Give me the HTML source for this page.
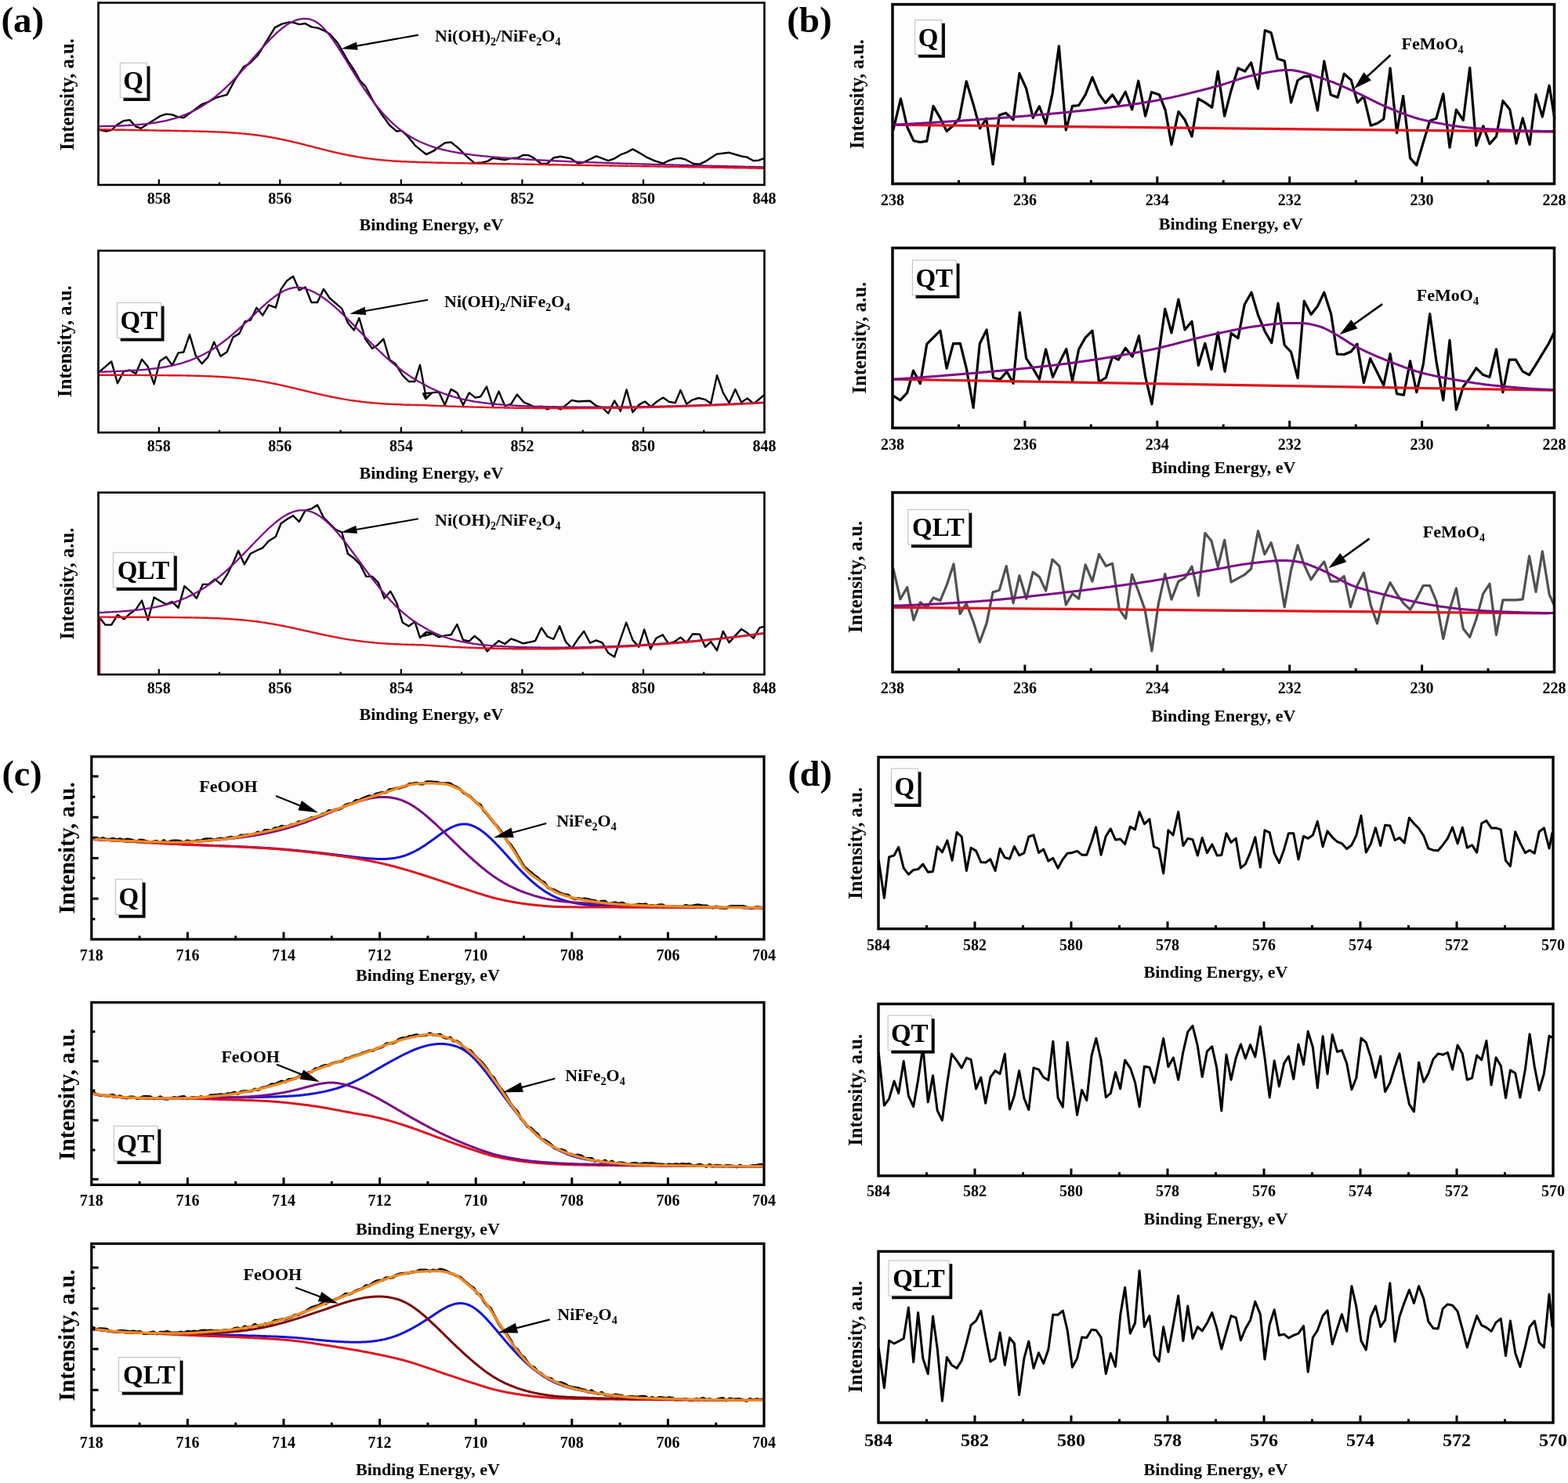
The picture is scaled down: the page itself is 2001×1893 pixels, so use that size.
<!DOCTYPE html>
<html><head><meta charset="utf-8"><title>XPS spectra</title>
<style>
html,body{margin:0;padding:0;background:#fff;}
body{width:2001px;height:1893px;overflow:hidden;}
svg{display:block;}
text{font-family:'Liberation Serif','Times New Roman',serif;font-weight:bold;fill:#000;}
</style></head><body>
<svg width="2001" height="1893" viewBox="0 0 2001 1893">
<rect width="2001" height="1893" fill="#fff"/>
<rect x="125.5" y="3.5" width="850" height="232.5" fill="#fdfdfd"/>
<rect x="125.5" y="320" width="850" height="232.1" fill="#fdfdfd"/>
<rect x="125.5" y="628.7" width="850" height="232.3" fill="#fdfdfd"/>
<polyline points="125.5,165.3 135.5,167.5 142.2,166 148.8,159.8 157.7,154.2 165.5,153.1 173.3,161.5 179.9,163.8 193.2,155.3 204.3,148.2 212.1,145.6 219.8,146.4 226.5,149.1 234.3,150.4 244.3,143.1 257.6,133.1 266.4,129.8 275.3,124.9 289.7,120.9 299.7,102.1 310.8,85.4 318.6,81 328.6,71 339.7,53.3 350.8,35.1 359.6,30.6 368.5,28.4 375.2,28.8 381.8,31.1 389.6,30 397.4,34.4 406.2,35.9 412.9,38.8 420.7,43.3 430.6,54.4 444,77.7 452.8,91 459.5,103.2 466.1,109.8 477.2,130.9 488.3,147.6 497.2,159.8 506.1,167.5 512.7,166.9 519.4,173.1 530.5,186.4 543.8,197 554.9,191.9 544.4,197 552.2,193 567.7,182.4 575.5,181.5 584.4,188.6 595.5,199.7 605.5,208.1 615.4,207.5 622.1,205.9 628.8,201.9 637.6,203 644.3,204.1 653.2,201.9 660.9,201.5 667.6,197.9 674.2,198.1 679.8,200.8 690.9,209 698.6,208.6 706.4,201.5 715.3,199.7 728.6,202.4 737.5,208.6 744.1,207.5 760.8,199.3 776.3,205.2 784.1,202.4 791.8,197.5 799.6,194.6 807.4,190.4 815.1,194.6 824,200.1 835.1,205.2 846.2,208.6 852.9,205.2 861.7,202.4 868.4,201.9 875,203.7 885,209 892.8,209.7 899.5,206.4 915,196.6 930.5,194.8 939.4,197.5 947.2,199.7 952.7,200.4 961.6,205.2 968.2,204.6 974.5,202.4" fill="none" stroke="#000" stroke-width="2.4" stroke-linejoin="round" stroke-linecap="round"/>
<polyline points="125.5,161.3 127,161.3 128.5,161.3 130,161.2 131.5,161.2 133,161.2 134.5,161.1 136,161.1 137.5,161.1 139,161 140.5,161 142,160.9 143.5,160.9 145,160.9 146.5,160.8 148,160.8 149.5,160.7 151,160.6 152.5,160.6 154,160.5 155.5,160.5 157,160.4 158.5,160.3 160,160.2 161.5,160.2 163,160.1 164.5,160 166,159.9 167.5,159.8 169,159.7 170.5,159.6 172,159.5 173.5,159.4 175,159.3 176.5,159.2 178,159 179.5,158.9 181,158.7 182.5,158.6 184,158.4 185.5,158.3 187,158.1 188.5,157.9 190,157.8 191.5,157.6 193,157.4 194.5,157.2 196,156.9 197.5,156.7 199,156.5 200.5,156.2 202,156 203.5,155.7 205,155.4 206.5,155.1 208,154.8 209.5,154.5 211,154.2 212.5,153.8 214,153.5 215.5,153.1 217,152.7 218.5,152.3 220,151.9 221.5,151.5 223,151.1 224.5,150.6 226,150.1 227.5,149.6 229,149.1 230.5,148.6 232,148.1 233.5,147.5 235,146.9 236.5,146.3 238,145.7 239.5,145.1 241,144.4 242.5,143.7 244,143 245.5,142.3 247,141.5 248.5,140.8 250,140 251.5,139.2 253,138.3 254.5,137.5 256,136.6 257.5,135.7 259,134.7 260.5,133.8 262,132.8 263.5,131.8 265,130.8 266.5,129.7 268,128.6 269.5,127.5 271,126.4 272.5,125.3 274,124.1 275.5,122.9 277,121.6 278.5,120.4 280,119.1 281.5,117.8 283,116.5 284.5,115.1 286,113.8 287.5,112.4 289,111 290.5,109.5 292,108.1 293.5,106.6 295,105.1 296.5,103.6 298,102 299.5,100.5 301,98.9 302.5,97.3 304,95.7 305.5,94.1 307,92.4 308.5,90.8 310,89.1 311.5,87.4 313,85.8 314.5,84.1 316,82.4 317.5,80.7 319,78.9 320.5,77.2 322,75.5 323.5,73.8 325,72.1 326.5,70.4 328,68.6 329.5,66.9 331,65.2 332.5,63.5 334,61.9 335.5,60.2 337,58.5 338.5,56.9 340,55.3 341.5,53.6 343,52.1 344.5,50.5 346,49 347.5,47.4 349,46 350.5,44.5 352,43.1 353.5,41.7 355,40.3 356.5,39 358,37.8 359.5,36.5 361,35.3 362.5,34.2 364,33.1 365.5,32.1 367,31.1 368.5,30.2 370,29.3 371.5,28.5 373,27.7 374.5,27 376,26.4 377.5,25.9 379,25.4 380.5,24.9 382,24.6 383.5,24.3 385,24.1 386.5,23.9 388,23.9 389.5,23.9 391,24 392.5,24.1 394,24.4 395.5,24.7 397,25 398.5,25.5 400,26.2 401.5,26.9 403,27.7 404.5,28.7 406,29.7 407.5,30.9 409,32.2 410.5,33.5 412,35 413.5,36.5 415,38.2 416.5,39.9 418,41.7 419.5,43.6 421,45.5 422.5,47.5 424,49.6 425.5,51.7 427,53.9 428.5,56.1 430,58.4 431.5,60.7 433,63 434.5,65.4 436,67.8 437.5,70.2 439,72.6 440.5,75 442,77.4 443.5,79.9 445,82.3 446.5,84.8 448,87.2 449.5,89.6 451,92.1 452.5,94.5 454,96.9 455.5,99.2 457,101.6 458.5,103.9 460,106.3 461.5,108.5 463,110.8 464.5,113.1 466,115.3 467.5,117.4 469,119.6 470.5,121.7 472,123.8 473.5,125.9 475,127.9 476.5,129.9 478,131.8 479.5,133.7 481,135.6 482.5,137.5 484,139.3 485.5,141.1 487,142.8 488.5,144.5 490,146.2 491.5,147.8 493,149.4 494.5,150.9 496,152.5 497.5,153.9 499,155.4 500.5,156.8 502,158.2 503.5,159.5 505,160.8 506.5,162.1 508,163.3 509.5,164.5 511,165.7 512.5,166.8 514,167.9 515.5,169 517,170.1 518.5,171.1 520,172.1 521.5,173 523,174 524.5,174.9 526,175.7 527.5,176.6 529,177.4 530.5,178.2 532,179 533.5,179.7 535,180.5 536.5,181.2 538,181.8 539.5,182.5 541,183.1 542.5,183.7 544,184.3 545.5,184.9 547,185.5 548.5,186 550,186.6 551.5,187.1 553,187.6 554.5,188 556,188.5 557.5,188.9 559,189.4 560.5,189.8 562,190.2 563.5,190.6 565,191 566.5,191.3 568,191.7 569.5,192.1 571,192.4 572.5,192.7 574,193 575.5,193.3 577,193.6 578.5,193.9 580,194.2 581.5,194.5 583,194.7 584.5,195 586,195.3 587.5,195.5 589,195.7 590.5,196 592,196.2 593.5,196.4 595,196.6 596.5,196.8 598,197 599.5,197.2 601,197.4 602.5,197.6 604,197.8 605.5,198 607,198.2 608.5,198.3 610,198.5 611.5,198.7 613,198.8 614.5,199 616,199.1 617.5,199.3 619,199.4 620.5,199.6 622,199.7 623.5,199.9 625,200 626.5,200.2 628,200.3 629.5,200.4 631,200.6 632.5,200.7 634,200.8 635.5,200.9 637,201 638.5,201.2 640,201.3 641.5,201.4 643,201.5 644.5,201.6 646,201.7 647.5,201.8 649,202 650.5,202.1 652,202.2 653.5,202.3 655,202.4 656.5,202.5 658,202.6 659.5,202.7 661,202.8 662.5,202.9 664,203 665.5,203.1 667,203.2 668.5,203.2 670,203.3 671.5,203.4 673,203.5 674.5,203.6 676,203.7 677.5,203.8 679,203.9 680.5,203.9 682,204 683.5,204.1 685,204.2 686.5,204.3 688,204.3 689.5,204.4 691,204.5 692.5,204.6 694,204.7 695.5,204.7 697,204.8 698.5,204.9 700,205 701.5,205 703,205.1 704.5,205.2 706,205.2 707.5,205.3 709,205.4 710.5,205.5 712,205.5 713.5,205.6 715,205.7 716.5,205.7 718,205.8 719.5,205.9 721,205.9 722.5,206 724,206.1 725.5,206.1 727,206.2 728.5,206.3 730,206.3 731.5,206.4 733,206.4 734.5,206.5 736,206.6 737.5,206.6 739,206.7 740.5,206.7 742,206.8 743.5,206.9 745,206.9 746.5,207 748,207 749.5,207.1 751,207.1 752.5,207.2 754,207.3 755.5,207.3 757,207.4 758.5,207.4 760,207.5 761.5,207.5 763,207.6 764.5,207.6 766,207.7 767.5,207.7 769,207.8 770.5,207.9 772,207.9 773.5,208 775,208 776.5,208.1 778,208.1 779.5,208.2 781,208.2 782.5,208.3 784,208.3 785.5,208.4 787,208.4 788.5,208.5 790,208.5 791.5,208.6 793,208.6 794.5,208.7 796,208.7 797.5,208.7 799,208.8 800.5,208.8 802,208.9 803.5,208.9 805,209 806.5,209 808,209.1 809.5,209.1 811,209.2 812.5,209.2 814,209.3 815.5,209.3 817,209.3 818.5,209.4 820,209.4 821.5,209.5 823,209.5 824.5,209.6 826,209.6 827.5,209.7 829,209.7 830.5,209.7 832,209.8 833.5,209.8 835,209.9 836.5,209.9 838,209.9 839.5,210 841,210 842.5,210.1 844,210.1 845.5,210.2 847,210.2 848.5,210.2 850,210.3 851.5,210.3 853,210.4 854.5,210.4 856,210.4 857.5,210.5 859,210.5 860.5,210.6 862,210.6 863.5,210.6 865,210.7 866.5,210.7 868,210.8 869.5,210.8 871,210.8 872.5,210.9 874,210.9 875.5,211 877,211 878.5,211 880,211.1 881.5,211.1 883,211.1 884.5,211.2 886,211.2 887.5,211.3 889,211.3 890.5,211.3 892,211.4 893.5,211.4 895,211.4 896.5,211.5 898,211.5 899.5,211.6 901,211.6 902.5,211.6 904,211.7 905.5,211.7 907,211.7 908.5,211.8 910,211.8 911.5,211.9 913,211.9 914.5,211.9 916,212 917.5,212 919,212 920.5,212.1 922,212.1 923.5,212.1 925,212.2 926.5,212.2 928,212.2 929.5,212.3 931,212.3 932.5,212.4 934,212.4 935.5,212.4 937,212.5 938.5,212.5 940,212.5 941.5,212.6 943,212.6 944.5,212.6 946,212.7 947.5,212.7 949,212.7 950.5,212.8 952,212.8 953.5,212.8 955,212.9 956.5,212.9 958,212.9 959.5,213 961,213 962.5,213 964,213.1 965.5,213.1 967,213.1 968.5,213.2 970,213.2 971.5,213.2 973,213.3 974.5,213.3" fill="none" stroke="#7b0d86" stroke-width="2.3" stroke-linejoin="round" stroke-linecap="round"/>
<polyline points="125.5,165.3 127,165.3 128.5,165.3 130,165.4 131.5,165.4 133,165.4 134.5,165.4 136,165.5 137.5,165.5 139,165.5 140.5,165.5 142,165.6 143.5,165.6 145,165.6 146.5,165.6 148,165.7 149.5,165.7 151,165.7 152.5,165.7 154,165.8 155.5,165.8 157,165.8 158.5,165.8 160,165.9 161.5,165.9 163,165.9 164.5,165.9 166,166 167.5,166 169,166 170.5,166 172,166.1 173.5,166.1 175,166.1 176.5,166.1 178,166.2 179.5,166.2 181,166.2 182.5,166.2 184,166.3 185.5,166.3 187,166.3 188.5,166.3 190,166.4 191.5,166.4 193,166.4 194.5,166.4 196,166.5 197.5,166.5 199,166.5 200.5,166.6 202,166.6 203.5,166.6 205,166.6 206.5,166.7 208,166.7 209.5,166.7 211,166.7 212.5,166.8 214,166.8 215.5,166.8 217,166.8 218.5,166.9 220,166.9 221.5,166.9 223,167 224.5,167 226,167 227.5,167 229,167.1 230.5,167.1 232,167.1 233.5,167.2 235,167.2 236.5,167.2 238,167.3 239.5,167.3 241,167.3 242.5,167.4 244,167.4 245.5,167.4 247,167.5 248.5,167.5 250,167.5 251.5,167.6 253,167.6 254.5,167.7 256,167.7 257.5,167.7 259,167.8 260.5,167.8 262,167.9 263.5,167.9 265,168 266.5,168 268,168.1 269.5,168.1 271,168.2 272.5,168.3 274,168.3 275.5,168.4 277,168.4 278.5,168.5 280,168.6 281.5,168.6 283,168.7 284.5,168.8 286,168.9 287.5,169 289,169 290.5,169.1 292,169.2 293.5,169.3 295,169.4 296.5,169.5 298,169.6 299.5,169.7 301,169.8 302.5,169.9 304,170.1 305.5,170.2 307,170.3 308.5,170.4 310,170.6 311.5,170.7 313,170.8 314.5,171 316,171.1 317.5,171.3 319,171.5 320.5,171.6 322,171.8 323.5,172 325,172.2 326.5,172.3 328,172.5 329.5,172.7 331,172.9 332.5,173.2 334,173.4 335.5,173.6 337,173.8 338.5,174 340,174.3 341.5,174.5 343,174.8 344.5,175 346,175.3 347.5,175.6 349,175.8 350.5,176.1 352,176.4 353.5,176.7 355,177 356.5,177.3 358,177.6 359.5,177.9 361,178.2 362.5,178.5 364,178.8 365.5,179.1 367,179.5 368.5,179.8 370,180.2 371.5,180.5 373,180.9 374.5,181.2 376,181.6 377.5,181.9 379,182.3 380.5,182.6 382,183 383.5,183.4 385,183.8 386.5,184.1 388,184.5 389.5,184.9 391,185.3 392.5,185.7 394,186 395.5,186.4 397,186.8 398.5,187.2 400,187.6 401.5,188 403,188.4 404.5,188.8 406,189.1 407.5,189.5 409,189.9 410.5,190.3 412,190.7 413.5,191 415,191.4 416.5,191.8 418,192.2 419.5,192.5 421,192.9 422.5,193.3 424,193.6 425.5,194 427,194.3 428.5,194.7 430,195 431.5,195.3 433,195.7 434.5,196 436,196.3 437.5,196.7 439,197 440.5,197.3 442,197.6 443.5,197.9 445,198.2 446.5,198.5 448,198.8 449.5,199 451,199.3 452.5,199.6 454,199.8 455.5,200.1 457,200.4 458.5,200.6 460,200.8 461.5,201.1 463,201.3 464.5,201.5 466,201.7 467.5,202 469,202.2 470.5,202.4 472,202.6 473.5,202.7 475,202.9 476.5,203.1 478,203.3 479.5,203.5 481,203.6 482.5,203.8 484,203.9 485.5,204.1 487,204.2 488.5,204.4 490,204.5 491.5,204.6 493,204.8 494.5,204.9 496,205 497.5,205.1 499,205.2 500.5,205.4 502,205.5 503.5,205.6 505,205.7 506.5,205.7 508,205.8 509.5,205.9 511,206 512.5,206.1 514,206.2 515.5,206.3 517,206.3 518.5,206.4 520,206.5 521.5,206.5 523,206.6 524.5,206.7 526,206.7 527.5,206.8 529,206.8 530.5,206.9 532,207 533.5,207 535,207.1 536.5,207.1 538,207.1 539.5,207.2 541,207.2 542.5,207.3 544,207.3 545.5,207.4 547,207.4 548.5,207.4 550,207.5 551.5,207.5 553,207.6 554.5,207.6 556,207.6 557.5,207.7 559,207.7 560.5,207.7 562,207.8 563.5,207.8 565,207.8 566.5,207.9 568,207.9 569.5,207.9 571,208 572.5,208 574,208 575.5,208 577,208.1 578.5,208.1 580,208.1 581.5,208.2 583,208.2 584.5,208.2 586,208.2 587.5,208.3 589,208.3 590.5,208.3 592,208.3 593.5,208.4 595,208.4 596.5,208.4 598,208.4 599.5,208.5 601,208.5 602.5,208.5 604,208.6 605.5,208.6 607,208.6 608.5,208.6 610,208.7 611.5,208.7 613,208.7 614.5,208.7 616,208.8 617.5,208.8 619,208.8 620.5,208.8 622,208.9 623.5,208.9 625,208.9 626.5,208.9 628,209 629.5,209 631,209 632.5,209 634,209.1 635.5,209.1 637,209.1 638.5,209.1 640,209.2 641.5,209.2 643,209.2 644.5,209.2 646,209.3 647.5,209.3 649,209.3 650.5,209.3 652,209.4 653.5,209.4 655,209.4 656.5,209.4 658,209.5 659.5,209.5 661,209.5 662.5,209.5 664,209.6 665.5,209.6 667,209.6 668.5,209.6 670,209.7 671.5,209.7 673,209.7 674.5,209.7 676,209.8 677.5,209.8 679,209.8 680.5,209.8 682,209.9 683.5,209.9 685,209.9 686.5,209.9 688,210 689.5,210 691,210 692.5,210 694,210.1 695.5,210.1 697,210.1 698.5,210.1 700,210.2 701.5,210.2 703,210.2 704.5,210.2 706,210.3 707.5,210.3 709,210.3 710.5,210.3 712,210.4 713.5,210.4 715,210.4 716.5,210.4 718,210.5 719.5,210.5 721,210.5 722.5,210.5 724,210.6 725.5,210.6 727,210.6 728.5,210.6 730,210.7 731.5,210.7 733,210.7 734.5,210.7 736,210.8 737.5,210.8 739,210.8 740.5,210.8 742,210.9 743.5,210.9 745,210.9 746.5,210.9 748,211 749.5,211 751,211 752.5,211 754,211.1 755.5,211.1 757,211.1 758.5,211.1 760,211.2 761.5,211.2 763,211.2 764.5,211.2 766,211.3 767.5,211.3 769,211.3 770.5,211.3 772,211.4 773.5,211.4 775,211.4 776.5,211.4 778,211.5 779.5,211.5 781,211.5 782.5,211.5 784,211.6 785.5,211.6 787,211.6 788.5,211.6 790,211.7 791.5,211.7 793,211.7 794.5,211.7 796,211.8 797.5,211.8 799,211.8 800.5,211.8 802,211.9 803.5,211.9 805,211.9 806.5,212 808,212 809.5,212 811,212 812.5,212.1 814,212.1 815.5,212.1 817,212.1 818.5,212.2 820,212.2 821.5,212.2 823,212.2 824.5,212.3 826,212.3 827.5,212.3 829,212.3 830.5,212.4 832,212.4 833.5,212.4 835,212.4 836.5,212.5 838,212.5 839.5,212.5 841,212.5 842.5,212.6 844,212.6 845.5,212.6 847,212.6 848.5,212.7 850,212.7 851.5,212.7 853,212.7 854.5,212.8 856,212.8 857.5,212.8 859,212.8 860.5,212.9 862,212.9 863.5,212.9 865,212.9 866.5,213 868,213 869.5,213 871,213 872.5,213.1 874,213.1 875.5,213.1 877,213.1 878.5,213.2 880,213.2 881.5,213.2 883,213.2 884.5,213.3 886,213.3 887.5,213.3 889,213.3 890.5,213.4 892,213.4 893.5,213.4 895,213.4 896.5,213.5 898,213.5 899.5,213.5 901,213.6 902.5,213.6 904,213.6 905.5,213.6 907,213.7 908.5,213.7 910,213.7 911.5,213.7 913,213.8 914.5,213.8 916,213.8 917.5,213.8 919,213.9 920.5,213.9 922,213.9 923.5,213.9 925,214 926.5,214 928,214 929.5,214 931,214.1 932.5,214.1 934,214.1 935.5,214.1 937,214.2 938.5,214.2 940,214.2 941.5,214.2 943,214.3 944.5,214.3 946,214.3 947.5,214.3 949,214.4 950.5,214.4 952,214.4 953.5,214.4 955,214.5 956.5,214.5 958,214.5 959.5,214.5 961,214.6 962.5,214.6 964,214.6 965.5,214.6 967,214.7 968.5,214.7 970,214.7 971.5,214.8 973,214.8 974.5,214.8" fill="none" stroke="#e0141e" stroke-width="2.4" stroke-linejoin="round" stroke-linecap="round"/>
<polyline points="126.2,475.2 134.4,468.1 142.2,461.4 150,489.2 157.7,474.3 165.5,472.5 173.3,477 181,458.8 188.8,468.1 196.6,490.3 203.9,461 212.1,455.5 219.8,466.3 227.6,450.4 234.3,449.5 242,427.1 249.8,454.1 257.6,464.3 265.3,455.9 273.1,436.6 281.5,454.8 289.7,449.2 297.5,430.4 305.3,425.9 312.6,410.4 319.7,408.6 327.5,392.7 335.2,402.6 343,389.3 351.9,392.7 358.5,369.4 366.3,358.3 374.1,352.7 381.8,370.5 389.6,366.5 397.4,386 405.1,386 412.9,368.9 420.7,380.5 428.4,387.1 436.2,393.8 444,412.2 451.7,421.5 458.4,406 466.1,432.6 475,444.8 481.7,440.4 489.4,432.6 497.2,459.2 505,464.8 513.8,479.2 521.6,487 529.4,487 536,465.9 543.8,508 551.6,501.4 540,502.5 543.3,509.2 551.1,501.4 560,500.3 567.7,516.9 575.5,496.9 583.3,501.4 591,516.9 598.8,501.4 606.6,507.6 613.2,506.3 621,493.6 628.8,518 636.5,499.6 644.3,518 652.1,515.8 659.8,503.6 668.7,513.6 676.5,516.9 683.1,520.2 690.9,518.7 698.6,522.5 706.4,519.1 715.3,522.5 721.9,517.4 729.7,510.9 737.5,512.5 745.2,512 753,511.8 760.8,518 768.5,520.2 776.3,527.6 784.1,511.4 791.8,524.7 799.6,497.4 807.4,526.2 815.1,516.9 822.9,512.5 830.7,519.1 838.4,512.5 846.2,507.6 854,512.9 861.7,514.3 868.4,498.1 876.2,515.8 883.9,510.3 891.7,508 899.5,509.8 907.2,515.1 915,479.2 922.8,501.4 930.5,514.3 938.3,496.9 946.1,513.6 953.8,508.5 961.6,515.1 969.3,509.2 974.5,504.7" fill="none" stroke="#000" stroke-width="2.4" stroke-linejoin="round" stroke-linecap="round"/>
<polyline points="126,474.7 127.5,474.7 129,474.6 130.5,474.6 132,474.6 133.5,474.5 135,474.5 136.5,474.4 138,474.4 139.5,474.3 141,474.3 142.5,474.2 144,474.2 145.5,474.1 147,474.1 148.5,474 150,473.9 151.5,473.9 153,473.8 154.5,473.7 156,473.7 157.5,473.6 159,473.5 160.5,473.5 162,473.4 163.5,473.3 165,473.2 166.5,473.1 168,473 169.5,472.9 171,472.8 172.5,472.7 174,472.6 175.5,472.5 177,472.4 178.5,472.3 180,472.2 181.5,472.1 183,471.9 184.5,471.8 186,471.7 187.5,471.5 189,471.4 190.5,471.2 192,471 193.5,470.9 195,470.7 196.5,470.5 198,470.3 199.5,470.1 201,469.9 202.5,469.7 204,469.5 205.5,469.3 207,469 208.5,468.8 210,468.5 211.5,468.3 213,468 214.5,467.7 216,467.4 217.5,467.1 219,466.8 220.5,466.4 222,466.1 223.5,465.7 225,465.4 226.5,465 228,464.6 229.5,464.2 231,463.8 232.5,463.3 234,462.9 235.5,462.4 237,461.9 238.5,461.4 240,460.9 241.5,460.3 243,459.8 244.5,459.2 246,458.6 247.5,458 249,457.4 250.5,456.8 252,456.1 253.5,455.4 255,454.7 256.5,454 258,453.3 259.5,452.5 261,451.7 262.5,450.9 264,450.1 265.5,449.2 267,448.4 268.5,447.5 270,446.6 271.5,445.6 273,444.7 274.5,443.7 276,442.7 277.5,441.7 279,440.7 280.5,439.6 282,438.5 283.5,437.4 285,436.3 286.5,435.2 288,434 289.5,432.8 291,431.6 292.5,430.4 294,429.2 295.5,427.9 297,426.7 298.5,425.4 300,424.1 301.5,422.8 303,421.4 304.5,420.1 306,418.7 307.5,417.4 309,416 310.5,414.6 312,413.2 313.5,411.8 315,410.4 316.5,409 318,407.6 319.5,406.1 321,404.7 322.5,403.3 324,401.9 325.5,400.4 327,399 328.5,397.6 330,396.2 331.5,394.8 333,393.4 334.5,392.1 336,390.7 337.5,389.4 339,388 340.5,386.7 342,385.4 343.5,384.2 345,383 346.5,381.7 348,380.6 349.5,379.4 351,378.3 352.5,377.3 354,376.2 355.5,375.2 357,374.3 358.5,373.4 360,372.6 361.5,371.8 363,371 364.5,370.3 366,369.7 367.5,369.1 369,368.6 370.5,368.2 372,367.8 373.5,367.5 375,367.2 376.5,367 378,366.9 379.5,366.9 381,366.9 382.5,367 384,367.2 385.5,367.5 387,367.8 388.5,368.2 390,368.6 391.5,369.1 393,369.6 394.5,370.2 396,370.8 397.5,371.4 399,372.1 400.5,372.8 402,373.6 403.5,374.4 405,375.2 406.5,376.1 408,377 409.5,378 411,379 412.5,380 414,381.1 415.5,382.2 417,383.3 418.5,384.4 420,385.6 421.5,386.8 423,388.1 424.5,389.3 426,390.6 427.5,391.9 429,393.3 430.5,394.6 432,396 433.5,397.4 435,398.8 436.5,400.2 438,401.7 439.5,403.1 441,404.6 442.5,406.1 444,407.6 445.5,409.1 447,410.6 448.5,412.1 450,413.6 451.5,415.2 453,416.7 454.5,418.2 456,419.8 457.5,421.3 459,422.9 460.5,424.4 462,426 463.5,427.5 465,429 466.5,430.6 468,432.1 469.5,433.6 471,435.2 472.5,436.7 474,438.2 475.5,439.7 477,441.2 478.5,442.7 480,444.1 481.5,445.6 483,447 484.5,448.5 486,449.9 487.5,451.3 489,452.7 490.5,454.1 492,455.5 493.5,456.8 495,458.2 496.5,459.5 498,460.8 499.5,462.1 501,463.4 502.5,464.6 504,465.9 505.5,467.1 507,468.3 508.5,469.5 510,470.7 511.5,471.8 513,473 514.5,474.1 516,475.2 517.5,476.3 519,477.3 520.5,478.4 522,479.4 523.5,480.4 525,481.4 526.5,482.3 528,483.3 529.5,484.2 531,485.1 532.5,486 534,486.9 535.5,487.7 537,488.6 538.5,489.4 540,490.2 541.5,491 543,491.8 544.5,492.6 546,493.4 547.5,494.2 549,494.9 550.5,495.7 552,496.4 553.5,497.1 555,497.8 556.5,498.4 558,499.1 559.5,499.7 561,500.3 562.5,500.9 564,501.5 565.5,502 567,502.6 568.5,503.1 570,503.7 571.5,504.2 573,504.7 574.5,505.1 576,505.6 577.5,506.1 579,506.5 580.5,506.9 582,507.3 583.5,507.8 585,508.1 586.5,508.5 588,508.9 589.5,509.3 591,509.6 592.5,509.9 594,510.3 595.5,510.6 597,510.9 598.5,511.2 600,511.5 601.5,511.8 603,512 604.5,512.3 606,512.6 607.5,512.8 609,513 610.5,513.3 612,513.5 613.5,513.7 615,513.9 616.5,514.1 618,514.3 619.5,514.5 621,514.7 622.5,514.9 624,515.1 625.5,515.2 627,515.4 628.5,515.5 630,515.7 631.5,515.8 633,516 634.5,516.1 636,516.2 637.5,516.4 639,516.5 640.5,516.6 642,516.7 643.5,516.8 645,517 646.5,517.1 648,517.2 649.5,517.3 651,517.4 652.5,517.4 654,517.5 655.5,517.6 657,517.7 658.5,517.8 660,517.9 661.5,517.9 663,518 664.5,518.1 666,518.2 667.5,518.2 669,518.3 670.5,518.3 672,518.4 673.5,518.5 675,518.5 676.5,518.6 678,518.6 679.5,518.7 681,518.7 682.5,518.8 684,518.8 685.5,518.9 687,518.9 688.5,518.9 690,519 691.5,519 693,519.1 694.5,519.1 696,519.1 697.5,519.2 699,519.2 700.5,519.2 702,519.3 703.5,519.3 705,519.3 706.5,519.3 708,519.4 709.5,519.4 711,519.4 712.5,519.4 714,519.5 715.5,519.5 717,519.5 718.5,519.5 720,519.5 721.5,519.5 723,519.6 724.5,519.6 726,519.6 727.5,519.6 729,519.6 730.5,519.6 732,519.6 733.5,519.7 735,519.7 736.5,519.7 738,519.7 739.5,519.7 741,519.7 742.5,519.7 744,519.7 745.5,519.7 747,519.7 748.5,519.7 750,519.7 751.5,519.7 753,519.7 754.5,519.7 756,519.7 757.5,519.7 759,519.7 760.5,519.7 762,519.7 763.5,519.7 765,519.7 766.5,519.7 768,519.7 769.5,519.7 771,519.7 772.5,519.7 774,519.7 775.5,519.7 777,519.7 778.5,519.7 780,519.6 781.5,519.6 783,519.6 784.5,519.6 786,519.6 787.5,519.6 789,519.6 790.5,519.6 792,519.5 793.5,519.5 795,519.5 796.5,519.5 798,519.5 799.5,519.5 801,519.4 802.5,519.4 804,519.4 805.5,519.4 807,519.4 808.5,519.4 810,519.3 811.5,519.3 813,519.3 814.5,519.3 816,519.2 817.5,519.2 819,519.2 820.5,519.2 822,519.1 823.5,519.1 825,519.1 826.5,519.1 828,519 829.5,519 831,519 832.5,518.9 834,518.9 835.5,518.9 837,518.8 838.5,518.8 840,518.8 841.5,518.7 843,518.7 844.5,518.7 846,518.6 847.5,518.6 849,518.6 850.5,518.5 852,518.5 853.5,518.5 855,518.4 856.5,518.4 858,518.3 859.5,518.3 861,518.3 862.5,518.2 864,518.2 865.5,518.1 867,518.1 868.5,518.1 870,518 871.5,518 873,517.9 874.5,517.9 876,517.8 877.5,517.8 879,517.7 880.5,517.7 882,517.6 883.5,517.6 885,517.5 886.5,517.5 888,517.4 889.5,517.4 891,517.3 892.5,517.3 894,517.2 895.5,517.2 897,517.1 898.5,517.1 900,517 901.5,517 903,516.9 904.5,516.9 906,516.8 907.5,516.7 909,516.7 910.5,516.6 912,516.6 913.5,516.5 915,516.4 916.5,516.4 918,516.3 919.5,516.3 921,516.2 922.5,516.1 924,516.1 925.5,516 927,516 928.5,515.9 930,515.8 931.5,515.8 933,515.7 934.5,515.6 936,515.6 937.5,515.5 939,515.4 940.5,515.4 942,515.3 943.5,515.2 945,515.1 946.5,515.1 948,515 949.5,514.9 951,514.9 952.5,514.8 954,514.7 955.5,514.6 957,514.6 958.5,514.5 960,514.4 961.5,514.3 963,514.3 964.5,514.2 966,514.1 967.5,514 969,513.9 970.5,513.9 972,513.8 973.5,513.7" fill="none" stroke="#7b0d86" stroke-width="2.3" stroke-linejoin="round" stroke-linecap="round"/>
<polyline points="126,478.7 127.5,478.7 129,478.7 130.5,478.7 132,478.7 133.5,478.7 135,478.7 136.5,478.7 138,478.7 139.5,478.8 141,478.8 142.5,478.8 144,478.8 145.5,478.8 147,478.8 148.5,478.8 150,478.8 151.5,478.8 153,478.8 154.5,478.8 156,478.8 157.5,478.8 159,478.8 160.5,478.8 162,478.8 163.5,478.9 165,478.9 166.5,478.9 168,478.9 169.5,478.9 171,478.9 172.5,478.9 174,478.9 175.5,478.9 177,478.9 178.5,478.9 180,478.9 181.5,478.9 183,478.9 184.5,479 186,479 187.5,479 189,479 190.5,479 192,479 193.5,479 195,479 196.5,479 198,479 199.5,479 201,479 202.5,479.1 204,479.1 205.5,479.1 207,479.1 208.5,479.1 210,479.1 211.5,479.1 213,479.1 214.5,479.2 216,479.2 217.5,479.2 219,479.2 220.5,479.2 222,479.2 223.5,479.2 225,479.3 226.5,479.3 228,479.3 229.5,479.3 231,479.3 232.5,479.4 234,479.4 235.5,479.4 237,479.4 238.5,479.5 240,479.5 241.5,479.5 243,479.5 244.5,479.6 246,479.6 247.5,479.6 249,479.7 250.5,479.7 252,479.7 253.5,479.8 255,479.8 256.5,479.9 258,479.9 259.5,480 261,480 262.5,480.1 264,480.1 265.5,480.2 267,480.2 268.5,480.3 270,480.4 271.5,480.4 273,480.5 274.5,480.6 276,480.7 277.5,480.7 279,480.8 280.5,480.9 282,481 283.5,481.1 285,481.2 286.5,481.3 288,481.4 289.5,481.5 291,481.6 292.5,481.7 294,481.8 295.5,482 297,482.1 298.5,482.2 300,482.4 301.5,482.5 303,482.7 304.5,482.8 306,483 307.5,483.1 309,483.3 310.5,483.5 312,483.6 313.5,483.8 315,484 316.5,484.2 318,484.4 319.5,484.6 321,484.8 322.5,485 324,485.2 325.5,485.4 327,485.7 328.5,485.9 330,486.1 331.5,486.4 333,486.6 334.5,486.9 336,487.1 337.5,487.4 339,487.7 340.5,488 342,488.2 343.5,488.5 345,488.8 346.5,489.1 348,489.4 349.5,489.7 351,490 352.5,490.3 354,490.6 355.5,490.9 357,491.3 358.5,491.6 360,491.9 361.5,492.3 363,492.6 364.5,492.9 366,493.3 367.5,493.6 369,494 370.5,494.3 372,494.7 373.5,495 375,495.4 376.5,495.7 378,496.1 379.5,496.5 381,496.8 382.5,497.2 384,497.5 385.5,497.9 387,498.3 388.5,498.6 390,499 391.5,499.4 393,499.7 394.5,500.1 396,500.4 397.5,500.8 399,501.2 400.5,501.5 402,501.9 403.5,502.2 405,502.6 406.5,502.9 408,503.3 409.5,503.6 411,503.9 412.5,504.3 414,504.6 415.5,504.9 417,505.3 418.5,505.6 420,505.9 421.5,506.2 423,506.5 424.5,506.8 426,507.1 427.5,507.4 429,507.7 430.5,508 432,508.3 433.5,508.6 435,508.9 436.5,509.1 438,509.4 439.5,509.6 441,509.9 442.5,510.1 444,510.4 445.5,510.6 447,510.9 448.5,511.1 450,511.3 451.5,511.5 453,511.7 454.5,511.9 456,512.1 457.5,512.3 459,512.5 460.5,512.7 462,512.9 463.5,513.1 465,513.2 466.5,513.4 468,513.6 469.5,513.7 471,513.9 472.5,514 474,514.2 475.5,514.3 477,514.4 478.5,514.6 480,514.7 481.5,514.8 483,514.9 484.5,515 486,515.1 487.5,515.2 489,515.3 490.5,515.4 492,515.5 493.5,515.6 495,515.7 496.5,515.8 498,515.9 499.5,515.9 501,516 502.5,516.1 504,516.2 505.5,516.2 507,516.3 508.5,516.3 510,516.4 511.5,516.5 513,516.5 514.5,516.6 516,516.6 517.5,516.7 519,516.7 520.5,516.7 522,516.8 523.5,516.8 525,516.9 526.5,516.9 528,516.9 529.5,517 531,517 532.5,517 534,517 535.5,517.1 537,517.1 538.5,517.1 540,517.1 541.5,517.2 543,517.3 544.5,517.4 546,517.5 547.5,517.5 549,517.6 550.5,517.7 552,517.7 553.5,517.8 555,517.9 556.5,517.9 558,518 559.5,518.1 561,518.1 562.5,518.2 564,518.2 565.5,518.3 567,518.4 568.5,518.4 570,518.5 571.5,518.5 573,518.6 574.5,518.6 576,518.7 577.5,518.7 579,518.8 580.5,518.8 582,518.9 583.5,518.9 585,519 586.5,519 588,519.1 589.5,519.1 591,519.2 592.5,519.2 594,519.3 595.5,519.3 597,519.4 598.5,519.4 600,519.4 601.5,519.5 603,519.5 604.5,519.6 606,519.6 607.5,519.6 609,519.7 610.5,519.7 612,519.8 613.5,519.8 615,519.8 616.5,519.9 618,519.9 619.5,519.9 621,520 622.5,520 624,520.1 625.5,520.1 627,520.1 628.5,520.1 630,520.2 631.5,520.2 633,520.2 634.5,520.3 636,520.3 637.5,520.3 639,520.4 640.5,520.4 642,520.4 643.5,520.4 645,520.5 646.5,520.5 648,520.5 649.5,520.5 651,520.6 652.5,520.6 654,520.6 655.5,520.6 657,520.7 658.5,520.7 660,520.7 661.5,520.7 663,520.8 664.5,520.8 666,520.8 667.5,520.8 669,520.8 670.5,520.8 672,520.9 673.5,520.9 675,520.9 676.5,520.9 678,520.9 679.5,520.9 681,521 682.5,521 684,521 685.5,521 687,521 688.5,521 690,521 691.5,521 693,521.1 694.5,521.1 696,521.1 697.5,521.1 699,521.1 700.5,521.1 702,521.1 703.5,521.1 705,521.1 706.5,521.1 708,521.1 709.5,521.1 711,521.1 712.5,521.2 714,521.2 715.5,521.2 717,521.2 718.5,521.2 720,521.2 721.5,521.2 723,521.2 724.5,521.2 726,521.2 727.5,521.2 729,521.2 730.5,521.2 732,521.2 733.5,521.2 735,521.2 736.5,521.1 738,521.1 739.5,521.1 741,521.1 742.5,521.1 744,521.1 745.5,521.1 747,521.1 748.5,521.1 750,521.1 751.5,521.1 753,521.1 754.5,521.1 756,521.1 757.5,521 759,521 760.5,521 762,521 763.5,521 765,521 766.5,521 768,521 769.5,520.9 771,520.9 772.5,520.9 774,520.9 775.5,520.9 777,520.9 778.5,520.8 780,520.8 781.5,520.8 783,520.8 784.5,520.8 786,520.7 787.5,520.7 789,520.7 790.5,520.7 792,520.7 793.5,520.6 795,520.6 796.5,520.6 798,520.6 799.5,520.5 801,520.5 802.5,520.5 804,520.5 805.5,520.4 807,520.4 808.5,520.4 810,520.3 811.5,520.3 813,520.3 814.5,520.3 816,520.2 817.5,520.2 819,520.2 820.5,520.1 822,520.1 823.5,520.1 825,520 826.5,520 828,520 829.5,519.9 831,519.9 832.5,519.9 834,519.8 835.5,519.8 837,519.7 838.5,519.7 840,519.7 841.5,519.6 843,519.6 844.5,519.6 846,519.5 847.5,519.5 849,519.4 850.5,519.4 852,519.3 853.5,519.3 855,519.3 856.5,519.2 858,519.2 859.5,519.1 861,519.1 862.5,519 864,519 865.5,518.9 867,518.9 868.5,518.8 870,518.8 871.5,518.7 873,518.7 874.5,518.7 876,518.6 877.5,518.5 879,518.5 880.5,518.4 882,518.4 883.5,518.3 885,518.3 886.5,518.2 888,518.2 889.5,518.1 891,518.1 892.5,518 894,518 895.5,517.9 897,517.8 898.5,517.8 900,517.7 901.5,517.7 903,517.6 904.5,517.5 906,517.5 907.5,517.4 909,517.4 910.5,517.3 912,517.2 913.5,517.2 915,517.1 916.5,517 918,517 919.5,516.9 921,516.9 922.5,516.8 924,516.7 925.5,516.7 927,516.6 928.5,516.5 930,516.5 931.5,516.4 933,516.3 934.5,516.2 936,516.2 937.5,516.1 939,516 940.5,516 942,515.9 943.5,515.8 945,515.7 946.5,515.7 948,515.6 949.5,515.5 951,515.4 952.5,515.4 954,515.3 955.5,515.2 957,515.1 958.5,515.1 960,515 961.5,514.9 963,514.8 964.5,514.7 966,514.7 967.5,514.6 969,514.5 970.5,514.4 972,514.3 973.5,514.2" fill="none" stroke="#e0141e" stroke-width="2.4" stroke-linejoin="round" stroke-linecap="round"/>
<polyline points="126.7,788.1 134.4,797.6 142.2,797.6 150,784.8 158.2,790.3 165.5,783.6 173.3,778.1 181,766.6 188.8,791.4 196.6,762.6 204.3,767 212.1,771.4 219.8,768.1 227.6,775.9 235.4,748.1 243.1,754.8 250.9,763.7 258.7,745.9 266.4,745.9 274.2,739.3 282,745.9 289.7,733.7 297.5,718.2 304.2,703.1 311.9,720.4 319.7,706.7 327.5,702.7 335.2,699.3 343,690.5 351.9,684.9 358.5,668.3 366.3,662.7 374.1,658.3 381.8,666 389.6,651.6 397.4,649.4 405.1,644.5 412.9,660.5 420.7,668.3 428.4,676 436.2,679.4 444,707.1 451.7,712.6 459.5,720.4 467.3,735.9 475,735.9 482.8,743.7 490.5,763.7 498.3,754.8 506.1,769.2 513.8,794.7 521.6,799.2 529.4,793.6 536,814 543.8,806.9 551.6,809.2 540,811.8 544.4,806.9 551.1,808.1 560,813.2 567.7,811.4 575.5,810.3 583.3,797 591,816.9 598.8,818.5 605.5,811.8 613.2,818 621.7,831.4 628.8,824.7 636.5,818 644.3,822 652.1,815.4 659.8,818 667.6,821.4 675.4,819.8 683.1,818 690.9,801.4 698.6,812.5 706.4,815.8 714.2,799.2 721.9,819.2 729.7,827.4 737.5,815.8 745.2,805.8 753,820.7 760.8,817.4 768.5,820.3 776.3,833.6 784.1,838.5 791.8,815.8 799.2,794.7 807.4,816.9 815.1,825.8 822.2,803.6 830.2,828.7 837.3,814.7 845.8,810.3 852.9,821.4 860.6,819.2 868.4,813.6 876.2,820.3 883.9,809.2 892.8,809.6 899.9,825.8 907.2,819.2 915,830.2 922.8,805.8 930.5,820.3 938.3,811.4 946.1,803 953.8,808.1 961.6,814.7 969.3,801.4 974.5,799.8" fill="none" stroke="#000" stroke-width="2.4" stroke-linejoin="round" stroke-linecap="round"/>
<polyline points="126,782 127.5,782 129,781.9 130.5,781.8 132,781.8 133.5,781.7 135,781.6 136.5,781.5 138,781.5 139.5,781.4 141,781.3 142.5,781.2 144,781.1 145.5,781 147,781 148.5,780.9 150,780.8 151.5,780.7 153,780.6 154.5,780.5 156,780.3 157.5,780.2 159,780.1 160.5,780 162,779.9 163.5,779.7 165,779.6 166.5,779.4 168,779.3 169.5,779.2 171,779 172.5,778.8 174,778.7 175.5,778.5 177,778.3 178.5,778.1 180,777.9 181.5,777.7 183,777.5 184.5,777.3 186,777.1 187.5,776.9 189,776.6 190.5,776.4 192,776.2 193.5,775.9 195,775.6 196.5,775.3 198,775.1 199.5,774.8 201,774.4 202.5,774.1 204,773.8 205.5,773.5 207,773.1 208.5,772.7 210,772.4 211.5,772 213,771.6 214.5,771.2 216,770.7 217.5,770.3 219,769.8 220.5,769.4 222,768.9 223.5,768.4 225,767.9 226.5,767.3 228,766.8 229.5,766.2 231,765.6 232.5,765 234,764.4 235.5,763.8 237,763.2 238.5,762.5 240,761.8 241.5,761.1 243,760.4 244.5,759.6 246,758.9 247.5,758.1 249,757.3 250.5,756.5 252,755.6 253.5,754.8 255,753.9 256.5,753 258,752.1 259.5,751.1 261,750.1 262.5,749.2 264,748.1 265.5,747.1 267,746.1 268.5,745 270,743.9 271.5,742.8 273,741.7 274.5,740.5 276,739.3 277.5,738.1 279,736.9 280.5,735.7 282,734.4 283.5,733.2 285,731.9 286.5,730.6 288,729.2 289.5,727.9 291,726.5 292.5,725.1 294,723.7 295.5,722.3 297,720.9 298.5,719.4 300,718 301.5,716.5 303,715 304.5,713.5 306,712 307.5,710.5 309,709 310.5,707.5 312,705.9 313.5,704.4 315,702.8 316.5,701.3 318,699.7 319.5,698.1 321,696.6 322.5,695 324,693.5 325.5,691.9 327,690.4 328.5,688.8 330,687.3 331.5,685.7 333,684.2 334.5,682.7 336,681.2 337.5,679.7 339,678.3 340.5,676.8 342,675.4 343.5,674 345,672.6 346.5,671.3 348,670 349.5,668.7 351,667.4 352.5,666.2 354,665 355.5,663.8 357,662.7 358.5,661.6 360,660.6 361.5,659.6 363,658.7 364.5,657.8 366,656.9 367.5,656.1 369,655.4 370.5,654.7 372,654.1 373.5,653.5 375,653 376.5,652.6 378,652.2 379.5,651.9 381,651.6 382.5,651.4 384,651.3 385.5,651.3 387,651.3 388.5,651.4 390,651.6 391.5,651.8 393,652.1 394.5,652.5 396,652.9 397.5,653.4 399,654 400.5,654.6 402,655.4 403.5,656.1 405,657 406.5,657.9 408,658.9 409.5,659.9 411,661 412.5,662.1 414,663.3 415.5,664.6 417,665.9 418.5,667.3 420,668.7 421.5,670.2 423,671.7 424.5,673.2 426,674.8 427.5,676.5 429,678.2 430.5,679.9 432,681.6 433.5,683.4 435,685.2 436.5,687.1 438,689 439.5,690.9 441,692.8 442.5,694.7 444,696.7 445.5,698.7 447,700.7 448.5,702.7 450,704.7 451.5,706.7 453,708.8 454.5,710.8 456,712.9 457.5,714.9 459,717 460.5,719 462,721.1 463.5,723.1 465,725.1 466.5,727.2 468,729.2 469.5,731.2 471,733.2 472.5,735.2 474,737.2 475.5,739.1 477,741.1 478.5,743 480,744.9 481.5,746.8 483,748.7 484.5,750.5 486,752.4 487.5,754.2 489,755.9 490.5,757.7 492,759.4 493.5,761.2 495,762.8 496.5,764.5 498,766.1 499.5,767.7 501,769.3 502.5,770.8 504,772.4 505.5,773.9 507,775.3 508.5,776.7 510,778.1 511.5,779.5 513,780.9 514.5,782.2 516,783.5 517.5,784.7 519,785.9 520.5,787.1 522,788.3 523.5,789.5 525,790.6 526.5,791.7 528,792.7 529.5,793.7 531,794.7 532.5,795.7 534,796.7 535.5,797.6 537,798.5 538.5,799.3 540,800.2 541.5,801.1 543,802 544.5,802.8 546,803.7 547.5,804.5 549,805.2 550.5,806 552,806.7 553.5,807.5 555,808.2 556.5,808.8 558,809.5 559.5,810.1 561,810.7 562.5,811.3 564,811.9 565.5,812.4 567,813 568.5,813.5 570,814 571.5,814.5 573,814.9 574.5,815.4 576,815.8 577.5,816.2 579,816.6 580.5,817 582,817.4 583.5,817.8 585,818.1 586.5,818.4 588,818.8 589.5,819.1 591,819.4 592.5,819.7 594,820 595.5,820.2 597,820.5 598.5,820.7 600,821 601.5,821.2 603,821.5 604.5,821.7 606,821.9 607.5,822.1 609,822.3 610.5,822.5 612,822.6 613.5,822.8 615,823 616.5,823.1 618,823.3 619.5,823.4 621,823.6 622.5,823.7 624,823.9 625.5,824 627,824.1 628.5,824.2 630,824.3 631.5,824.5 633,824.6 634.5,824.7 636,824.8 637.5,824.9 639,824.9 640.5,825 642,825.1 643.5,825.2 645,825.3 646.5,825.4 648,825.4 649.5,825.5 651,825.6 652.5,825.6 654,825.7 655.5,825.7 657,825.8 658.5,825.9 660,825.9 661.5,826 663,826 664.5,826.1 666,826.1 667.5,826.1 669,826.2 670.5,826.2 672,826.2 673.5,826.3 675,826.3 676.5,826.3 678,826.4 679.5,826.4 681,826.4 682.5,826.4 684,826.5 685.5,826.5 687,826.5 688.5,826.5 690,826.5 691.5,826.6 693,826.6 694.5,826.6 696,826.6 697.5,826.6 699,826.6 700.5,826.6 702,826.6 703.5,826.6 705,826.6 706.5,826.6 708,826.6 709.5,826.6 711,826.6 712.5,826.6 714,826.6 715.5,826.6 717,826.6 718.5,826.6 720,826.6 721.5,826.5 723,826.5 724.5,826.5 726,826.5 727.5,826.5 729,826.5 730.5,826.4 732,826.4 733.5,826.4 735,826.4 736.5,826.3 738,826.3 739.5,826.3 741,826.3 742.5,826.2 744,826.2 745.5,826.2 747,826.1 748.5,826.1 750,826.1 751.5,826 753,826 754.5,826 756,825.9 757.5,825.9 759,825.8 760.5,825.8 762,825.7 763.5,825.7 765,825.6 766.5,825.6 768,825.5 769.5,825.5 771,825.4 772.5,825.4 774,825.3 775.5,825.3 777,825.2 778.5,825.2 780,825.1 781.5,825.1 783,825 784.5,824.9 786,824.9 787.5,824.8 789,824.7 790.5,824.7 792,824.6 793.5,824.5 795,824.5 796.5,824.4 798,824.3 799.5,824.2 801,824.2 802.5,824.1 804,824 805.5,823.9 807,823.9 808.5,823.8 810,823.7 811.5,823.6 813,823.5 814.5,823.5 816,823.4 817.5,823.3 819,823.2 820.5,823.1 822,823 823.5,822.9 825,822.8 826.5,822.7 828,822.6 829.5,822.5 831,822.4 832.5,822.4 834,822.3 835.5,822.2 837,822.1 838.5,821.9 840,821.8 841.5,821.7 843,821.6 844.5,821.5 846,821.4 847.5,821.3 849,821.2 850.5,821.1 852,821 853.5,820.9 855,820.8 856.5,820.6 858,820.5 859.5,820.4 861,820.3 862.5,820.2 864,820 865.5,819.9 867,819.8 868.5,819.7 870,819.6 871.5,819.4 873,819.3 874.5,819.2 876,819 877.5,818.9 879,818.8 880.5,818.6 882,818.5 883.5,818.4 885,818.2 886.5,818.1 888,818 889.5,817.8 891,817.7 892.5,817.5 894,817.4 895.5,817.3 897,817.1 898.5,817 900,816.8 901.5,816.7 903,816.5 904.5,816.4 906,816.2 907.5,816.1 909,815.9 910.5,815.8 912,815.6 913.5,815.5 915,815.3 916.5,815.1 918,815 919.5,814.8 921,814.7 922.5,814.5 924,814.3 925.5,814.2 927,814 928.5,813.8 930,813.7 931.5,813.5 933,813.3 934.5,813.2 936,813 937.5,812.8 939,812.6 940.5,812.5 942,812.3 943.5,812.1 945,811.9 946.5,811.7 948,811.6 949.5,811.4 951,811.2 952.5,811 954,810.8 955.5,810.6 957,810.5 958.5,810.3 960,810.1 961.5,809.9 963,809.7 964.5,809.5 966,809.3 967.5,809.1 969,808.9 970.5,808.7 972,808.5 973.5,808.3" fill="none" stroke="#7b0d86" stroke-width="2.3" stroke-linejoin="round" stroke-linecap="round"/>
<polyline points="126,787.6 127.5,787.6 129,787.6 130.5,787.6 132,787.6 133.5,787.6 135,787.6 136.5,787.6 138,787.6 139.5,787.7 141,787.7 142.5,787.7 144,787.7 145.5,787.7 147,787.7 148.5,787.7 150,787.7 151.5,787.7 153,787.7 154.5,787.7 156,787.7 157.5,787.7 159,787.7 160.5,787.7 162,787.7 163.5,787.8 165,787.8 166.5,787.8 168,787.8 169.5,787.8 171,787.8 172.5,787.8 174,787.8 175.5,787.8 177,787.8 178.5,787.8 180,787.8 181.5,787.8 183,787.8 184.5,787.8 186,787.9 187.5,787.9 189,787.9 190.5,787.9 192,787.9 193.5,787.9 195,787.9 196.5,787.9 198,787.9 199.5,787.9 201,787.9 202.5,787.9 204,788 205.5,788 207,788 208.5,788 210,788 211.5,788 213,788 214.5,788 216,788 217.5,788 219,788.1 220.5,788.1 222,788.1 223.5,788.1 225,788.1 226.5,788.1 228,788.1 229.5,788.2 231,788.2 232.5,788.2 234,788.2 235.5,788.2 237,788.2 238.5,788.3 240,788.3 241.5,788.3 243,788.3 244.5,788.4 246,788.4 247.5,788.4 249,788.4 250.5,788.5 252,788.5 253.5,788.5 255,788.6 256.5,788.6 258,788.6 259.5,788.7 261,788.7 262.5,788.8 264,788.8 265.5,788.8 267,788.9 268.5,788.9 270,789 271.5,789 273,789.1 274.5,789.2 276,789.2 277.5,789.3 279,789.3 280.5,789.4 282,789.5 283.5,789.6 285,789.6 286.5,789.7 288,789.8 289.5,789.9 291,790 292.5,790.1 294,790.2 295.5,790.3 297,790.4 298.5,790.5 300,790.6 301.5,790.7 303,790.8 304.5,790.9 306,791.1 307.5,791.2 309,791.3 310.5,791.5 312,791.6 313.5,791.8 315,791.9 316.5,792.1 318,792.3 319.5,792.4 321,792.6 322.5,792.8 324,793 325.5,793.1 327,793.3 328.5,793.5 330,793.7 331.5,793.9 333,794.1 334.5,794.4 336,794.6 337.5,794.8 339,795 340.5,795.3 342,795.5 343.5,795.8 345,796 346.5,796.3 348,796.5 349.5,796.8 351,797.1 352.5,797.3 354,797.6 355.5,797.9 357,798.2 358.5,798.5 360,798.7 361.5,799 363,799.3 364.5,799.6 366,799.9 367.5,800.3 369,800.6 370.5,800.9 372,801.2 373.5,801.5 375,801.8 376.5,802.2 378,802.5 379.5,802.8 381,803.2 382.5,803.5 384,803.8 385.5,804.2 387,804.5 388.5,804.8 390,805.2 391.5,805.5 393,805.8 394.5,806.2 396,806.5 397.5,806.9 399,807.2 400.5,807.5 402,807.9 403.5,808.2 405,808.5 406.5,808.9 408,809.2 409.5,809.5 411,809.8 412.5,810.2 414,810.5 415.5,810.8 417,811.1 418.5,811.4 420,811.7 421.5,812 423,812.3 424.5,812.6 426,812.9 427.5,813.2 429,813.5 430.5,813.8 432,814.1 433.5,814.4 435,814.6 436.5,814.9 438,815.2 439.5,815.4 441,815.7 442.5,815.9 444,816.2 445.5,816.4 447,816.6 448.5,816.9 450,817.1 451.5,817.3 453,817.5 454.5,817.7 456,817.9 457.5,818.1 459,818.3 460.5,818.5 462,818.7 463.5,818.9 465,819.1 466.5,819.3 468,819.4 469.5,819.6 471,819.7 472.5,819.9 474,820 475.5,820.2 477,820.3 478.5,820.5 480,820.6 481.5,820.7 483,820.9 484.5,821 486,821.1 487.5,821.2 489,821.3 490.5,821.4 492,821.5 493.5,821.6 495,821.7 496.5,821.8 498,821.9 499.5,822 501,822 502.5,822.1 504,822.2 505.5,822.3 507,822.3 508.5,822.4 510,822.5 511.5,822.5 513,822.6 514.5,822.6 516,822.7 517.5,822.7 519,822.8 520.5,822.8 522,822.9 523.5,822.9 525,823 526.5,823 528,823 529.5,823.1 531,823.1 532.5,823.2 534,823.2 535.5,823.2 537,823.2 538.5,823.3 540,823.3 541.5,823.4 543,823.5 544.5,823.6 546,823.8 547.5,823.9 549,824 550.5,824.1 552,824.2 553.5,824.3 555,824.4 556.5,824.5 558,824.6 559.5,824.7 561,824.8 562.5,824.9 564,825 565.5,825.1 567,825.1 568.5,825.2 570,825.3 571.5,825.4 573,825.5 574.5,825.6 576,825.6 577.5,825.7 579,825.8 580.5,825.9 582,825.9 583.5,826 585,826.1 586.5,826.2 588,826.2 589.5,826.3 591,826.4 592.5,826.4 594,826.5 595.5,826.6 597,826.6 598.5,826.7 600,826.7 601.5,826.8 603,826.9 604.5,826.9 606,827 607.5,827 609,827.1 610.5,827.1 612,827.2 613.5,827.2 615,827.3 616.5,827.3 618,827.4 619.5,827.4 621,827.5 622.5,827.5 624,827.5 625.5,827.6 627,827.6 628.5,827.7 630,827.7 631.5,827.7 633,827.8 634.5,827.8 636,827.8 637.5,827.9 639,827.9 640.5,827.9 642,828 643.5,828 645,828 646.5,828.1 648,828.1 649.5,828.1 651,828.1 652.5,828.1 654,828.2 655.5,828.2 657,828.2 658.5,828.2 660,828.2 661.5,828.3 663,828.3 664.5,828.3 666,828.3 667.5,828.3 669,828.3 670.5,828.3 672,828.3 673.5,828.3 675,828.4 676.5,828.4 678,828.4 679.5,828.4 681,828.4 682.5,828.4 684,828.4 685.5,828.4 687,828.4 688.5,828.4 690,828.4 691.5,828.4 693,828.3 694.5,828.3 696,828.3 697.5,828.3 699,828.3 700.5,828.3 702,828.3 703.5,828.3 705,828.3 706.5,828.2 708,828.2 709.5,828.2 711,828.2 712.5,828.2 714,828.1 715.5,828.1 717,828.1 718.5,828.1 720,828.1 721.5,828 723,828 724.5,828 726,827.9 727.5,827.9 729,827.9 730.5,827.9 732,827.8 733.5,827.8 735,827.7 736.5,827.7 738,827.7 739.5,827.6 741,827.6 742.5,827.6 744,827.5 745.5,827.5 747,827.4 748.5,827.4 750,827.3 751.5,827.3 753,827.2 754.5,827.2 756,827.1 757.5,827.1 759,827 760.5,827 762,826.9 763.5,826.9 765,826.8 766.5,826.8 768,826.7 769.5,826.6 771,826.6 772.5,826.5 774,826.5 775.5,826.4 777,826.3 778.5,826.3 780,826.2 781.5,826.1 783,826.1 784.5,826 786,825.9 787.5,825.8 789,825.8 790.5,825.7 792,825.6 793.5,825.5 795,825.5 796.5,825.4 798,825.3 799.5,825.2 801,825.2 802.5,825.1 804,825 805.5,824.9 807,824.8 808.5,824.7 810,824.6 811.5,824.6 813,824.5 814.5,824.4 816,824.3 817.5,824.2 819,824.1 820.5,824 822,823.9 823.5,823.8 825,823.7 826.5,823.6 828,823.5 829.5,823.4 831,823.3 832.5,823.2 834,823.1 835.5,823 837,822.9 838.5,822.8 840,822.7 841.5,822.6 843,822.4 844.5,822.3 846,822.2 847.5,822.1 849,822 850.5,821.9 852,821.8 853.5,821.6 855,821.5 856.5,821.4 858,821.3 859.5,821.2 861,821 862.5,820.9 864,820.8 865.5,820.7 867,820.5 868.5,820.4 870,820.3 871.5,820.1 873,820 874.5,819.9 876,819.7 877.5,819.6 879,819.5 880.5,819.3 882,819.2 883.5,819.1 885,818.9 886.5,818.8 888,818.6 889.5,818.5 891,818.4 892.5,818.2 894,818.1 895.5,817.9 897,817.8 898.5,817.6 900,817.5 901.5,817.3 903,817.2 904.5,817 906,816.9 907.5,816.7 909,816.5 910.5,816.4 912,816.2 913.5,816.1 915,815.9 916.5,815.7 918,815.6 919.5,815.4 921,815.3 922.5,815.1 924,814.9 925.5,814.8 927,814.6 928.5,814.4 930,814.2 931.5,814.1 933,813.9 934.5,813.7 936,813.5 937.5,813.4 939,813.2 940.5,813 942,812.8 943.5,812.7 945,812.5 946.5,812.3 948,812.1 949.5,811.9 951,811.7 952.5,811.5 954,811.4 955.5,811.2 957,811 958.5,810.8 960,810.6 961.5,810.4 963,810.2 964.5,810 966,809.8 967.5,809.6 969,809.4 970.5,809.2 972,809 973.5,808.8" fill="none" stroke="#e0141e" stroke-width="2.4" stroke-linejoin="round" stroke-linecap="round"/>
<line x1="127.2" y1="787.6" x2="127.2" y2="861" stroke="#e0141e" stroke-width="2.2" stroke-linecap="butt"/>
<text x="93.5" y="120.5" font-size="24.76" text-anchor="middle" transform="rotate(-90 93.5 120.5)">Intensity, a.u.</text>
<text x="90.8" y="435.6" font-size="24.7" text-anchor="middle" transform="rotate(-90 90.8 435.6)">Intensity, a.u.</text>
<text x="93.5" y="745" font-size="24.76" text-anchor="middle" transform="rotate(-90 93.5 745)">Intensity, a.u.</text>
<rect x="125.5" y="3.5" width="850" height="232.5" fill="none" stroke="#000" stroke-width="2.6"/>
<line x1="202.8" y1="236" x2="202.8" y2="229" stroke="#000" stroke-width="2.2" stroke-linecap="butt"/>
<text x="202.8" y="260" font-size="20" text-anchor="middle">858</text>
<line x1="280" y1="236" x2="280" y2="232.7" stroke="#000" stroke-width="2.2" stroke-linecap="butt"/>
<line x1="357.3" y1="236" x2="357.3" y2="229" stroke="#000" stroke-width="2.2" stroke-linecap="butt"/>
<text x="357.3" y="260" font-size="20" text-anchor="middle">856</text>
<line x1="434.6" y1="236" x2="434.6" y2="232.7" stroke="#000" stroke-width="2.2" stroke-linecap="butt"/>
<line x1="511.9" y1="236" x2="511.9" y2="229" stroke="#000" stroke-width="2.2" stroke-linecap="butt"/>
<text x="511.9" y="260" font-size="20" text-anchor="middle">854</text>
<line x1="589.1" y1="236" x2="589.1" y2="232.7" stroke="#000" stroke-width="2.2" stroke-linecap="butt"/>
<line x1="666.4" y1="236" x2="666.4" y2="229" stroke="#000" stroke-width="2.2" stroke-linecap="butt"/>
<text x="666.4" y="260" font-size="20" text-anchor="middle">852</text>
<line x1="743.7" y1="236" x2="743.7" y2="232.7" stroke="#000" stroke-width="2.2" stroke-linecap="butt"/>
<line x1="821" y1="236" x2="821" y2="229" stroke="#000" stroke-width="2.2" stroke-linecap="butt"/>
<text x="821" y="260" font-size="20" text-anchor="middle">850</text>
<line x1="898.2" y1="236" x2="898.2" y2="232.7" stroke="#000" stroke-width="2.2" stroke-linecap="butt"/>
<text x="975.5" y="260" font-size="20" text-anchor="middle">848</text>
<text x="550.5" y="294.4" font-size="22" text-anchor="middle">Binding Energy, eV</text>
<rect x="125.5" y="320" width="850" height="232.1" fill="none" stroke="#000" stroke-width="2.6"/>
<line x1="202.8" y1="552.1" x2="202.8" y2="545.1" stroke="#000" stroke-width="2.2" stroke-linecap="butt"/>
<text x="202.8" y="576.1" font-size="20" text-anchor="middle">858</text>
<line x1="280" y1="552.1" x2="280" y2="548.8" stroke="#000" stroke-width="2.2" stroke-linecap="butt"/>
<line x1="357.3" y1="552.1" x2="357.3" y2="545.1" stroke="#000" stroke-width="2.2" stroke-linecap="butt"/>
<text x="357.3" y="576.1" font-size="20" text-anchor="middle">856</text>
<line x1="434.6" y1="552.1" x2="434.6" y2="548.8" stroke="#000" stroke-width="2.2" stroke-linecap="butt"/>
<line x1="511.9" y1="552.1" x2="511.9" y2="545.1" stroke="#000" stroke-width="2.2" stroke-linecap="butt"/>
<text x="511.9" y="576.1" font-size="20" text-anchor="middle">854</text>
<line x1="589.1" y1="552.1" x2="589.1" y2="548.8" stroke="#000" stroke-width="2.2" stroke-linecap="butt"/>
<line x1="666.4" y1="552.1" x2="666.4" y2="545.1" stroke="#000" stroke-width="2.2" stroke-linecap="butt"/>
<text x="666.4" y="576.1" font-size="20" text-anchor="middle">852</text>
<line x1="743.7" y1="552.1" x2="743.7" y2="548.8" stroke="#000" stroke-width="2.2" stroke-linecap="butt"/>
<line x1="821" y1="552.1" x2="821" y2="545.1" stroke="#000" stroke-width="2.2" stroke-linecap="butt"/>
<text x="821" y="576.1" font-size="20" text-anchor="middle">850</text>
<line x1="898.2" y1="552.1" x2="898.2" y2="548.8" stroke="#000" stroke-width="2.2" stroke-linecap="butt"/>
<text x="975.5" y="576.1" font-size="20" text-anchor="middle">848</text>
<text x="550.5" y="610.5" font-size="22" text-anchor="middle">Binding Energy, eV</text>
<rect x="125.5" y="628.7" width="850" height="232.3" fill="none" stroke="#000" stroke-width="2.6"/>
<line x1="202.8" y1="861" x2="202.8" y2="854" stroke="#000" stroke-width="2.2" stroke-linecap="butt"/>
<text x="202.8" y="885" font-size="20" text-anchor="middle">858</text>
<line x1="280" y1="861" x2="280" y2="857.7" stroke="#000" stroke-width="2.2" stroke-linecap="butt"/>
<line x1="357.3" y1="861" x2="357.3" y2="854" stroke="#000" stroke-width="2.2" stroke-linecap="butt"/>
<text x="357.3" y="885" font-size="20" text-anchor="middle">856</text>
<line x1="434.6" y1="861" x2="434.6" y2="857.7" stroke="#000" stroke-width="2.2" stroke-linecap="butt"/>
<line x1="511.9" y1="861" x2="511.9" y2="854" stroke="#000" stroke-width="2.2" stroke-linecap="butt"/>
<text x="511.9" y="885" font-size="20" text-anchor="middle">854</text>
<line x1="589.1" y1="861" x2="589.1" y2="857.7" stroke="#000" stroke-width="2.2" stroke-linecap="butt"/>
<line x1="666.4" y1="861" x2="666.4" y2="854" stroke="#000" stroke-width="2.2" stroke-linecap="butt"/>
<text x="666.4" y="885" font-size="20" text-anchor="middle">852</text>
<line x1="743.7" y1="861" x2="743.7" y2="857.7" stroke="#000" stroke-width="2.2" stroke-linecap="butt"/>
<line x1="821" y1="861" x2="821" y2="854" stroke="#000" stroke-width="2.2" stroke-linecap="butt"/>
<text x="821" y="885" font-size="20" text-anchor="middle">850</text>
<line x1="898.2" y1="861" x2="898.2" y2="857.7" stroke="#000" stroke-width="2.2" stroke-linecap="butt"/>
<text x="975.5" y="885" font-size="20" text-anchor="middle">848</text>
<text x="550.5" y="919.4" font-size="22" text-anchor="middle">Binding Energy, eV</text>
<rect x="157.5" y="84.5" width="33.9" height="44.4" fill="#000"/>
<rect x="153.3" y="80.3" width="33.9" height="44.4" fill="#fff" stroke="#bdbdbd" stroke-width="1"/>
<text x="170.2" y="114" font-size="33" text-anchor="middle">Q</text>
<rect x="153.7" y="390.7" width="55.8" height="44.8" fill="#000"/>
<rect x="149.5" y="386.5" width="55.8" height="44.8" fill="#fff" stroke="#bdbdbd" stroke-width="1"/>
<text x="177.4" y="420.4" font-size="33" text-anchor="middle">QT</text>
<rect x="148.6" y="709.5" width="77.2" height="44.4" fill="#000"/>
<rect x="144.4" y="705.3" width="77.2" height="44.4" fill="#fff" stroke="#bdbdbd" stroke-width="1"/>
<text x="183" y="739" font-size="33" text-anchor="middle">QLT</text>
<text x="555.1" y="53.3" font-size="22"><tspan font-size="22">Ni(OH)</tspan><tspan font-size="14" dy="5">2</tspan><tspan font-size="22" dy="-5">/NiFe</tspan><tspan font-size="14" dy="5">2</tspan><tspan font-size="22" dy="-5">O</tspan><tspan font-size="14" dy="5">4</tspan></text>
<line x1="533.8" y1="44.6" x2="453.8" y2="58.9" stroke="#000" stroke-width="2.1" stroke-linecap="butt"/>
<polygon points="435.6,62.2 454.9,53.4 456.7,63.8" fill="#000"/>
<text x="567.1" y="391.5" font-size="22"><tspan font-size="22">Ni(OH)</tspan><tspan font-size="14" dy="5">2</tspan><tspan font-size="22" dy="-5">/NiFe</tspan><tspan font-size="14" dy="5">2</tspan><tspan font-size="22" dy="-5">O</tspan><tspan font-size="14" dy="5">4</tspan></text>
<line x1="546" y1="382.7" x2="464.4" y2="397.2" stroke="#000" stroke-width="2.1" stroke-linecap="butt"/>
<polygon points="446.2,400.4 465.5,391.7 467.3,402" fill="#000"/>
<text x="555.1" y="670.5" font-size="22"><tspan font-size="22">Ni(OH)</tspan><tspan font-size="14" dy="5">2</tspan><tspan font-size="22" dy="-5">/NiFe</tspan><tspan font-size="14" dy="5">2</tspan><tspan font-size="22" dy="-5">O</tspan><tspan font-size="14" dy="5">4</tspan></text>
<line x1="533.8" y1="662.3" x2="453.2" y2="676.2" stroke="#000" stroke-width="2.1" stroke-linecap="butt"/>
<polygon points="435,679.4 454.3,670.7 456.1,681.1" fill="#000"/>
<text x="1.4" y="41" font-size="47" text-anchor="start">(a)</text>
<rect x="1139" y="5.6" width="844.5" height="229" fill="#fdfdfd"/>
<rect x="1139" y="316.5" width="844.5" height="229.8" fill="#fdfdfd"/>
<rect x="1139" y="628.7" width="844.5" height="229.1" fill="#fdfdfd"/>
<polyline points="1140,165.3 1149.5,126 1157.7,162 1165.9,179.7 1174.4,181.5 1182.8,180.2 1191,135.4 1199.9,150.9 1208.1,167.5 1216.5,160.2 1224.3,150.9 1233.2,103.8 1242.1,133.1 1250.5,163.8 1258.7,151.3 1267.1,209.7 1275.3,146.9 1283.5,144.2 1293.1,152.7 1300.9,93.6 1309.7,113.2 1318.2,150.4 1326.4,135.8 1334.6,158 1343,119.8 1351.4,58.8 1360.3,166 1368.5,135.4 1376.7,134.5 1385.2,120.9 1394,98.7 1402.5,119.8 1410.7,131.4 1419.6,120.9 1427.3,133.1 1436.2,117.2 1444.6,139.8 1452.8,103.2 1461.7,148.2 1469.5,117.6 1479.5,120.9 1487.2,140.9 1495,184.6 1503.9,142.5 1512.1,153.1 1521,174.2 1529,126 1537.8,130.9 1546.7,137.1 1554.2,91 1562.7,148.2 1571.1,115.4 1580,87 1588.8,91 1596.6,79.9 1605.5,113.2 1614.3,38.8 1622.1,41.7 1630.3,75 1639.2,77.7 1647.6,130.9 1656.1,102.5 1664.3,97.6 1672,97.6 1681.4,140.9 1689.8,78.1 1698.2,120.9 1707.1,124.3 1715.3,94.3 1724.2,102.1 1732.4,130.9 1740.4,123.1 1749.3,160.2 1757.5,157.5 1765.7,152 1774.1,87 1782.5,169.7 1790.7,122.5 1799.6,201.9 1807.8,210.8 1816.3,181.9 1824.7,154.2 1832.9,151.3 1841.8,119.8 1850,188.2 1858.4,140.2 1867.3,153.5 1875.7,86.5 1883.9,185.9 1892.8,160.9 1901,183.7 1909.5,174.2 1917.9,128.7 1926.8,139.8 1935,183.1 1943.2,150.9 1952.1,184.6 1960,120.9 1968.3,149.1 1977.1,109.2 1983.8,150.9" fill="none" stroke="#000" stroke-width="3.2" stroke-linejoin="round" stroke-linecap="round"/>
<polyline points="1140,159.3 1982.7,168.2" fill="none" stroke="#e0141e" stroke-width="3.2" stroke-linejoin="round" stroke-linecap="round"/>
<polyline points="1140,159.3 1141.5,159.2 1143,159.1 1144.5,159.1 1146,159 1147.5,158.9 1149,158.8 1150.5,158.7 1152,158.7 1153.5,158.6 1155,158.5 1156.5,158.4 1158,158.3 1159.5,158.2 1161,158.2 1162.5,158.1 1164,158 1165.5,157.9 1167,157.8 1168.5,157.7 1170,157.6 1171.5,157.6 1173,157.5 1174.5,157.4 1176,157.3 1177.5,157.2 1179,157.1 1180.5,157 1182,156.9 1183.5,156.8 1185,156.7 1186.5,156.7 1188,156.6 1189.5,156.5 1191,156.4 1192.5,156.3 1194,156.2 1195.5,156.1 1197,156 1198.5,155.9 1200,155.8 1201.5,155.7 1203,155.6 1204.5,155.5 1206,155.4 1207.5,155.3 1209,155.2 1210.5,155.1 1212,155 1213.5,154.9 1215,154.8 1216.5,154.8 1218,154.7 1219.5,154.6 1221,154.5 1222.5,154.4 1224,154.3 1225.5,154.2 1227,154.1 1228.5,154 1230,153.8 1231.5,153.7 1233,153.6 1234.5,153.5 1236,153.4 1237.5,153.3 1239,153.2 1240.5,153.1 1242,153 1243.5,152.9 1245,152.8 1246.5,152.7 1248,152.6 1249.5,152.5 1251,152.4 1252.5,152.3 1254,152.2 1255.5,152.1 1257,152 1258.5,151.9 1260,151.8 1261.5,151.6 1263,151.5 1264.5,151.4 1266,151.3 1267.5,151.2 1269,151.1 1270.5,151 1272,150.9 1273.5,150.8 1275,150.7 1276.5,150.6 1278,150.4 1279.5,150.3 1281,150.2 1282.5,150.1 1284,150 1285.5,149.9 1287,149.8 1288.5,149.6 1290,149.5 1291.5,149.4 1293,149.3 1294.5,149.2 1296,149.1 1297.5,148.9 1299,148.8 1300.5,148.7 1302,148.6 1303.5,148.5 1305,148.4 1306.5,148.2 1308,148.1 1309.5,148 1311,147.9 1312.5,147.7 1314,147.6 1315.5,147.5 1317,147.4 1318.5,147.2 1320,147.1 1321.5,147 1323,146.8 1324.5,146.7 1326,146.6 1327.5,146.5 1329,146.3 1330.5,146.2 1332,146.1 1333.5,145.9 1335,145.8 1336.5,145.6 1338,145.5 1339.5,145.4 1341,145.2 1342.5,145.1 1344,145 1345.5,144.8 1347,144.7 1348.5,144.5 1350,144.4 1351.5,144.2 1353,144.1 1354.5,143.9 1356,143.8 1357.5,143.7 1359,143.5 1360.5,143.4 1362,143.2 1363.5,143.1 1365,142.9 1366.5,142.7 1368,142.6 1369.5,142.4 1371,142.3 1372.5,142.1 1374,142 1375.5,141.8 1377,141.7 1378.5,141.5 1380,141.3 1381.5,141.2 1383,141 1384.5,140.9 1386,140.7 1387.5,140.5 1389,140.4 1390.5,140.2 1392,140 1393.5,139.9 1395,139.7 1396.5,139.5 1398,139.3 1399.5,139.2 1401,139 1402.5,138.8 1404,138.6 1405.5,138.5 1407,138.3 1408.5,138.1 1410,137.9 1411.5,137.7 1413,137.5 1414.5,137.4 1416,137.2 1417.5,137 1419,136.8 1420.5,136.6 1422,136.4 1423.5,136.2 1425,136 1426.5,135.8 1428,135.6 1429.5,135.4 1431,135.2 1432.5,135 1434,134.8 1435.5,134.6 1437,134.4 1438.5,134.2 1440,134 1441.5,133.7 1443,133.5 1444.5,133.3 1446,133.1 1447.5,132.9 1449,132.6 1450.5,132.4 1452,132.2 1453.5,132 1455,131.7 1456.5,131.5 1458,131.3 1459.5,131 1461,130.8 1462.5,130.5 1464,130.3 1465.5,130.1 1467,129.8 1468.5,129.5 1470,129.3 1471.5,129 1473,128.7 1474.5,128.5 1476,128.2 1477.5,127.9 1479,127.6 1480.5,127.3 1482,127 1483.5,126.7 1485,126.4 1486.5,126.1 1488,125.8 1489.5,125.5 1491,125.2 1492.5,124.9 1494,124.6 1495.5,124.2 1497,123.9 1498.5,123.6 1500,123.2 1501.5,122.9 1503,122.6 1504.5,122.2 1506,121.9 1507.5,121.5 1509,121.2 1510.5,120.8 1512,120.5 1513.5,120.1 1515,119.7 1516.5,119.4 1518,119 1519.5,118.6 1521,118.3 1522.5,117.9 1524,117.5 1525.5,117.2 1527,116.8 1528.5,116.4 1530,116 1531.5,115.7 1533,115.3 1534.5,114.9 1536,114.5 1537.5,114.1 1539,113.7 1540.5,113.4 1542,113 1543.5,112.6 1545,112.2 1546.5,111.8 1548,111.4 1549.5,111 1551,110.6 1552.5,110.2 1554,109.8 1555.5,109.4 1557,108.9 1558.5,108.5 1560,108 1561.5,107.5 1563,107.1 1564.5,106.6 1566,106.1 1567.5,105.6 1569,105.1 1570.5,104.6 1572,104.1 1573.5,103.6 1575,103.1 1576.5,102.6 1578,102.1 1579.5,101.6 1581,101.1 1582.5,100.6 1584,100.2 1585.5,99.7 1587,99.3 1588.5,98.8 1590,98.4 1591.5,98 1593,97.6 1594.5,97.2 1596,96.9 1597.5,96.5 1599,96.2 1600.5,95.9 1602,95.6 1603.5,95.3 1605,95 1606.5,94.7 1608,94.3 1609.5,94 1611,93.7 1612.5,93.4 1614,93.1 1615.5,92.8 1617,92.5 1618.5,92.2 1620,91.9 1621.5,91.6 1623,91.4 1624.5,91.1 1626,90.9 1627.5,90.7 1629,90.4 1630.5,90.2 1632,90.1 1633.5,89.9 1635,89.8 1636.5,89.7 1638,89.6 1639.5,89.5 1641,89.4 1642.5,89.4 1644,89.4 1645.5,89.4 1647,89.5 1648.5,89.6 1650,89.8 1651.5,90 1653,90.2 1654.5,90.5 1656,90.7 1657.5,91 1659,91.4 1660.5,91.7 1662,92.1 1663.5,92.5 1665,92.9 1666.5,93.3 1668,93.8 1669.5,94.2 1671,94.7 1672.5,95.2 1674,95.7 1675.5,96.2 1677,96.7 1678.5,97.2 1680,97.7 1681.5,98.2 1683,98.7 1684.5,99.2 1686,99.7 1687.5,100.2 1689,100.7 1690.5,101.2 1692,101.6 1693.5,102.1 1695,102.7 1696.5,103.2 1698,103.8 1699.5,104.3 1701,104.9 1702.5,105.5 1704,106.1 1705.5,106.8 1707,107.4 1708.5,108 1710,108.7 1711.5,109.3 1713,110 1714.5,110.7 1716,111.3 1717.5,112 1719,112.7 1720.5,113.4 1722,114 1723.5,114.7 1725,115.4 1726.5,116.1 1728,116.7 1729.5,117.4 1731,118.1 1732.5,118.8 1734,119.5 1735.5,120.2 1737,120.9 1738.5,121.7 1740,122.4 1741.5,123.2 1743,123.9 1744.5,124.7 1746,125.4 1747.5,126.2 1749,126.9 1750.5,127.7 1752,128.4 1753.5,129.2 1755,129.9 1756.5,130.6 1758,131.4 1759.5,132.1 1761,132.8 1762.5,133.5 1764,134.2 1765.5,134.9 1767,135.5 1768.5,136.2 1770,136.8 1771.5,137.4 1773,138 1774.5,138.6 1776,139.3 1777.5,139.9 1779,140.5 1780.5,141.1 1782,141.7 1783.5,142.3 1785,142.9 1786.5,143.4 1788,144 1789.5,144.6 1791,145.2 1792.5,145.7 1794,146.3 1795.5,146.8 1797,147.4 1798.5,147.9 1800,148.4 1801.5,148.9 1803,149.4 1804.5,149.9 1806,150.4 1807.5,150.8 1809,151.2 1810.5,151.7 1812,152.1 1813.5,152.4 1815,152.8 1816.5,153.1 1818,153.5 1819.5,153.8 1821,154.1 1822.5,154.5 1824,154.8 1825.5,155.1 1827,155.4 1828.5,155.7 1830,156.1 1831.5,156.4 1833,156.7 1834.5,157 1836,157.3 1837.5,157.6 1839,157.8 1840.5,158.1 1842,158.4 1843.5,158.7 1845,158.9 1846.5,159.2 1848,159.5 1849.5,159.7 1851,160 1852.5,160.2 1854,160.5 1855.5,160.7 1857,160.9 1858.5,161.1 1860,161.3 1861.5,161.5 1863,161.7 1864.5,161.9 1866,162.1 1867.5,162.3 1869,162.5 1870.5,162.6 1872,162.8 1873.5,162.9 1875,163.1 1876.5,163.2 1878,163.3 1879.5,163.5 1881,163.6 1882.5,163.7 1884,163.8 1885.5,163.9 1887,164 1888.5,164.1 1890,164.2 1891.5,164.2 1893,164.3 1894.5,164.4 1896,164.5 1897.5,164.6 1899,164.7 1900.5,164.8 1902,164.9 1903.5,165 1905,165 1906.5,165.1 1908,165.2 1909.5,165.3 1911,165.4 1912.5,165.4 1914,165.5 1915.5,165.6 1917,165.7 1918.5,165.8 1920,165.8 1921.5,165.9 1923,166 1924.5,166 1926,166.1 1927.5,166.2 1929,166.2 1930.5,166.3 1932,166.4 1933.5,166.4 1935,166.5 1936.5,166.5 1938,166.6 1939.5,166.7 1941,166.7 1942.5,166.8 1944,166.8 1945.5,166.9 1947,166.9 1948.5,167 1950,167 1951.5,167 1953,167.1 1954.5,167.1 1956,167.2 1957.5,167.2 1959,167.2 1960.5,167.3 1962,167.3 1963.5,167.3 1965,167.3 1966.5,167.4 1968,167.4 1969.5,167.4 1971,167.4 1972.5,167.4 1974,167.5 1975.5,167.5 1977,167.5 1978.5,167.5 1980,167.5 1981.5,167.5 1982.7,167.5" fill="none" stroke="#7b0d86" stroke-width="3.0" stroke-linejoin="round" stroke-linecap="round"/>
<polyline points="1140,505.3 1148.9,510.8 1157.7,501.3 1165.5,473.1 1174.4,489.7 1182.8,439.1 1191,430.9 1199.9,422.1 1208.1,470.2 1216.5,438.7 1225.4,438.3 1233.2,469.8 1242.1,520.3 1250.3,438.7 1259.1,420.9 1267.6,482 1276.4,484.2 1284.9,474.2 1293.1,489.3 1301.3,398.8 1309.7,457.6 1318.2,470.2 1326.4,484.2 1334.6,445.8 1343.5,481.3 1351.9,463.1 1360.8,445.4 1368.5,486.4 1376.7,445.8 1385.2,430.9 1394,422.1 1402.5,487.5 1411.4,482 1419.6,455.3 1427.3,459.1 1436.2,444.2 1445.1,455.3 1453.5,428.7 1461.7,480.9 1469.9,515.9 1478.4,454.2 1486.8,394.3 1495,424.9 1503.9,382.1 1512.1,420.9 1521,410.3 1529.4,466.4 1537.8,438.3 1546,471.5 1554.2,424.3 1563.1,474.2 1571.1,425.4 1580,431.6 1588.2,388.8 1597,373.2 1605.5,402.1 1614.3,423.2 1622.8,437.6 1631,387.2 1639.2,440.5 1647.6,449.3 1656.1,482.6 1664.3,384.3 1673.1,401.4 1681.4,391 1689.8,373.2 1698.7,401 1706.4,452 1715.3,452.5 1724.2,448.7 1731.9,439.1 1740.4,488.6 1748.6,457.6 1757.5,475.3 1765.7,491.9 1774.1,451.6 1782.5,502.6 1791.4,504.2 1799.6,460.9 1807.8,500.8 1816.3,464.9 1824.7,400.5 1832.9,460.9 1841.8,510.8 1850,434.3 1858.4,523 1867.3,493.7 1875.7,482.6 1883.9,469.8 1892.8,478.6 1901,481.3 1909.5,445.8 1917.9,500.8 1926.1,459.1 1934.3,459.1 1943.2,474.2 1951.6,478.6 1960,465.3 1968.3,451.6 1976.5,438.3 1983.8,423.2" fill="none" stroke="#000" stroke-width="3.2" stroke-linejoin="round" stroke-linecap="round"/>
<polyline points="1140,484.2 1982.7,498.2" fill="none" stroke="#e0141e" stroke-width="3.2" stroke-linejoin="round" stroke-linecap="round"/>
<polyline points="1140,484.2 1141.5,484.1 1143,484 1144.5,483.9 1146,483.8 1147.5,483.7 1149,483.6 1150.5,483.5 1152,483.4 1153.5,483.3 1155,483.2 1156.5,483.1 1158,483 1159.5,482.9 1161,482.8 1162.5,482.6 1164,482.5 1165.5,482.4 1167,482.3 1168.5,482.2 1170,482.1 1171.5,482 1173,481.9 1174.5,481.8 1176,481.7 1177.5,481.5 1179,481.4 1180.5,481.3 1182,481.2 1183.5,481.1 1185,481 1186.5,480.9 1188,480.7 1189.5,480.6 1191,480.5 1192.5,480.4 1194,480.3 1195.5,480.2 1197,480 1198.5,479.9 1200,479.8 1201.5,479.7 1203,479.6 1204.5,479.4 1206,479.3 1207.5,479.2 1209,479.1 1210.5,479 1212,478.8 1213.5,478.7 1215,478.6 1216.5,478.5 1218,478.3 1219.5,478.2 1221,478.1 1222.5,478 1224,477.8 1225.5,477.7 1227,477.6 1228.5,477.5 1230,477.3 1231.5,477.2 1233,477.1 1234.5,477 1236,476.8 1237.5,476.7 1239,476.6 1240.5,476.4 1242,476.3 1243.5,476.2 1245,476 1246.5,475.9 1248,475.8 1249.5,475.6 1251,475.5 1252.5,475.4 1254,475.3 1255.5,475.1 1257,475 1258.5,474.9 1260,474.7 1261.5,474.6 1263,474.5 1264.5,474.3 1266,474.2 1267.5,474.1 1269,473.9 1270.5,473.8 1272,473.6 1273.5,473.5 1275,473.4 1276.5,473.2 1278,473.1 1279.5,473 1281,472.8 1282.5,472.7 1284,472.5 1285.5,472.4 1287,472.3 1288.5,472.1 1290,472 1291.5,471.8 1293,471.7 1294.5,471.5 1296,471.4 1297.5,471.2 1299,471.1 1300.5,470.9 1302,470.8 1303.5,470.6 1305,470.5 1306.5,470.3 1308,470.2 1309.5,470 1311,469.9 1312.5,469.7 1314,469.6 1315.5,469.4 1317,469.3 1318.5,469.1 1320,468.9 1321.5,468.8 1323,468.6 1324.5,468.5 1326,468.3 1327.5,468.1 1329,468 1330.5,467.8 1332,467.6 1333.5,467.5 1335,467.3 1336.5,467.1 1338,467 1339.5,466.8 1341,466.6 1342.5,466.4 1344,466.3 1345.5,466.1 1347,465.9 1348.5,465.7 1350,465.5 1351.5,465.3 1353,465.2 1354.5,465 1356,464.8 1357.5,464.6 1359,464.4 1360.5,464.2 1362,464 1363.5,463.8 1365,463.6 1366.5,463.4 1368,463.2 1369.5,463 1371,462.8 1372.5,462.6 1374,462.4 1375.5,462.2 1377,462 1378.5,461.8 1380,461.6 1381.5,461.4 1383,461.1 1384.5,460.9 1386,460.7 1387.5,460.5 1389,460.3 1390.5,460 1392,459.8 1393.5,459.6 1395,459.4 1396.5,459.1 1398,458.9 1399.5,458.7 1401,458.4 1402.5,458.2 1404,458 1405.5,457.7 1407,457.5 1408.5,457.2 1410,457 1411.5,456.8 1413,456.5 1414.5,456.3 1416,456 1417.5,455.8 1419,455.5 1420.5,455.3 1422,455 1423.5,454.8 1425,454.5 1426.5,454.3 1428,454 1429.5,453.7 1431,453.5 1432.5,453.2 1434,452.9 1435.5,452.7 1437,452.4 1438.5,452.1 1440,451.9 1441.5,451.6 1443,451.3 1444.5,451.1 1446,450.8 1447.5,450.5 1449,450.2 1450.5,449.9 1452,449.7 1453.5,449.4 1455,449.1 1456.5,448.8 1458,448.5 1459.5,448.2 1461,447.9 1462.5,447.7 1464,447.4 1465.5,447.1 1467,446.8 1468.5,446.4 1470,446.1 1471.5,445.8 1473,445.5 1474.5,445.1 1476,444.8 1477.5,444.5 1479,444.1 1480.5,443.8 1482,443.4 1483.5,443 1485,442.7 1486.5,442.3 1488,441.9 1489.5,441.6 1491,441.2 1492.5,440.8 1494,440.4 1495.5,440.1 1497,439.7 1498.5,439.3 1500,438.9 1501.5,438.5 1503,438.1 1504.5,437.7 1506,437.3 1507.5,436.9 1509,436.5 1510.5,436.1 1512,435.7 1513.5,435.4 1515,435 1516.5,434.6 1518,434.2 1519.5,433.8 1521,433.4 1522.5,433 1524,432.6 1525.5,432.3 1527,431.9 1528.5,431.5 1530,431.1 1531.5,430.7 1533,430.4 1534.5,430 1536,429.7 1537.5,429.3 1539,428.9 1540.5,428.6 1542,428.3 1543.5,427.9 1545,427.6 1546.5,427.2 1548,426.9 1549.5,426.6 1551,426.3 1552.5,426 1554,425.7 1555.5,425.3 1557,425 1558.5,424.7 1560,424.4 1561.5,424.1 1563,423.7 1564.5,423.4 1566,423.1 1567.5,422.8 1569,422.5 1570.5,422.2 1572,421.8 1573.5,421.5 1575,421.2 1576.5,420.9 1578,420.6 1579.5,420.3 1581,420 1582.5,419.8 1584,419.5 1585.5,419.2 1587,418.9 1588.5,418.7 1590,418.4 1591.5,418.1 1593,417.9 1594.5,417.6 1596,417.4 1597.5,417.2 1599,417 1600.5,416.7 1602,416.5 1603.5,416.3 1605,416.2 1606.5,416 1608,415.8 1609.5,415.6 1611,415.4 1612.5,415.2 1614,415.1 1615.5,414.9 1617,414.7 1618.5,414.5 1620,414.3 1621.5,414.1 1623,414 1624.5,413.8 1626,413.6 1627.5,413.5 1629,413.4 1630.5,413.2 1632,413.1 1633.5,413 1635,412.9 1636.5,412.8 1638,412.7 1639.5,412.6 1641,412.6 1642.5,412.5 1644,412.5 1645.5,412.5 1647,412.5 1648.5,412.5 1650,412.5 1651.5,412.5 1653,412.5 1654.5,412.5 1656,412.5 1657.5,412.5 1659,412.5 1660.5,412.5 1662,412.5 1663.5,412.6 1665,412.7 1666.5,412.9 1668,413.1 1669.5,413.3 1671,413.6 1672.5,413.9 1674,414.2 1675.5,414.6 1677,414.9 1678.5,415.3 1680,415.7 1681.5,416.1 1683,416.5 1684.5,416.9 1686,417.4 1687.5,418 1689,418.6 1690.5,419.2 1692,420 1693.5,420.7 1695,421.5 1696.5,422.3 1698,423.1 1699.5,424 1701,424.8 1702.5,425.7 1704,426.5 1705.5,427.3 1707,428.1 1708.5,429 1710,429.9 1711.5,430.9 1713,431.9 1714.5,432.8 1716,433.8 1717.5,434.8 1719,435.8 1720.5,436.8 1722,437.7 1723.5,438.6 1725,439.5 1726.5,440.4 1728,441.2 1729.5,442 1731,442.7 1732.5,443.5 1734,444.3 1735.5,445 1737,445.7 1738.5,446.5 1740,447.2 1741.5,447.9 1743,448.6 1744.5,449.3 1746,450 1747.5,450.7 1749,451.3 1750.5,452 1752,452.7 1753.5,453.3 1755,454 1756.5,454.6 1758,455.3 1759.5,455.9 1761,456.5 1762.5,457.1 1764,457.7 1765.5,458.3 1767,459 1768.5,459.6 1770,460.1 1771.5,460.7 1773,461.3 1774.5,461.9 1776,462.5 1777.5,463.1 1779,463.7 1780.5,464.3 1782,464.9 1783.5,465.4 1785,466 1786.5,466.6 1788,467.2 1789.5,467.7 1791,468.3 1792.5,468.8 1794,469.4 1795.5,469.9 1797,470.5 1798.5,471 1800,471.5 1801.5,472 1803,472.5 1804.5,473 1806,473.5 1807.5,473.9 1809,474.4 1810.5,474.8 1812,475.2 1813.5,475.7 1815,476.1 1816.5,476.5 1818,476.8 1819.5,477.2 1821,477.6 1822.5,477.9 1824,478.3 1825.5,478.6 1827,478.9 1828.5,479.3 1830,479.6 1831.5,479.9 1833,480.2 1834.5,480.5 1836,480.8 1837.5,481.1 1839,481.4 1840.5,481.7 1842,482 1843.5,482.3 1845,482.6 1846.5,482.8 1848,483.1 1849.5,483.4 1851,483.6 1852.5,483.9 1854,484.2 1855.5,484.4 1857,484.7 1858.5,484.9 1860,485.2 1861.5,485.5 1863,485.7 1864.5,486 1866,486.2 1867.5,486.5 1869,486.7 1870.5,487 1872,487.2 1873.5,487.5 1875,487.7 1876.5,488 1878,488.2 1879.5,488.5 1881,488.7 1882.5,488.9 1884,489.2 1885.5,489.4 1887,489.6 1888.5,489.8 1890,490.1 1891.5,490.3 1893,490.5 1894.5,490.7 1896,490.9 1897.5,491.1 1899,491.2 1900.5,491.4 1902,491.6 1903.5,491.7 1905,491.9 1906.5,492.1 1908,492.2 1909.5,492.3 1911,492.5 1912.5,492.6 1914,492.8 1915.5,492.9 1917,493.1 1918.5,493.2 1920,493.4 1921.5,493.5 1923,493.7 1924.5,493.8 1926,493.9 1927.5,494.1 1929,494.2 1930.5,494.3 1932,494.5 1933.5,494.6 1935,494.7 1936.5,494.9 1938,495 1939.5,495.1 1941,495.2 1942.5,495.3 1944,495.5 1945.5,495.6 1947,495.7 1948.5,495.8 1950,495.9 1951.5,496 1953,496.1 1954.5,496.2 1956,496.3 1957.5,496.4 1959,496.5 1960.5,496.6 1962,496.7 1963.5,496.7 1965,496.8 1966.5,496.9 1968,497 1969.5,497 1971,497.1 1972.5,497.2 1974,497.2 1975.5,497.3 1977,497.3 1978.5,497.4 1980,497.4 1981.5,497.5 1982.7,497.5" fill="none" stroke="#7b0d86" stroke-width="3.0" stroke-linejoin="round" stroke-linecap="round"/>
<polyline points="1140,726 1148.9,764.8 1157.7,749.7 1165.9,791.4 1174.4,768.8 1182.8,775.9 1191,763 1199.9,766.6 1208.1,747 1217,720 1225,783.6 1233.2,770.3 1242.1,793.6 1250.3,819.8 1259.1,795.4 1267.1,755.9 1275.3,753.3 1284.2,722.6 1293.1,769.7 1300.9,734.8 1309.7,764.3 1318.2,730.4 1326.4,736.4 1334.6,754.1 1343,714.2 1351.9,722.6 1360.3,771.9 1368.5,757.7 1376.7,764.3 1385.2,720.9 1394,742.2 1402.5,707.5 1411.4,722.6 1419.6,719.3 1428.4,777.7 1436.6,789.6 1444.6,733.3 1452.8,754.8 1461.1,778.1 1469.9,830.9 1478.4,770.3 1486.8,732.6 1495,765.2 1503.9,742.2 1512.1,737.7 1521,723.1 1529.4,760.4 1537.8,680.5 1546,690.5 1554.2,723.7 1562.7,689.3 1571.1,743 1580,738.2 1588.2,733.7 1596.6,726 1605.5,677.8 1613.9,707.5 1622.1,692.7 1630.3,720.9 1639.2,774.8 1647.6,727.5 1656.1,696 1664.3,720.9 1673.1,739.9 1681.4,727.5 1689.8,717.1 1698.2,742.2 1707.1,742.2 1715.3,735.5 1723.5,774.8 1732.4,746.6 1740.4,731.1 1749.3,772.6 1757.5,795.9 1765.7,762.6 1774.1,743.7 1782.5,758.1 1791.4,770.3 1799.6,778.1 1807.8,764.3 1816.3,747.5 1824.7,747.5 1832.9,767 1841.8,815.4 1850,778.1 1858.4,751 1867.3,802.5 1875.7,813.2 1883.9,790.3 1892.8,757.7 1901,745.3 1909.5,810.3 1917.9,765.9 1926.1,765.9 1935,765.9 1943.2,764.8 1951.6,709.8 1960,755.5 1968.3,703.8 1977.1,758.6 1982.7,771.4" fill="none" stroke="#505050" stroke-width="3.2" stroke-linejoin="round" stroke-linecap="round"/>
<polyline points="1140,775.4 1976,783" fill="none" stroke="#e0141e" stroke-width="3.2" stroke-linejoin="round" stroke-linecap="round"/>
<polyline points="1140,773.2 1141.5,773.2 1143,773.1 1144.5,773.1 1146,773 1147.5,773 1149,772.9 1150.5,772.9 1152,772.8 1153.5,772.8 1155,772.7 1156.5,772.7 1158,772.6 1159.5,772.6 1161,772.5 1162.5,772.4 1164,772.4 1165.5,772.3 1167,772.3 1168.5,772.2 1170,772.1 1171.5,772.1 1173,772 1174.5,771.9 1176,771.9 1177.5,771.8 1179,771.7 1180.5,771.7 1182,771.6 1183.5,771.5 1185,771.4 1186.5,771.4 1188,771.3 1189.5,771.2 1191,771.1 1192.5,771 1194,771 1195.5,770.9 1197,770.8 1198.5,770.7 1200,770.6 1201.5,770.6 1203,770.5 1204.5,770.4 1206,770.3 1207.5,770.2 1209,770.1 1210.5,770 1212,769.9 1213.5,769.8 1215,769.8 1216.5,769.7 1218,769.6 1219.5,769.5 1221,769.4 1222.5,769.3 1224,769.2 1225.5,769.1 1227,769 1228.5,768.9 1230,768.8 1231.5,768.7 1233,768.6 1234.5,768.5 1236,768.4 1237.5,768.3 1239,768.2 1240.5,768.1 1242,768 1243.5,767.9 1245,767.8 1246.5,767.7 1248,767.6 1249.5,767.5 1251,767.4 1252.5,767.3 1254,767.1 1255.5,767 1257,766.9 1258.5,766.8 1260,766.7 1261.5,766.5 1263,766.4 1264.5,766.3 1266,766.1 1267.5,766 1269,765.9 1270.5,765.7 1272,765.6 1273.5,765.5 1275,765.3 1276.5,765.2 1278,765 1279.5,764.9 1281,764.8 1282.5,764.6 1284,764.5 1285.5,764.3 1287,764.2 1288.5,764 1290,763.9 1291.5,763.7 1293,763.5 1294.5,763.4 1296,763.2 1297.5,763.1 1299,762.9 1300.5,762.8 1302,762.6 1303.5,762.4 1305,762.3 1306.5,762.1 1308,761.9 1309.5,761.8 1311,761.6 1312.5,761.5 1314,761.3 1315.5,761.1 1317,761 1318.5,760.8 1320,760.6 1321.5,760.4 1323,760.3 1324.5,760.1 1326,759.9 1327.5,759.8 1329,759.6 1330.5,759.4 1332,759.3 1333.5,759.1 1335,758.9 1336.5,758.7 1338,758.6 1339.5,758.4 1341,758.2 1342.5,758.1 1344,757.9 1345.5,757.7 1347,757.6 1348.5,757.4 1350,757.2 1351.5,757 1353,756.9 1354.5,756.7 1356,756.5 1357.5,756.4 1359,756.2 1360.5,756 1362,755.8 1363.5,755.7 1365,755.5 1366.5,755.3 1368,755.2 1369.5,755 1371,754.8 1372.5,754.6 1374,754.4 1375.5,754.3 1377,754.1 1378.5,753.9 1380,753.7 1381.5,753.5 1383,753.4 1384.5,753.2 1386,753 1387.5,752.8 1389,752.6 1390.5,752.5 1392,752.3 1393.5,752.1 1395,751.9 1396.5,751.7 1398,751.5 1399.5,751.3 1401,751.1 1402.5,751 1404,750.8 1405.5,750.6 1407,750.4 1408.5,750.2 1410,750 1411.5,749.8 1413,749.6 1414.5,749.4 1416,749.2 1417.5,749 1419,748.8 1420.5,748.6 1422,748.4 1423.5,748.2 1425,748 1426.5,747.8 1428,747.6 1429.5,747.4 1431,747.2 1432.5,747 1434,746.8 1435.5,746.6 1437,746.4 1438.5,746.1 1440,745.9 1441.5,745.7 1443,745.5 1444.5,745.3 1446,745.1 1447.5,744.9 1449,744.6 1450.5,744.4 1452,744.2 1453.5,744 1455,743.8 1456.5,743.5 1458,743.3 1459.5,743.1 1461,742.9 1462.5,742.6 1464,742.4 1465.5,742.2 1467,742 1468.5,741.7 1470,741.5 1471.5,741.2 1473,741 1474.5,740.7 1476,740.5 1477.5,740.2 1479,740 1480.5,739.7 1482,739.5 1483.5,739.2 1485,739 1486.5,738.7 1488,738.4 1489.5,738.2 1491,737.9 1492.5,737.6 1494,737.3 1495.5,737.1 1497,736.8 1498.5,736.5 1500,736.3 1501.5,736 1503,735.7 1504.5,735.4 1506,735.1 1507.5,734.9 1509,734.6 1510.5,734.3 1512,734 1513.5,733.7 1515,733.5 1516.5,733.2 1518,732.9 1519.5,732.6 1521,732.3 1522.5,732 1524,731.8 1525.5,731.5 1527,731.2 1528.5,730.9 1530,730.6 1531.5,730.4 1533,730.1 1534.5,729.8 1536,729.5 1537.5,729.3 1539,729 1540.5,728.7 1542,728.4 1543.5,728.2 1545,727.9 1546.5,727.6 1548,727.4 1549.5,727.1 1551,726.8 1552.5,726.6 1554,726.3 1555.5,726 1557,725.7 1558.5,725.4 1560,725.1 1561.5,724.9 1563,724.6 1564.5,724.3 1566,724 1567.5,723.7 1569,723.4 1570.5,723.1 1572,722.8 1573.5,722.6 1575,722.3 1576.5,722 1578,721.8 1579.5,721.5 1581,721.2 1582.5,721 1584,720.7 1585.5,720.5 1587,720.3 1588.5,720.1 1590,719.9 1591.5,719.7 1593,719.5 1594.5,719.3 1596,719.1 1597.5,718.9 1599,718.8 1600.5,718.6 1602,718.4 1603.5,718.2 1605,718 1606.5,717.9 1608,717.7 1609.5,717.5 1611,717.4 1612.5,717.2 1614,717 1615.5,716.9 1617,716.7 1618.5,716.6 1620,716.4 1621.5,716.3 1623,716.2 1624.5,716.1 1626,716 1627.5,715.9 1629,715.8 1630.5,715.7 1632,715.6 1633.5,715.6 1635,715.5 1636.5,715.5 1638,715.5 1639.5,715.5 1641,715.5 1642.5,715.6 1644,715.7 1645.5,715.8 1647,715.9 1648.5,716.1 1650,716.3 1651.5,716.4 1653,716.6 1654.5,716.8 1656,717 1657.5,717.2 1659,717.5 1660.5,717.8 1662,718.2 1663.5,718.6 1665,719.1 1666.5,719.5 1668,720 1669.5,720.6 1671,721.1 1672.5,721.7 1674,722.3 1675.5,722.9 1677,723.5 1678.5,724.1 1680,724.8 1681.5,725.4 1683,726 1684.5,726.6 1686,727.2 1687.5,727.9 1689,728.6 1690.5,729.3 1692,730 1693.5,730.8 1695,731.6 1696.5,732.4 1698,733.2 1699.5,734 1701,734.9 1702.5,735.7 1704,736.5 1705.5,737.4 1707,738.2 1708.5,739.1 1710,739.9 1711.5,740.7 1713,741.5 1714.5,742.3 1716,743.1 1717.5,743.8 1719,744.5 1720.5,745.2 1722,745.9 1723.5,746.6 1725,747.2 1726.5,747.7 1728,748.3 1729.5,748.8 1731,749.3 1732.5,749.8 1734,750.3 1735.5,750.8 1737,751.2 1738.5,751.7 1740,752.1 1741.5,752.5 1743,753 1744.5,753.4 1746,753.8 1747.5,754.2 1749,754.6 1750.5,755 1752,755.4 1753.5,755.8 1755,756.1 1756.5,756.5 1758,756.9 1759.5,757.3 1761,757.6 1762.5,758 1764,758.4 1765.5,758.7 1767,759.1 1768.5,759.5 1770,759.8 1771.5,760.2 1773,760.6 1774.5,760.9 1776,761.3 1777.5,761.7 1779,762.1 1780.5,762.4 1782,762.8 1783.5,763.2 1785,763.5 1786.5,763.9 1788,764.2 1789.5,764.6 1791,764.9 1792.5,765.3 1794,765.6 1795.5,766 1797,766.3 1798.5,766.7 1800,767 1801.5,767.3 1803,767.7 1804.5,768 1806,768.3 1807.5,768.6 1809,768.9 1810.5,769.2 1812,769.5 1813.5,769.8 1815,770.1 1816.5,770.3 1818,770.6 1819.5,770.9 1821,771.1 1822.5,771.4 1824,771.7 1825.5,771.9 1827,772.2 1828.5,772.5 1830,772.7 1831.5,773 1833,773.2 1834.5,773.5 1836,773.7 1837.5,774 1839,774.2 1840.5,774.4 1842,774.6 1843.5,774.9 1845,775.1 1846.5,775.3 1848,775.5 1849.5,775.7 1851,775.9 1852.5,776.1 1854,776.3 1855.5,776.4 1857,776.6 1858.5,776.8 1860,776.9 1861.5,777.1 1863,777.2 1864.5,777.4 1866,777.5 1867.5,777.7 1869,777.8 1870.5,777.9 1872,778.1 1873.5,778.2 1875,778.3 1876.5,778.5 1878,778.6 1879.5,778.7 1881,778.8 1882.5,778.9 1884,779.1 1885.5,779.2 1887,779.3 1888.5,779.4 1890,779.5 1891.5,779.6 1893,779.7 1894.5,779.8 1896,779.8 1897.5,779.9 1899,780 1900.5,780.1 1902,780.2 1903.5,780.2 1905,780.3 1906.5,780.4 1908,780.4 1909.5,780.5 1911,780.6 1912.5,780.6 1914,780.7 1915.5,780.7 1917,780.8 1918.5,780.9 1920,780.9 1921.5,781 1923,781.1 1924.5,781.1 1926,781.2 1927.5,781.2 1929,781.3 1930.5,781.3 1932,781.4 1933.5,781.5 1935,781.5 1936.5,781.6 1938,781.6 1939.5,781.7 1941,781.7 1942.5,781.8 1944,781.8 1945.5,781.9 1947,781.9 1948.5,782 1950,782 1951.5,782 1953,782.1 1954.5,782.1 1956,782.2 1957.5,782.2 1959,782.2 1960.5,782.3 1962,782.3 1963.5,782.3 1965,782.3 1966.5,782.4 1968,782.4 1969.5,782.4 1971,782.4 1972.5,782.4 1974,782.5 1975.5,782.5 1977,782.5 1978.5,782.5 1980,782.5 1981.5,782.5 1982.7,782.5" fill="none" stroke="#7b0d86" stroke-width="3.0" stroke-linejoin="round" stroke-linecap="round"/>
<rect x="1139" y="5.6" width="844.5" height="229" fill="none" stroke="#000" stroke-width="3.5"/>
<text x="1139" y="261.6" font-size="20" text-anchor="middle">238</text>
<line x1="1223.5" y1="234.6" x2="1223.5" y2="229.9" stroke="#000" stroke-width="3.0" stroke-linecap="butt"/>
<line x1="1307.9" y1="234.6" x2="1307.9" y2="225.3" stroke="#000" stroke-width="3.0" stroke-linecap="butt"/>
<text x="1307.9" y="261.6" font-size="20" text-anchor="middle">236</text>
<line x1="1392.3" y1="234.6" x2="1392.3" y2="229.9" stroke="#000" stroke-width="3.0" stroke-linecap="butt"/>
<line x1="1476.8" y1="234.6" x2="1476.8" y2="225.3" stroke="#000" stroke-width="3.0" stroke-linecap="butt"/>
<text x="1476.8" y="261.6" font-size="20" text-anchor="middle">234</text>
<line x1="1561.2" y1="234.6" x2="1561.2" y2="229.9" stroke="#000" stroke-width="3.0" stroke-linecap="butt"/>
<line x1="1645.7" y1="234.6" x2="1645.7" y2="225.3" stroke="#000" stroke-width="3.0" stroke-linecap="butt"/>
<text x="1645.7" y="261.6" font-size="20" text-anchor="middle">232</text>
<line x1="1730.2" y1="234.6" x2="1730.2" y2="229.9" stroke="#000" stroke-width="3.0" stroke-linecap="butt"/>
<line x1="1814.6" y1="234.6" x2="1814.6" y2="225.3" stroke="#000" stroke-width="3.0" stroke-linecap="butt"/>
<text x="1814.6" y="261.6" font-size="20" text-anchor="middle">230</text>
<line x1="1899" y1="234.6" x2="1899" y2="229.9" stroke="#000" stroke-width="3.0" stroke-linecap="butt"/>
<text x="1983.5" y="261.6" font-size="20" text-anchor="middle">228</text>
<text x="1570.7" y="293.1" font-size="22" text-anchor="middle">Binding Energy, eV</text>
<rect x="1139" y="316.5" width="844.5" height="229.8" fill="none" stroke="#000" stroke-width="3.5"/>
<text x="1139" y="574" font-size="20" text-anchor="middle">238</text>
<line x1="1223.5" y1="546.3" x2="1223.5" y2="541.6" stroke="#000" stroke-width="3.0" stroke-linecap="butt"/>
<line x1="1307.9" y1="546.3" x2="1307.9" y2="537" stroke="#000" stroke-width="3.0" stroke-linecap="butt"/>
<text x="1307.9" y="574" font-size="20" text-anchor="middle">236</text>
<line x1="1392.3" y1="546.3" x2="1392.3" y2="541.6" stroke="#000" stroke-width="3.0" stroke-linecap="butt"/>
<line x1="1476.8" y1="546.3" x2="1476.8" y2="537" stroke="#000" stroke-width="3.0" stroke-linecap="butt"/>
<text x="1476.8" y="574" font-size="20" text-anchor="middle">234</text>
<line x1="1561.2" y1="546.3" x2="1561.2" y2="541.6" stroke="#000" stroke-width="3.0" stroke-linecap="butt"/>
<line x1="1645.7" y1="546.3" x2="1645.7" y2="537" stroke="#000" stroke-width="3.0" stroke-linecap="butt"/>
<text x="1645.7" y="574" font-size="20" text-anchor="middle">232</text>
<line x1="1730.2" y1="546.3" x2="1730.2" y2="541.6" stroke="#000" stroke-width="3.0" stroke-linecap="butt"/>
<line x1="1814.6" y1="546.3" x2="1814.6" y2="537" stroke="#000" stroke-width="3.0" stroke-linecap="butt"/>
<text x="1814.6" y="574" font-size="20" text-anchor="middle">230</text>
<line x1="1899" y1="546.3" x2="1899" y2="541.6" stroke="#000" stroke-width="3.0" stroke-linecap="butt"/>
<text x="1983.5" y="574" font-size="20" text-anchor="middle">228</text>
<text x="1561.3" y="603.6" font-size="22" text-anchor="middle">Binding Energy, eV</text>
<rect x="1139" y="628.7" width="844.5" height="229.1" fill="none" stroke="#000" stroke-width="3.5"/>
<text x="1139" y="884.5" font-size="20" text-anchor="middle">238</text>
<line x1="1223.5" y1="857.8" x2="1223.5" y2="853.1" stroke="#000" stroke-width="3.0" stroke-linecap="butt"/>
<line x1="1307.9" y1="857.8" x2="1307.9" y2="848.5" stroke="#000" stroke-width="3.0" stroke-linecap="butt"/>
<text x="1307.9" y="884.5" font-size="20" text-anchor="middle">236</text>
<line x1="1392.3" y1="857.8" x2="1392.3" y2="853.1" stroke="#000" stroke-width="3.0" stroke-linecap="butt"/>
<line x1="1476.8" y1="857.8" x2="1476.8" y2="848.5" stroke="#000" stroke-width="3.0" stroke-linecap="butt"/>
<text x="1476.8" y="884.5" font-size="20" text-anchor="middle">234</text>
<line x1="1561.2" y1="857.8" x2="1561.2" y2="853.1" stroke="#000" stroke-width="3.0" stroke-linecap="butt"/>
<line x1="1645.7" y1="857.8" x2="1645.7" y2="848.5" stroke="#000" stroke-width="3.0" stroke-linecap="butt"/>
<text x="1645.7" y="884.5" font-size="20" text-anchor="middle">232</text>
<line x1="1730.2" y1="857.8" x2="1730.2" y2="853.1" stroke="#000" stroke-width="3.0" stroke-linecap="butt"/>
<line x1="1814.6" y1="857.8" x2="1814.6" y2="848.5" stroke="#000" stroke-width="3.0" stroke-linecap="butt"/>
<text x="1814.6" y="884.5" font-size="20" text-anchor="middle">230</text>
<line x1="1899" y1="857.8" x2="1899" y2="853.1" stroke="#000" stroke-width="3.0" stroke-linecap="butt"/>
<text x="1983.5" y="884.5" font-size="20" text-anchor="middle">228</text>
<text x="1561.3" y="920.9" font-size="22" text-anchor="middle">Binding Energy, eV</text>
<text x="1101.7" y="120.2" font-size="24.2" text-anchor="middle" transform="rotate(-90 1101.7 120.2)">Intensity, a.u.</text>
<text x="1104.9" y="431.1" font-size="24.7" text-anchor="middle" transform="rotate(-90 1104.9 431.1)">Intensity, a.u.</text>
<text x="1099.9" y="736.4" font-size="24.76" text-anchor="middle" transform="rotate(-90 1099.9 736.4)">Intensity, a.u.</text>
<rect x="1171.9" y="29.7" width="34" height="43.9" fill="#000"/>
<rect x="1167.7" y="25.5" width="34" height="43.9" fill="#fff" stroke="#bdbdbd" stroke-width="1"/>
<text x="1184.7" y="59" font-size="33" text-anchor="middle">Q</text>
<rect x="1168.6" y="336.4" width="55.9" height="44.4" fill="#000"/>
<rect x="1164.4" y="332.2" width="55.9" height="44.4" fill="#fff" stroke="#bdbdbd" stroke-width="1"/>
<text x="1192.3" y="365.9" font-size="33" text-anchor="middle">QT</text>
<rect x="1163" y="654.7" width="77.3" height="44.4" fill="#000"/>
<rect x="1158.8" y="650.5" width="77.3" height="44.4" fill="#fff" stroke="#bdbdbd" stroke-width="1"/>
<text x="1197.4" y="684.2" font-size="33" text-anchor="middle">QLT</text>
<text x="1788.5" y="62.6" font-size="22"><tspan font-size="22">FeMoO</tspan><tspan font-size="14" dy="5">4</tspan></text>
<line x1="1774.5" y1="70.3" x2="1743.6" y2="98.7" stroke="#000" stroke-width="2.6" stroke-linecap="butt"/>
<polygon points="1727.9,113.2 1740.4,92.2 1749.9,102.5" fill="#000"/>
<text x="1807.8" y="383.7" font-size="22"><tspan font-size="22">FeMoO</tspan><tspan font-size="14" dy="5">4</tspan></text>
<line x1="1764.1" y1="388.1" x2="1726.7" y2="414.8" stroke="#000" stroke-width="2.6" stroke-linecap="butt"/>
<polygon points="1709.3,427.2 1724.3,407.9 1732.4,419.3" fill="#000"/>
<text x="1815.8" y="686" font-size="22"><tspan font-size="22">FeMoO</tspan><tspan font-size="14" dy="5">4</tspan></text>
<line x1="1747.5" y1="687.6" x2="1712.6" y2="712.8" stroke="#000" stroke-width="2.6" stroke-linecap="butt"/>
<polygon points="1695.3,725.3 1710.2,705.9 1718.4,717.3" fill="#000"/>
<text x="1004.2" y="41.4" font-size="47" text-anchor="start">(b)</text>
<rect x="116.8" y="965.8" width="858.2" height="233.2" fill="#fdfdfd"/>
<rect x="116.8" y="1279.6" width="858.2" height="232.8" fill="#fdfdfd"/>
<rect x="116.8" y="1587.5" width="858.2" height="232.8" fill="#fdfdfd"/>
<polyline points="118.6,1069.7 122.9,1069.5 127.2,1071.4 131.5,1069.8 135.8,1071.6 140.1,1071.3 144.4,1070.5 148.7,1072.2 153,1070.9 157.3,1072.4 161.6,1071.4 165.9,1071.7 170.2,1072.9 174.5,1074.3 178.8,1072.2 183.1,1072.7 187.4,1074.1 191.7,1075.3 196,1074.2 200.3,1073.8 204.6,1075.7 208.9,1072.9 213.2,1075.5 217.5,1073.8 221.8,1073.4 226.1,1073.3 230.4,1073.9 234.7,1075.4 239,1073.2 243.3,1074.3 247.6,1074.2 251.9,1073.1 256.2,1073.3 260.5,1071.4 264.8,1071 269.1,1071.1 273.4,1072.2 277.7,1071 282,1070.2 286.3,1070.7 290.6,1069.7 294.9,1068.6 299.2,1069.5 303.5,1068.5 307.8,1066.2 312.1,1066.5 316.4,1065.5 320.7,1065.8 325,1064.5 329.3,1062.2 333.6,1063.6 337.9,1059.9 342.2,1059.9 346.5,1060 350.8,1057 355.1,1057 359.4,1054.5 363.7,1055.4 368,1054.5 372.3,1052.6 376.6,1052.3 380.9,1049.1 385.2,1048.9 389.5,1047.1 393.8,1045.6 398.1,1043.7 402.4,1043.4 406.7,1042.2 411,1039.2 415.3,1038.3 419.6,1034.8 423.9,1035.2 428.2,1033.4 432.5,1032.9 436.8,1030.8 441.1,1027.4 445.4,1026.2 449.7,1025.5 454,1021.9 458.3,1021.8 462.6,1019.3 466.9,1017.6 471.2,1016 475.5,1016.8 479.8,1013.4 484.1,1012.4 488.4,1011.5 492.7,1011.7 497,1007.8 501.3,1007.5 505.6,1006.3 509.9,1005.9 514.2,1004.3 518.5,1003.3 522.8,1000.5 527.1,1000.3 531.4,999.5 535.7,1000.7 540,1000.6 544.3,998 548.6,998.1 552.9,998.4 557.2,998.6 561.5,999.7 565.8,1000.3 570.1,999.8 574.4,1000.2 578.7,1003.2 583,1004.9 587.3,1007.7 591.6,1011.7 595.9,1014.2 600.2,1017.3 604.5,1021.3 608.8,1025.4 613.1,1027.6 617.4,1034.8 621.7,1039.2 626,1044.7 630.3,1050.2 634.6,1054.9 638.9,1061 643.2,1066.1 647.5,1074 651.8,1078.4 656.1,1084.9 660.4,1092.3 664.7,1099.7 669,1106.7 673.3,1110.3 677.6,1113.8 681.9,1117.6 686.2,1120.5 690.5,1124.5 694.8,1126.7 699.1,1132.8 703.4,1135 707.7,1136.2 712,1138.6 716.3,1140.6 720.6,1142 724.9,1142.5 729.2,1145.9 733.5,1147.4 737.8,1146.7 742.1,1147.7 746.4,1147.2 750.7,1148 755,1149.4 759.3,1149.8 763.6,1152.1 767.9,1150.5 772.2,1150.6 776.5,1154 780.8,1153.1 785.1,1152.2 789.4,1153.8 793.7,1152.4 798,1154.3 802.3,1155.9 806.6,1155.7 810.9,1155.4 815.2,1154.2 819.5,1154.7 823.8,1154.2 828.1,1156.3 832.4,1155.7 836.7,1156.6 841,1155.3 845.3,1155.1 849.6,1157.1 853.9,1157.7 858.2,1157.4 862.5,1157.4 866.8,1157.5 871.1,1157.3 875.4,1155.8 879.7,1156.8 884,1156.3 888.3,1155.4 892.6,1155.4 896.9,1156.3 901.2,1156.3 905.5,1157.8 909.8,1158.7 914.1,1157.2 918.4,1158.8 922.7,1159 927,1159 931.3,1157.1 935.6,1156.7 939.9,1156.8 944.2,1156.8 948.5,1156.8 952.8,1158.2 957.1,1159.1 961.4,1158.9 965.7,1157.8 970,1158.4 973,1158.9" fill="none" stroke="#000" stroke-width="3.6" stroke-linejoin="round" stroke-linecap="round"/>
<polyline points="118.6,1071.5 120.1,1071.5 121.6,1071.6 123.1,1071.7 124.6,1071.7 126.1,1071.8 127.6,1071.9 129.1,1072 130.6,1072.1 132.1,1072.1 133.6,1072.2 135.1,1072.3 136.6,1072.4 138.1,1072.5 139.6,1072.6 141.1,1072.7 142.6,1072.8 144.1,1072.9 145.6,1073 147.1,1073.1 148.6,1073.1 150.1,1073.2 151.6,1073.3 153.1,1073.4 154.6,1073.5 156.1,1073.6 157.6,1073.7 159.1,1073.8 160.6,1073.9 162.1,1073.9 163.6,1074 165.1,1074.1 166.6,1074.2 168.1,1074.3 169.6,1074.4 171.1,1074.5 172.6,1074.6 174.1,1074.6 175.6,1074.7 177.1,1074.8 178.6,1074.9 180.1,1075 181.6,1075.1 183.1,1075.2 184.6,1075.2 186.1,1075.3 187.6,1075.4 189.1,1075.5 190.6,1075.6 192.1,1075.6 193.6,1075.7 195.1,1075.8 196.6,1075.9 198.1,1076 199.6,1076.1 201.1,1076.1 202.6,1076.2 204.1,1076.3 205.6,1076.4 207.1,1076.5 208.6,1076.5 210.1,1076.6 211.6,1076.7 213.1,1076.8 214.6,1076.8 216.1,1076.9 217.6,1077 219.1,1077.1 220.6,1077.2 222.1,1077.2 223.6,1077.3 225.1,1077.4 226.6,1077.4 228.1,1077.5 229.6,1077.6 231.1,1077.7 232.6,1077.7 234.1,1077.8 235.6,1077.9 237.1,1077.9 238.6,1078 240.1,1078.1 241.6,1078.1 243.1,1078.2 244.6,1078.3 246.1,1078.3 247.6,1078.4 249.1,1078.5 250.6,1078.5 252.1,1078.6 253.6,1078.6 255.1,1078.7 256.6,1078.8 258.1,1078.8 259.6,1078.9 261.1,1078.9 262.6,1079 264.1,1079 265.6,1079.1 267.1,1079.2 268.6,1079.2 270.1,1079.3 271.6,1079.3 273.1,1079.4 274.6,1079.4 276.1,1079.5 277.6,1079.5 279.1,1079.6 280.6,1079.7 282.1,1079.7 283.6,1079.8 285.1,1079.8 286.6,1079.9 288.1,1079.9 289.6,1080 291.1,1080.1 292.6,1080.1 294.1,1080.2 295.6,1080.2 297.1,1080.3 298.6,1080.4 300.1,1080.4 301.6,1080.5 303.1,1080.6 304.6,1080.6 306.1,1080.7 307.6,1080.8 309.1,1080.8 310.6,1080.9 312.1,1081 313.6,1081 315.1,1081.1 316.6,1081.2 318.1,1081.2 319.6,1081.3 321.1,1081.4 322.6,1081.5 324.1,1081.5 325.6,1081.6 327.1,1081.7 328.6,1081.8 330.1,1081.9 331.6,1081.9 333.1,1082 334.6,1082.1 336.1,1082.2 337.6,1082.3 339.1,1082.4 340.6,1082.5 342.1,1082.6 343.6,1082.7 345.1,1082.8 346.6,1082.9 348.1,1083 349.6,1083.1 351.1,1083.2 352.6,1083.3 354.1,1083.4 355.6,1083.5 357.1,1083.7 358.6,1083.8 360.1,1083.9 361.6,1084 363.1,1084.1 364.6,1084.3 366.1,1084.4 367.6,1084.5 369.1,1084.7 370.6,1084.8 372.1,1084.9 373.6,1085.1 375.1,1085.2 376.6,1085.4 378.1,1085.5 379.6,1085.6 381.1,1085.8 382.6,1085.9 384.1,1086.1 385.6,1086.2 387.1,1086.4 388.6,1086.5 390.1,1086.7 391.6,1086.9 393.1,1087 394.6,1087.2 396.1,1087.3 397.6,1087.5 399.1,1087.7 400.6,1087.8 402.1,1088 403.6,1088.2 405.1,1088.3 406.6,1088.5 408.1,1088.7 409.6,1088.8 411.1,1089 412.6,1089.2 414.1,1089.3 415.6,1089.5 417.1,1089.7 418.6,1089.8 420.1,1090 421.6,1090.2 423.1,1090.4 424.6,1090.5 426.1,1090.7 427.6,1090.9 429.1,1091.1 430.6,1091.3 432.1,1091.4 433.6,1091.6 435.1,1091.8 436.6,1092 438.1,1092.2 439.6,1092.4 441.1,1092.5 442.6,1092.7 444.1,1092.9 445.6,1093.1 447.1,1093.3 448.6,1093.5 450.1,1093.7 451.6,1093.8 453.1,1094 454.6,1094.2 456.1,1094.4 457.6,1094.5 459.1,1094.7 460.6,1094.9 462.1,1095 463.6,1095.2 465.1,1095.3 466.6,1095.5 468.1,1095.6 469.6,1095.7 471.1,1095.8 472.6,1096 474.1,1096.1 475.6,1096.1 477.1,1096.2 478.6,1096.3 480.1,1096.4 481.6,1096.4 483.1,1096.5 484.6,1096.5 486.1,1096.5 487.6,1096.5 489.1,1096.5 490.6,1096.4 492.1,1096.4 493.6,1096.3 495.1,1096.2 496.6,1096.1 498.1,1096 499.6,1095.8 501.1,1095.6 502.6,1095.4 504.1,1095.2 505.6,1094.9 507.1,1094.6 508.6,1094.3 510.1,1094 511.6,1093.6 513.1,1093.2 514.6,1092.7 516.1,1092.3 517.6,1091.8 519.1,1091.2 520.6,1090.6 522.1,1090 523.6,1089.4 525.1,1088.7 526.6,1088 528.1,1087.3 529.6,1086.5 531.1,1085.7 532.6,1084.9 534.1,1084.1 535.6,1083.2 537.1,1082.3 538.6,1081.3 540.1,1080.4 541.6,1079.4 543.1,1078.4 544.6,1077.4 546.1,1076.3 547.6,1075.3 549.1,1074.2 550.6,1073.1 552.1,1072.1 553.6,1071 555.1,1069.9 556.6,1068.8 558.1,1067.7 559.6,1066.6 561.1,1065.5 562.6,1064.5 564.1,1063.4 565.6,1062.4 567.1,1061.4 568.6,1060.4 570.1,1059.5 571.6,1058.6 573.1,1057.8 574.6,1056.9 576.1,1056.2 577.6,1055.5 579.1,1054.8 580.6,1054.2 582.1,1053.7 583.6,1053.2 585.1,1052.8 586.6,1052.5 588.1,1052.2 589.6,1052 591.1,1051.9 592.6,1051.9 594.1,1052 595.6,1052.1 597.1,1052.3 598.6,1052.6 600.1,1053 601.6,1053.5 603.1,1054.1 604.6,1054.7 606.1,1055.4 607.6,1056.2 609.1,1057 610.6,1057.9 612.1,1058.8 613.6,1059.8 615.1,1060.9 616.6,1062 618.1,1063.2 619.6,1064.4 621.1,1065.7 622.6,1067 624.1,1068.3 625.6,1069.7 627.1,1071.2 628.6,1072.6 630.1,1074.1 631.6,1075.6 633.1,1077.2 634.6,1078.7 636.1,1080.3 637.6,1081.9 639.1,1083.5 640.6,1085.1 642.1,1086.8 643.6,1088.4 645.1,1090.1 646.6,1091.8 648.1,1093.4 649.6,1095.1 651.1,1096.8 652.6,1098.4 654.1,1100.1 655.6,1101.7 657.1,1103.4 658.6,1105 660.1,1106.6 661.6,1108.2 663.1,1109.8 664.6,1111.4 666.1,1112.9 667.6,1114.4 669.1,1115.9 670.6,1117.4 672.1,1118.8 673.6,1120.3 675.1,1121.7 676.6,1123 678.1,1124.4 679.6,1125.7 681.1,1127 682.6,1128.2 684.1,1129.5 685.6,1130.7 687.1,1131.8 688.6,1133 690.1,1134.1 691.6,1135.1 693.1,1136.2 694.6,1137.2 696.1,1138.2 697.6,1139.1 699.1,1140 700.6,1140.9 702.1,1141.8 703.6,1142.6 705.1,1143.3 706.6,1144.1 708.1,1144.8 709.6,1145.5 711.1,1146.1 712.6,1146.7 714.1,1147.3 715.6,1147.9 717.1,1148.4 718.6,1148.9 720.1,1149.3 721.6,1149.8 723.1,1150.2 724.6,1150.6 726.1,1151 727.6,1151.4 729.1,1151.7 730.6,1152 732.1,1152.4 733.6,1152.7 735.1,1152.9 736.6,1153.2 738.1,1153.5 739.6,1153.7 741.1,1153.9 742.6,1154.1 744.1,1154.3 745.6,1154.5 747.1,1154.7 748.6,1154.9 750.1,1155 751.6,1155.2 753.1,1155.3 754.6,1155.5 756.1,1155.6 757.6,1155.7 759.1,1155.8 760.6,1155.9 762.1,1156 763.6,1156.1 765.1,1156.2 766.6,1156.3 768.1,1156.4 769.6,1156.5 771.1,1156.5 772.6,1156.6 774.1,1156.7 775.6,1156.7 777.1,1156.8 778.6,1156.8 780.1,1156.9 781.6,1156.9 783.1,1157 784.6,1157 786.1,1157.1 787.6,1157.1 789.1,1157.1 790.6,1157.2 792.1,1157.2 793.6,1157.2 795.1,1157.3 796.6,1157.3 798.1,1157.3 799.6,1157.3 801.1,1157.4 802.6,1157.4 804.1,1157.4 805.6,1157.4 807.1,1157.5 808.6,1157.5 810.1,1157.5 811.6,1157.5 813.1,1157.5 814.6,1157.5 816.1,1157.6 817.6,1157.6 819.1,1157.6 820.6,1157.6 822.1,1157.6 823.6,1157.6 825.1,1157.7 826.6,1157.7 828.1,1157.7 829.6,1157.7 831.1,1157.7 832.6,1157.7 834.1,1157.7 835.6,1157.8 837.1,1157.8 838.6,1157.8 840.1,1157.8 841.6,1157.8 843.1,1157.8 844.6,1157.8 846.1,1157.8 847.6,1157.8 849.1,1157.8 850.6,1157.9 852.1,1157.9 853.6,1157.9 855.1,1157.9 856.6,1157.9 858.1,1157.9 859.6,1157.9 861.1,1157.9 862.6,1157.9 864.1,1157.9 865.6,1157.9 867.1,1158 868.6,1158 870.1,1158 871.6,1158 873.1,1158 874.6,1158 876.1,1158 877.6,1158 879.1,1158 880.6,1158 882.1,1158 883.6,1158 885.1,1158 886.6,1158 888.1,1158.1 889.6,1158.1 891.1,1158.1 892.6,1158.1 894.1,1158.1 895.6,1158.1 897.1,1158.1 898.6,1158.1 900.1,1158.1 901.6,1158.1 903.1,1158.1 904.6,1158.1 906.1,1158.1 907.6,1158.1 909.1,1158.1 910.6,1158.2 912.1,1158.2 913.6,1158.2 915.1,1158.2 916.6,1158.3 918.1,1158.3 919.6,1158.3 921.1,1158.3 922.6,1158.4 924.1,1158.4 925.6,1158.4 927.1,1158.4 928.6,1158.4 930.1,1158.5 931.6,1158.5 933.1,1158.5 934.6,1158.5 936.1,1158.5 937.6,1158.6 939.1,1158.6 940.6,1158.6 942.1,1158.6 943.6,1158.6 945.1,1158.6 946.6,1158.6 948.1,1158.7 949.6,1158.7 951.1,1158.7 952.6,1158.7 954.1,1158.7 955.6,1158.7 957.1,1158.7 958.6,1158.7 960.1,1158.7 961.6,1158.8 963.1,1158.8 964.6,1158.8 966.1,1158.8 967.6,1158.8 969.1,1158.8 970.6,1158.8 972.1,1158.8" fill="none" stroke="#1414d8" stroke-width="3.0" stroke-linejoin="round" stroke-linecap="round"/>
<polyline points="118.6,1071.6 120.1,1071.7 121.6,1071.7 123.1,1071.8 124.6,1071.8 126.1,1071.9 127.6,1072 129.1,1072.1 130.6,1072.2 132.1,1072.3 133.6,1072.4 135.1,1072.4 136.6,1072.5 138.1,1072.6 139.6,1072.7 141.1,1072.8 142.6,1072.9 144.1,1073 145.6,1073.1 147.1,1073.2 148.6,1073.3 150.1,1073.4 151.6,1073.5 153.1,1073.5 154.6,1073.6 156.1,1073.7 157.6,1073.8 159.1,1073.9 160.6,1074 162.1,1074.1 163.6,1074.2 165.1,1074.3 166.6,1074.3 168.1,1074.4 169.6,1074.5 171.1,1074.6 172.6,1074.7 174.1,1074.8 175.6,1074.9 177.1,1075 178.6,1075 180.1,1075.1 181.6,1075.2 183.1,1075.3 184.6,1075.4 186.1,1075.5 187.6,1075.5 189.1,1075.6 190.6,1075.7 192.1,1075.8 193.6,1075.9 195.1,1076 196.6,1076 198.1,1076.1 199.6,1076.2 201.1,1076.3 202.6,1076.4 204.1,1076.5 205.6,1076.5 207.1,1076.6 208.6,1076.7 210.1,1076.8 211.6,1076.9 213.1,1076.9 214.6,1077 216.1,1077.1 217.6,1077.2 219.1,1077.2 220.6,1077.3 222.1,1077.4 223.6,1077.5 225.1,1077.6 226.6,1077.6 228.1,1077.7 229.6,1077.8 231.1,1077.8 232.6,1077.9 234.1,1078 235.6,1078.1 237.1,1078.1 238.6,1078.2 240.1,1078.3 241.6,1078.3 243.1,1078.4 244.6,1078.5 246.1,1078.5 247.6,1078.6 249.1,1078.7 250.6,1078.7 252.1,1078.8 253.6,1078.8 255.1,1078.9 256.6,1079 258.1,1079 259.6,1079.1 261.1,1079.1 262.6,1079.2 264.1,1079.3 265.6,1079.3 267.1,1079.4 268.6,1079.4 270.1,1079.5 271.6,1079.6 273.1,1079.6 274.6,1079.7 276.1,1079.7 277.6,1079.8 279.1,1079.8 280.6,1079.9 282.1,1080 283.6,1080 285.1,1080.1 286.6,1080.1 288.1,1080.2 289.6,1080.3 291.1,1080.3 292.6,1080.4 294.1,1080.4 295.6,1080.5 297.1,1080.6 298.6,1080.6 300.1,1080.7 301.6,1080.8 303.1,1080.8 304.6,1080.9 306.1,1081 307.6,1081 309.1,1081.1 310.6,1081.2 312.1,1081.2 313.6,1081.3 315.1,1081.4 316.6,1081.5 318.1,1081.5 319.6,1081.6 321.1,1081.7 322.6,1081.8 324.1,1081.9 325.6,1081.9 327.1,1082 328.6,1082.1 330.1,1082.2 331.6,1082.3 333.1,1082.4 334.6,1082.5 336.1,1082.6 337.6,1082.6 339.1,1082.7 340.6,1082.8 342.1,1082.9 343.6,1083 345.1,1083.1 346.6,1083.3 348.1,1083.4 349.6,1083.5 351.1,1083.6 352.6,1083.7 354.1,1083.8 355.6,1083.9 357.1,1084.1 358.6,1084.2 360.1,1084.3 361.6,1084.4 363.1,1084.6 364.6,1084.7 366.1,1084.8 367.6,1085 369.1,1085.1 370.6,1085.3 372.1,1085.4 373.6,1085.5 375.1,1085.7 376.6,1085.8 378.1,1086 379.6,1086.1 381.1,1086.3 382.6,1086.4 384.1,1086.6 385.6,1086.8 387.1,1086.9 388.6,1087.1 390.1,1087.2 391.6,1087.4 393.1,1087.6 394.6,1087.7 396.1,1087.9 397.6,1088.1 399.1,1088.2 400.6,1088.4 402.1,1088.6 403.6,1088.8 405.1,1088.9 406.6,1089.1 408.1,1089.3 409.6,1089.5 411.1,1089.7 412.6,1089.8 414.1,1090 415.6,1090.2 417.1,1090.4 418.6,1090.6 420.1,1090.8 421.6,1091 423.1,1091.2 424.6,1091.4 426.1,1091.6 427.6,1091.8 429.1,1092 430.6,1092.2 432.1,1092.4 433.6,1092.6 435.1,1092.8 436.6,1093 438.1,1093.2 439.6,1093.4 441.1,1093.7 442.6,1093.9 444.1,1094.1 445.6,1094.4 447.1,1094.6 448.6,1094.8 450.1,1095.1 451.6,1095.3 453.1,1095.6 454.6,1095.8 456.1,1096.1 457.6,1096.3 459.1,1096.6 460.6,1096.9 462.1,1097.1 463.6,1097.4 465.1,1097.7 466.6,1097.9 468.1,1098.2 469.6,1098.5 471.1,1098.8 472.6,1099.1 474.1,1099.4 475.6,1099.7 477.1,1100 478.6,1100.3 480.1,1100.6 481.6,1100.9 483.1,1101.2 484.6,1101.6 486.1,1101.9 487.6,1102.2 489.1,1102.6 490.6,1102.9 492.1,1103.3 493.6,1103.7 495.1,1104 496.6,1104.4 498.1,1104.8 499.6,1105.2 501.1,1105.5 502.6,1105.9 504.1,1106.3 505.6,1106.7 507.1,1107.1 508.6,1107.5 510.1,1108 511.6,1108.4 513.1,1108.8 514.6,1109.2 516.1,1109.6 517.6,1110.1 519.1,1110.5 520.6,1110.9 522.1,1111.4 523.6,1111.8 525.1,1112.3 526.6,1112.7 528.1,1113.2 529.6,1113.6 531.1,1114.1 532.6,1114.6 534.1,1115.1 535.6,1115.5 537.1,1116 538.6,1116.5 540.1,1117 541.6,1117.5 543.1,1118 544.6,1118.4 546.1,1118.9 547.6,1119.4 549.1,1119.9 550.6,1120.4 552.1,1120.9 553.6,1121.4 555.1,1121.9 556.6,1122.4 558.1,1122.9 559.6,1123.4 561.1,1123.9 562.6,1124.4 564.1,1124.9 565.6,1125.4 567.1,1125.9 568.6,1126.4 570.1,1126.9 571.6,1127.4 573.1,1127.9 574.6,1128.4 576.1,1128.9 577.6,1129.4 579.1,1129.9 580.6,1130.5 582.1,1131 583.6,1131.5 585.1,1132 586.6,1132.5 588.1,1133 589.6,1133.4 591.1,1133.9 592.6,1134.4 594.1,1134.9 595.6,1135.4 597.1,1135.9 598.6,1136.4 600.1,1136.9 601.6,1137.4 603.1,1137.9 604.6,1138.3 606.1,1138.8 607.6,1139.3 609.1,1139.8 610.6,1140.3 612.1,1140.8 613.6,1141.2 615.1,1141.7 616.6,1142.2 618.1,1142.6 619.6,1143.1 621.1,1143.5 622.6,1144 624.1,1144.4 625.6,1144.9 627.1,1145.3 628.6,1145.7 630.1,1146.1 631.6,1146.5 633.1,1146.8 634.6,1147.2 636.1,1147.6 637.6,1147.9 639.1,1148.2 640.6,1148.6 642.1,1148.9 643.6,1149.2 645.1,1149.5 646.6,1149.8 648.1,1150.1 649.6,1150.4 651.1,1150.7 652.6,1151 654.1,1151.2 655.6,1151.5 657.1,1151.8 658.6,1152 660.1,1152.2 661.6,1152.5 663.1,1152.7 664.6,1152.9 666.1,1153.2 667.6,1153.4 669.1,1153.6 670.6,1153.8 672.1,1154 673.6,1154.2 675.1,1154.4 676.6,1154.5 678.1,1154.7 679.6,1154.9 681.1,1155 682.6,1155.2 684.1,1155.4 685.6,1155.5 687.1,1155.7 688.6,1155.8 690.1,1156 691.6,1156.1 693.1,1156.3 694.6,1156.4 696.1,1156.5 697.6,1156.7 699.1,1156.8 700.6,1156.9 702.1,1157 703.6,1157.1 705.1,1157.2 706.6,1157.3 708.1,1157.3 709.6,1157.4 711.1,1157.5 712.6,1157.5 714.1,1157.6 715.6,1157.6 717.1,1157.6 718.6,1157.7 720.1,1157.7 721.6,1157.7 723.1,1157.7 724.6,1157.8 726.1,1157.8 727.6,1157.8 729.1,1157.8 730.6,1157.8 732.1,1157.8 733.6,1157.8 735.1,1157.8 736.6,1157.8 738.1,1157.9 739.6,1157.9 741.1,1157.9 742.6,1157.9 744.1,1157.9 745.6,1157.9 747.1,1157.9 748.6,1157.9 750.1,1157.9 751.6,1157.9 753.1,1158 754.6,1158 756.1,1158 757.6,1158 759.1,1158 760.6,1158 762.1,1158 763.6,1158 765.1,1158 766.6,1158 768.1,1158 769.6,1158 771.1,1158.1 772.6,1158.1 774.1,1158.1 775.6,1158.1 777.1,1158.1 778.6,1158.1 780.1,1158.1 781.6,1158.1 783.1,1158.1 784.6,1158.1 786.1,1158.1 787.6,1158.1 789.1,1158.1 790.6,1158.2 792.1,1158.2 793.6,1158.2 795.1,1158.2 796.6,1158.2 798.1,1158.2 799.6,1158.2 801.1,1158.2 802.6,1158.2 804.1,1158.2 805.6,1158.2 807.1,1158.2 808.6,1158.2 810.1,1158.2 811.6,1158.2 813.1,1158.2 814.6,1158.3 816.1,1158.3 817.6,1158.3 819.1,1158.3 820.6,1158.3 822.1,1158.3 823.6,1158.3 825.1,1158.3 826.6,1158.3 828.1,1158.3 829.6,1158.3 831.1,1158.3 832.6,1158.3 834.1,1158.3 835.6,1158.3 837.1,1158.3 838.6,1158.3 840.1,1158.3 841.6,1158.3 843.1,1158.3 844.6,1158.3 846.1,1158.4 847.6,1158.4 849.1,1158.4 850.6,1158.4 852.1,1158.4 853.6,1158.4 855.1,1158.4 856.6,1158.4 858.1,1158.4 859.6,1158.4 861.1,1158.4 862.6,1158.4 864.1,1158.4 865.6,1158.4 867.1,1158.4 868.6,1158.4 870.1,1158.4 871.6,1158.4 873.1,1158.4 874.6,1158.4 876.1,1158.4 877.6,1158.4 879.1,1158.4 880.6,1158.4 882.1,1158.4 883.6,1158.4 885.1,1158.4 886.6,1158.4 888.1,1158.4 889.6,1158.4 891.1,1158.4 892.6,1158.4 894.1,1158.4 895.6,1158.5 897.1,1158.5 898.6,1158.5 900.1,1158.5 901.6,1158.5 903.1,1158.5 904.6,1158.5 906.1,1158.5 907.6,1158.5 909.1,1158.5 910.6,1158.5 912.1,1158.5 913.6,1158.5 915.1,1158.5 916.6,1158.5 918.1,1158.5 919.6,1158.5 921.1,1158.5 922.6,1158.5 924.1,1158.5 925.6,1158.5 927.1,1158.5 928.6,1158.5 930.1,1158.5 931.6,1158.5 933.1,1158.5 934.6,1158.5 936.1,1158.5 937.6,1158.6 939.1,1158.6 940.6,1158.6 942.1,1158.6 943.6,1158.6 945.1,1158.6 946.6,1158.6 948.1,1158.7 949.6,1158.7 951.1,1158.7 952.6,1158.7 954.1,1158.7 955.6,1158.7 957.1,1158.7 958.6,1158.7 960.1,1158.7 961.6,1158.8 963.1,1158.8 964.6,1158.8 966.1,1158.8 967.6,1158.8 969.1,1158.8 970.6,1158.8 972.1,1158.8" fill="none" stroke="#e0141e" stroke-width="3.0" stroke-linejoin="round" stroke-linecap="round"/>
<polyline points="118.6,1071.2 120.1,1071.3 121.6,1071.4 123.1,1071.5 124.6,1071.6 126.1,1071.7 127.6,1071.8 129.1,1071.9 130.6,1072 132.1,1072.1 133.6,1072.2 135.1,1072.3 136.6,1072.4 138.1,1072.5 139.6,1072.6 141.1,1072.7 142.6,1072.7 144.1,1072.8 145.6,1072.9 147.1,1073 148.6,1073.1 150.1,1073.2 151.6,1073.2 153.1,1073.3 154.6,1073.4 156.1,1073.5 157.6,1073.5 159.1,1073.6 160.6,1073.7 162.1,1073.7 163.6,1073.8 165.1,1073.8 166.6,1073.9 168.1,1074 169.6,1074 171.1,1074.1 172.6,1074.1 174.1,1074.2 175.6,1074.2 177.1,1074.3 178.6,1074.3 180.1,1074.4 181.6,1074.4 183.1,1074.5 184.6,1074.5 186.1,1074.6 187.6,1074.6 189.1,1074.7 190.6,1074.7 192.1,1074.8 193.6,1074.8 195.1,1074.9 196.6,1074.9 198.1,1075 199.6,1075 201.1,1075 202.6,1075.1 204.1,1075.1 205.6,1075.1 207.1,1075.2 208.6,1075.2 210.1,1075.2 211.6,1075.3 213.1,1075.3 214.6,1075.3 216.1,1075.3 217.6,1075.4 219.1,1075.4 220.6,1075.4 222.1,1075.4 223.6,1075.4 225.1,1075.4 226.6,1075.4 228.1,1075.4 229.6,1075.4 231.1,1075.4 232.6,1075.3 234.1,1075.3 235.6,1075.2 237.1,1075.2 238.6,1075.1 240.1,1075.1 241.6,1075 243.1,1074.9 244.6,1074.8 246.1,1074.8 247.6,1074.7 249.1,1074.6 250.6,1074.5 252.1,1074.4 253.6,1074.3 255.1,1074.2 256.6,1074 258.1,1073.9 259.6,1073.8 261.1,1073.7 262.6,1073.5 264.1,1073.4 265.6,1073.3 267.1,1073.1 268.6,1073 270.1,1072.9 271.6,1072.7 273.1,1072.6 274.6,1072.4 276.1,1072.3 277.6,1072.2 279.1,1072 280.6,1071.9 282.1,1071.7 283.6,1071.6 285.1,1071.4 286.6,1071.3 288.1,1071.1 289.6,1070.9 291.1,1070.7 292.6,1070.5 294.1,1070.3 295.6,1070.2 297.1,1070 298.6,1069.9 300.1,1069.7 301.6,1069.6 303.1,1069.4 304.6,1069.2 306.1,1069.1 307.6,1068.9 309.1,1068.7 310.6,1068.5 312.1,1068.3 313.6,1068.1 315.1,1067.9 316.6,1067.7 318.1,1067.5 319.6,1067.3 321.1,1067 322.6,1066.8 324.1,1066.6 325.6,1066.3 327.1,1066.1 328.6,1065.8 330.1,1065.5 331.6,1065.3 333.1,1065 334.6,1064.7 336.1,1064.4 337.6,1064.1 339.1,1063.8 340.6,1063.5 342.1,1063.2 343.6,1062.9 345.1,1062.5 346.6,1062.2 348.1,1061.9 349.6,1061.5 351.1,1061.2 352.6,1060.8 354.1,1060.4 355.6,1060.1 357.1,1059.7 358.6,1059.3 360.1,1058.9 361.6,1058.5 363.1,1058.1 364.6,1057.7 366.1,1057.2 367.6,1056.8 369.1,1056.4 370.6,1055.9 372.1,1055.5 373.6,1055 375.1,1054.5 376.6,1054.1 378.1,1053.6 379.6,1053.1 381.1,1052.6 382.6,1052.1 384.1,1051.6 385.6,1051.1 387.1,1050.6 388.6,1050 390.1,1049.5 391.6,1049 393.1,1048.4 394.6,1047.9 396.1,1047.3 397.6,1046.7 399.1,1046.2 400.6,1045.6 402.1,1045 403.6,1044.4 405.1,1043.8 406.6,1043.2 408.1,1042.6 409.6,1042 411.1,1041.4 412.6,1040.8 414.1,1040.2 415.6,1039.5 417.1,1038.9 418.6,1038.3 420.1,1037.7 421.6,1037 423.1,1036.4 424.6,1035.8 426.1,1035.1 427.6,1034.5 429.1,1033.9 430.6,1033.3 432.1,1032.6 433.6,1032 435.1,1031.4 436.6,1030.8 438.1,1030.2 439.6,1029.6 441.1,1029 442.6,1028.5 444.1,1027.9 445.6,1027.4 447.1,1026.8 448.6,1026.3 450.1,1025.7 451.6,1025.2 453.1,1024.6 454.6,1024.1 456.1,1023.6 457.6,1023.1 459.1,1022.6 460.6,1022.1 462.1,1021.7 463.6,1021.3 465.1,1020.9 466.6,1020.5 468.1,1020.1 469.6,1019.7 471.1,1019.4 472.6,1019.1 474.1,1018.8 475.6,1018.6 477.1,1018.3 478.6,1018.1 480.1,1017.9 481.6,1017.8 483.1,1017.6 484.6,1017.5 486.1,1017.4 487.6,1017.4 489.1,1017.4 490.6,1017.4 492.1,1017.5 493.6,1017.5 495.1,1017.7 496.6,1017.8 498.1,1018 499.6,1018.2 501.1,1018.5 502.6,1018.7 504.1,1019 505.6,1019.4 507.1,1019.8 508.6,1020.2 510.1,1020.7 511.6,1021.2 513.1,1021.7 514.6,1022.3 516.1,1022.9 517.6,1023.6 519.1,1024.3 520.6,1025 522.1,1025.8 523.6,1026.7 525.1,1027.5 526.6,1028.4 528.1,1029.4 529.6,1030.3 531.1,1031.4 532.6,1032.4 534.1,1033.5 535.6,1034.6 537.1,1035.7 538.6,1036.9 540.1,1038.1 541.6,1039.3 543.1,1040.6 544.6,1041.9 546.1,1043.1 547.6,1044.4 549.1,1045.8 550.6,1047.1 552.1,1048.5 553.6,1049.8 555.1,1051.2 556.6,1052.6 558.1,1054 559.6,1055.5 561.1,1056.9 562.6,1058.3 564.1,1059.8 565.6,1061.2 567.1,1062.7 568.6,1064.1 570.1,1065.6 571.6,1067 573.1,1068.5 574.6,1070 576.1,1071.4 577.6,1072.9 579.1,1074.4 580.6,1075.8 582.1,1077.3 583.6,1078.7 585.1,1080.2 586.6,1081.6 588.1,1083.1 589.6,1084.5 591.1,1085.9 592.6,1087.3 594.1,1088.7 595.6,1090.1 597.1,1091.5 598.6,1092.9 600.1,1094.2 601.6,1095.6 603.1,1096.9 604.6,1098.3 606.1,1099.6 607.6,1100.9 609.1,1102.2 610.6,1103.5 612.1,1104.8 613.6,1106 615.1,1107.3 616.6,1108.5 618.1,1109.7 619.6,1110.9 621.1,1112.1 622.6,1113.3 624.1,1114.4 625.6,1115.5 627.1,1116.6 628.6,1117.7 630.1,1118.7 631.6,1119.8 633.1,1120.8 634.6,1121.8 636.1,1122.7 637.6,1123.7 639.1,1124.6 640.6,1125.5 642.1,1126.4 643.6,1127.2 645.1,1128.1 646.6,1128.9 648.1,1129.7 649.6,1130.5 651.1,1131.2 652.6,1132 654.1,1132.7 655.6,1133.4 657.1,1134.1 658.6,1134.8 660.1,1135.5 661.6,1136.1 663.1,1136.8 664.6,1137.4 666.1,1138 667.6,1138.5 669.1,1139.1 670.6,1139.7 672.1,1140.2 673.6,1140.7 675.1,1141.2 676.6,1141.7 678.1,1142.2 679.6,1142.7 681.1,1143.1 682.6,1143.6 684.1,1144 685.6,1144.4 687.1,1144.8 688.6,1145.2 690.1,1145.6 691.6,1146 693.1,1146.4 694.6,1146.7 696.1,1147.1 697.6,1147.4 699.1,1147.7 700.6,1148 702.1,1148.3 703.6,1148.6 705.1,1148.9 706.6,1149.1 708.1,1149.4 709.6,1149.6 711.1,1149.8 712.6,1150 714.1,1150.2 715.6,1150.4 717.1,1150.6 718.6,1150.7 720.1,1150.9 721.6,1151 723.1,1151.2 724.6,1151.3 726.1,1151.4 727.6,1151.6 729.1,1151.7 730.6,1151.8 732.1,1151.9 733.6,1152 735.1,1152.1 736.6,1152.2 738.1,1152.3 739.6,1152.4 741.1,1152.5 742.6,1152.6 744.1,1152.7 745.6,1152.8 747.1,1152.9 748.6,1153 750.1,1153 751.6,1153.1 753.1,1153.2 754.6,1153.3 756.1,1153.3 757.6,1153.4 759.1,1153.5 760.6,1153.6 762.1,1153.6 763.6,1153.7 765.1,1153.8 766.6,1153.8 768.1,1153.9 769.6,1153.9 771.1,1154 772.6,1154.1 774.1,1154.1 775.6,1154.2 777.1,1154.2 778.6,1154.3 780.1,1154.3 781.6,1154.4 783.1,1154.4 784.6,1154.5 786.1,1154.5 787.6,1154.6 789.1,1154.6 790.6,1154.7 792.1,1154.8 793.6,1154.8 795.1,1154.9 796.6,1155 798.1,1155.1 799.6,1155.2 801.1,1155.2 802.6,1155.3 804.1,1155.4 805.6,1155.4 807.1,1155.5 808.6,1155.6 810.1,1155.6 811.6,1155.7 813.1,1155.8 814.6,1155.8 816.1,1155.9 817.6,1156 819.1,1156 820.6,1156.1 822.1,1156.1 823.6,1156.2 825.1,1156.2 826.6,1156.3 828.1,1156.3 829.6,1156.4 831.1,1156.4 832.6,1156.5 834.1,1156.5 835.6,1156.6 837.1,1156.6 838.6,1156.7 840.1,1156.7 841.6,1156.8 843.1,1156.8 844.6,1156.8 846.1,1156.9 847.6,1156.9 849.1,1157 850.6,1157 852.1,1157 853.6,1157.1 855.1,1157.1 856.6,1157.1 858.1,1157.2 859.6,1157.2 861.1,1157.2 862.6,1157.3 864.1,1157.3 865.6,1157.3 867.1,1157.4 868.6,1157.4 870.1,1157.4 871.6,1157.5 873.1,1157.5 874.6,1157.5 876.1,1157.6 877.6,1157.6 879.1,1157.6 880.6,1157.6 882.1,1157.7 883.6,1157.7 885.1,1157.7 886.6,1157.7 888.1,1157.8 889.6,1157.8 891.1,1157.8 892.6,1157.9 894.1,1157.9 895.6,1157.9 897.1,1157.9 898.6,1158 900.1,1158 901.6,1158 903.1,1158 904.6,1158.1 906.1,1158.1 907.6,1158.1 909.1,1158.1 910.6,1158.2 912.1,1158.2 913.6,1158.2 915.1,1158.2 916.6,1158.3 918.1,1158.3 919.6,1158.3 921.1,1158.3 922.6,1158.4 924.1,1158.4 925.6,1158.4 927.1,1158.4 928.6,1158.4 930.1,1158.5 931.6,1158.5 933.1,1158.5 934.6,1158.5 936.1,1158.5 937.6,1158.6 939.1,1158.6 940.6,1158.6 942.1,1158.6 943.6,1158.6 945.1,1158.6 946.6,1158.6 948.1,1158.7 949.6,1158.7 951.1,1158.7 952.6,1158.7 954.1,1158.7 955.6,1158.7 957.1,1158.7 958.6,1158.7 960.1,1158.7 961.6,1158.8 963.1,1158.8 964.6,1158.8 966.1,1158.8 967.6,1158.8 969.1,1158.8 970.6,1158.8 972.1,1158.8" fill="none" stroke="#7b0d86" stroke-width="3.0" stroke-linejoin="round" stroke-linecap="round"/>
<polyline points="118.6,1070.9 120.1,1071 121.6,1071.1 123.1,1071.2 124.6,1071.3 126.1,1071.4 127.6,1071.5 129.1,1071.6 130.6,1071.7 132.1,1071.8 133.6,1071.9 135.1,1072 136.6,1072.1 138.1,1072.2 139.6,1072.3 141.1,1072.4 142.6,1072.4 144.1,1072.5 145.6,1072.6 147.1,1072.7 148.6,1072.8 150.1,1072.9 151.6,1072.9 153.1,1073 154.6,1073.1 156.1,1073.2 157.6,1073.2 159.1,1073.3 160.6,1073.4 162.1,1073.4 163.6,1073.5 165.1,1073.5 166.6,1073.6 168.1,1073.7 169.6,1073.7 171.1,1073.8 172.6,1073.8 174.1,1073.9 175.6,1073.9 177.1,1074 178.6,1074 180.1,1074.1 181.6,1074.1 183.1,1074.2 184.6,1074.2 186.1,1074.3 187.6,1074.3 189.1,1074.4 190.6,1074.4 192.1,1074.5 193.6,1074.5 195.1,1074.6 196.6,1074.6 198.1,1074.7 199.6,1074.7 201.1,1074.7 202.6,1074.8 204.1,1074.8 205.6,1074.8 207.1,1074.9 208.6,1074.9 210.1,1074.9 211.6,1075 213.1,1075 214.6,1075 216.1,1075 217.6,1075.1 219.1,1075.1 220.6,1075.1 222.1,1075.1 223.6,1075.1 225.1,1075.1 226.6,1075.1 228.1,1075.1 229.6,1075.1 231.1,1075.1 232.6,1075 234.1,1075 235.6,1074.9 237.1,1074.9 238.6,1074.8 240.1,1074.8 241.6,1074.7 243.1,1074.6 244.6,1074.5 246.1,1074.5 247.6,1074.4 249.1,1074.3 250.6,1074.2 252.1,1074.1 253.6,1074 255.1,1073.9 256.6,1073.7 258.1,1073.6 259.6,1073.5 261.1,1073.4 262.6,1073.2 264.1,1073.1 265.6,1073 267.1,1072.8 268.6,1072.7 270.1,1072.6 271.6,1072.4 273.1,1072.3 274.6,1072.1 276.1,1072 277.6,1071.9 279.1,1071.7 280.6,1071.6 282.1,1071.4 283.6,1071.3 285.1,1071.1 286.6,1071 288.1,1070.8 289.6,1070.6 291.1,1070.4 292.6,1070.2 294.1,1070 295.6,1069.7 297.1,1069.5 298.6,1069.3 300.1,1069 301.6,1068.8 303.1,1068.5 304.6,1068.2 306.1,1068 307.6,1067.7 309.1,1067.4 310.6,1067.1 312.1,1066.9 313.6,1066.6 315.1,1066.3 316.6,1066 318.1,1065.7 319.6,1065.4 321.1,1065.1 322.6,1064.8 324.1,1064.5 325.6,1064.2 327.1,1063.9 328.6,1063.7 330.1,1063.3 331.6,1063 333.1,1062.7 334.6,1062.4 336.1,1062.1 337.6,1061.8 339.1,1061.4 340.6,1061.1 342.1,1060.8 343.6,1060.4 345.1,1060.1 346.6,1059.7 348.1,1059.4 349.6,1059 351.1,1058.6 352.6,1058.3 354.1,1057.9 355.6,1057.5 357.1,1057.2 358.6,1056.8 360.1,1056.4 361.6,1056 363.1,1055.6 364.6,1055.2 366.1,1054.8 367.6,1054.4 369.1,1053.9 370.6,1053.5 372.1,1053.1 373.6,1052.6 375.1,1052.2 376.6,1051.7 378.1,1051.2 379.6,1050.7 381.1,1050.3 382.6,1049.8 384.1,1049.3 385.6,1048.8 387.1,1048.3 388.6,1047.7 390.1,1047.2 391.6,1046.7 393.1,1046.2 394.6,1045.7 396.1,1045.1 397.6,1044.6 399.1,1044.1 400.6,1043.5 402.1,1043 403.6,1042.5 405.1,1041.9 406.6,1041.4 408.1,1040.9 409.6,1040.4 411.1,1039.8 412.6,1039.3 414.1,1038.8 415.6,1038.2 417.1,1037.7 418.6,1037.1 420.1,1036.6 421.6,1036 423.1,1035.5 424.6,1034.9 426.1,1034.4 427.6,1033.8 429.1,1033.2 430.6,1032.7 432.1,1032.1 433.6,1031.5 435.1,1031 436.6,1030.4 438.1,1029.8 439.6,1029.3 441.1,1028.7 442.6,1028.2 444.1,1027.6 445.6,1027.1 447.1,1026.5 448.6,1026 450.1,1025.4 451.6,1024.9 453.1,1024.3 454.6,1023.8 456.1,1023.3 457.6,1022.7 459.1,1022.2 460.6,1021.7 462.1,1021.1 463.6,1020.6 465.1,1020.1 466.6,1019.6 468.1,1019 469.6,1018.5 471.1,1018 472.6,1017.5 474.1,1017 475.6,1016.5 477.1,1016 478.6,1015.6 480.1,1015.1 481.6,1014.6 483.1,1014.1 484.6,1013.6 486.1,1013.1 487.6,1012.7 489.1,1012.2 490.6,1011.7 492.1,1011.3 493.6,1010.8 495.1,1010.3 496.6,1009.8 498.1,1009.3 499.6,1008.8 501.1,1008.3 502.6,1007.8 504.1,1007.2 505.6,1006.7 507.1,1006.2 508.6,1005.7 510.1,1005.2 511.6,1004.7 513.1,1004.2 514.6,1003.7 516.1,1003.3 517.6,1002.9 519.1,1002.5 520.6,1002.2 522.1,1001.9 523.6,1001.6 525.1,1001.4 526.6,1001.2 528.1,1001 529.6,1000.8 531.1,1000.6 532.6,1000.4 534.1,1000.2 535.6,1000.1 537.1,999.9 538.6,999.8 540.1,999.8 541.6,999.7 543.1,999.7 544.6,999.7 546.1,999.7 547.6,999.7 549.1,999.8 550.6,999.8 552.1,999.9 553.6,999.9 555.1,1000 556.6,1000.1 558.1,1000.1 559.6,1000.2 561.1,1000.3 562.6,1000.4 564.1,1000.5 565.6,1000.6 567.1,1000.7 568.6,1000.9 570.1,1001.2 571.6,1001.5 573.1,1002 574.6,1002.4 576.1,1003 577.6,1003.6 579.1,1004.2 580.6,1004.9 582.1,1005.6 583.6,1006.2 585.1,1006.9 586.6,1007.7 588.1,1008.6 589.6,1009.5 591.1,1010.5 592.6,1011.6 594.1,1012.8 595.6,1014 597.1,1015.2 598.6,1016.5 600.1,1017.7 601.6,1019 603.1,1020.3 604.6,1021.6 606.1,1022.9 607.6,1024.3 609.1,1025.7 610.6,1027.1 612.1,1028.6 613.6,1030.1 615.1,1031.6 616.6,1033.2 618.1,1034.8 619.6,1036.5 621.1,1038.2 622.6,1039.9 624.1,1041.7 625.6,1043.6 627.1,1045.6 628.6,1047.5 630.1,1049.6 631.6,1051.6 633.1,1053.7 634.6,1055.8 636.1,1058 637.6,1060.1 639.1,1062.2 640.6,1064.3 642.1,1066.4 643.6,1068.5 645.1,1070.7 646.6,1072.8 648.1,1075 649.6,1077.2 651.1,1079.4 652.6,1081.6 654.1,1083.9 655.6,1086.1 657.1,1088.4 658.6,1090.8 660.1,1093.3 661.6,1095.9 663.1,1098.6 664.6,1101.2 666.1,1103.6 667.6,1105.9 669.1,1107.9 670.6,1109.6 672.1,1111.1 673.6,1112.6 675.1,1113.9 676.6,1115.2 678.1,1116.4 679.6,1117.6 681.1,1118.7 682.6,1119.8 684.1,1120.9 685.6,1122 687.1,1123 688.6,1124.1 690.1,1125.2 691.6,1126.4 693.1,1127.5 694.6,1128.7 696.1,1129.9 697.6,1131 699.1,1132.2 700.6,1133.3 702.1,1134.4 703.6,1135.4 705.1,1136.4 706.6,1137.3 708.1,1138.2 709.6,1138.9 711.1,1139.6 712.6,1140.3 714.1,1140.9 715.6,1141.4 717.1,1141.9 718.6,1142.4 720.1,1142.9 721.6,1143.4 723.1,1143.8 724.6,1144.2 726.1,1144.6 727.6,1145 729.1,1145.4 730.6,1145.8 732.1,1146.1 733.6,1146.5 735.1,1146.8 736.6,1147.2 738.1,1147.5 739.6,1147.8 741.1,1148.1 742.6,1148.4 744.1,1148.7 745.6,1149 747.1,1149.3 748.6,1149.5 750.1,1149.8 751.6,1150 753.1,1150.3 754.6,1150.5 756.1,1150.7 757.6,1150.9 759.1,1151.1 760.6,1151.3 762.1,1151.5 763.6,1151.7 765.1,1151.9 766.6,1152.1 768.1,1152.2 769.6,1152.4 771.1,1152.6 772.6,1152.8 774.1,1152.9 775.6,1153.1 777.1,1153.2 778.6,1153.4 780.1,1153.5 781.6,1153.7 783.1,1153.8 784.6,1153.9 786.1,1154 787.6,1154.1 789.1,1154.3 790.6,1154.4 792.1,1154.5 793.6,1154.5 795.1,1154.6 796.6,1154.7 798.1,1154.8 799.6,1154.9 801.1,1154.9 802.6,1155 804.1,1155.1 805.6,1155.1 807.1,1155.2 808.6,1155.3 810.1,1155.3 811.6,1155.4 813.1,1155.5 814.6,1155.5 816.1,1155.6 817.6,1155.7 819.1,1155.7 820.6,1155.8 822.1,1155.8 823.6,1155.9 825.1,1155.9 826.6,1156 828.1,1156 829.6,1156.1 831.1,1156.1 832.6,1156.2 834.1,1156.2 835.6,1156.3 837.1,1156.3 838.6,1156.4 840.1,1156.4 841.6,1156.5 843.1,1156.5 844.6,1156.5 846.1,1156.6 847.6,1156.6 849.1,1156.7 850.6,1156.7 852.1,1156.7 853.6,1156.8 855.1,1156.8 856.6,1156.8 858.1,1156.9 859.6,1156.9 861.1,1156.9 862.6,1157 864.1,1157 865.6,1157 867.1,1157.1 868.6,1157.1 870.1,1157.1 871.6,1157.2 873.1,1157.2 874.6,1157.2 876.1,1157.3 877.6,1157.3 879.1,1157.3 880.6,1157.3 882.1,1157.4 883.6,1157.4 885.1,1157.4 886.6,1157.4 888.1,1157.5 889.6,1157.5 891.1,1157.5 892.6,1157.6 894.1,1157.6 895.6,1157.6 897.1,1157.6 898.6,1157.7 900.1,1157.7 901.6,1157.7 903.1,1157.7 904.6,1157.8 906.1,1157.8 907.6,1157.8 909.1,1157.8 910.6,1157.9 912.1,1157.9 913.6,1157.9 915.1,1157.9 916.6,1158 918.1,1158 919.6,1158 921.1,1158 922.6,1158.1 924.1,1158.1 925.6,1158.1 927.1,1158.1 928.6,1158.1 930.1,1158.2 931.6,1158.2 933.1,1158.2 934.6,1158.2 936.1,1158.2 937.6,1158.3 939.1,1158.3 940.6,1158.3 942.1,1158.3 943.6,1158.3 945.1,1158.3 946.6,1158.3 948.1,1158.4 949.6,1158.4 951.1,1158.4 952.6,1158.4 954.1,1158.4 955.6,1158.4 957.1,1158.4 958.6,1158.4 960.1,1158.4 961.6,1158.5 963.1,1158.5 964.6,1158.5 966.1,1158.5 967.6,1158.5 969.1,1158.5 970.6,1158.5 972.1,1158.5 973,1158.5" fill="none" stroke="#f28a1e" stroke-width="3.4" stroke-linejoin="round" stroke-linecap="round"/>
<polyline points="118.6,1394.2 122.9,1396.6 127.2,1398 131.5,1398.2 135.8,1398.6 140.1,1398.3 144.4,1397.8 148.7,1400.2 153,1399.1 157.3,1401 161.6,1401.8 165.9,1400.2 170.2,1400.3 174.5,1402.2 178.8,1401.5 183.1,1399.9 187.4,1399.8 191.7,1400 196,1402.4 200.3,1402.2 204.6,1400.1 208.9,1402.4 213.2,1402.9 217.5,1401.9 221.8,1400.9 226.1,1401.6 230.4,1400.2 234.7,1399.7 239,1402.6 243.3,1401.4 247.6,1400.8 251.9,1401.8 256.2,1399.9 260.5,1401 264.8,1400.5 269.1,1398.1 273.4,1397.9 277.7,1397.6 282,1397 286.3,1397.7 290.6,1396.1 294.9,1396 299.2,1394.4 303.5,1396.2 307.8,1393.6 312.1,1393.1 316.4,1392.7 320.7,1392.8 325,1390.4 329.3,1391.1 333.6,1388.8 337.9,1387.8 342.2,1386.7 346.5,1384 350.8,1384.1 355.1,1382.1 359.4,1380.2 363.7,1381.4 368,1378.1 372.3,1377.5 376.6,1376.7 380.9,1374.5 385.2,1372 389.5,1370.8 393.8,1369 398.1,1368 402.4,1364 406.7,1363.8 411,1361.1 415.3,1359.7 419.6,1359.7 423.9,1357.4 428.2,1356.1 432.5,1355.2 436.8,1354.3 441.1,1351.3 445.4,1350.4 449.7,1348.6 454,1347.2 458.3,1346.3 462.6,1344.2 466.9,1343 471.2,1341.3 475.5,1341.2 479.8,1338.8 484.1,1337.6 488.4,1336.1 492.7,1332.3 497,1331.7 501.3,1331.4 505.6,1329.7 509.9,1326.2 514.2,1325 518.5,1324.9 522.8,1322.7 527.1,1322.3 531.4,1321 535.7,1321.9 540,1321.5 544.3,1321.3 548.6,1319 552.9,1321.1 557.2,1321.5 561.5,1320.5 565.8,1323.7 570.1,1325.2 574.4,1324.4 578.7,1328.6 583,1329 587.3,1332 591.6,1336.7 595.9,1339.6 600.2,1341 604.5,1345.9 608.8,1350.5 613.1,1354.6 617.4,1359.1 621.7,1364.9 626,1372.1 630.3,1375.8 634.6,1383.6 638.9,1389.5 643.2,1394.6 647.5,1402 651.8,1409.1 656.1,1414.7 660.4,1419.1 664.7,1427.6 669,1432.3 673.3,1438.1 677.6,1440.1 681.9,1444.7 686.2,1447.8 690.5,1453.7 694.8,1455.4 699.1,1457.9 703.4,1461.4 707.7,1465.4 712,1467.2 716.3,1467.5 720.6,1468.9 724.9,1473 729.2,1473.4 733.5,1475.1 737.8,1474.4 742.1,1475.5 746.4,1478.7 750.7,1478.9 755,1478.7 759.3,1482.3 763.6,1482.1 767.9,1483.2 772.2,1481.4 776.5,1484.3 780.8,1482.3 785.1,1485.2 789.4,1484.3 793.7,1484.3 798,1485.3 802.3,1486.8 806.6,1485 810.9,1484.8 815.2,1486.2 819.5,1485.4 823.8,1485.1 828.1,1485.4 832.4,1485.1 836.7,1485.7 841,1486.1 845.3,1486.2 849.6,1487.7 853.9,1486.3 858.2,1487.1 862.5,1486.1 866.8,1486.7 871.1,1485.7 875.4,1486.6 879.7,1485.9 884,1488.2 888.3,1487.7 892.6,1486.6 896.9,1487.6 901.2,1489.1 905.5,1486.5 909.8,1488.8 914.1,1487.6 918.4,1487.8 922.7,1489 927,1487.6 931.3,1488 935.6,1488.6 939.9,1489.6 944.2,1487.5 948.5,1489.1 952.8,1488.7 957.1,1488.5 961.4,1487.8 965.7,1487.6 970,1486.7 973,1486.9" fill="none" stroke="#000" stroke-width="3.6" stroke-linejoin="round" stroke-linecap="round"/>
<polyline points="118.6,1396.4 120.1,1396.6 121.6,1396.8 123.1,1397 124.6,1397.2 126.1,1397.4 127.6,1397.7 129.1,1397.9 130.6,1398.1 132.1,1398.3 133.6,1398.4 135.1,1398.6 136.6,1398.8 138.1,1399 139.6,1399.2 141.1,1399.4 142.6,1399.5 144.1,1399.7 145.6,1399.9 147.1,1400 148.6,1400.2 150.1,1400.3 151.6,1400.4 153.1,1400.6 154.6,1400.7 156.1,1400.8 157.6,1400.9 159.1,1401 160.6,1401.1 162.1,1401.2 163.6,1401.3 165.1,1401.4 166.6,1401.4 168.1,1401.5 169.6,1401.5 171.1,1401.5 172.6,1401.6 174.1,1401.6 175.6,1401.7 177.1,1401.7 178.6,1401.7 180.1,1401.8 181.6,1401.8 183.1,1401.8 184.6,1401.8 186.1,1401.9 187.6,1401.9 189.1,1401.9 190.6,1402 192.1,1402 193.6,1402 195.1,1402 196.6,1402.1 198.1,1402.1 199.6,1402.1 201.1,1402.1 202.6,1402.1 204.1,1402.2 205.6,1402.2 207.1,1402.2 208.6,1402.2 210.1,1402.2 211.6,1402.2 213.1,1402.3 214.6,1402.3 216.1,1402.3 217.6,1402.3 219.1,1402.3 220.6,1402.3 222.1,1402.3 223.6,1402.3 225.1,1402.3 226.6,1402.3 228.1,1402.3 229.6,1402.3 231.1,1402.3 232.6,1402.2 234.1,1402.2 235.6,1402.1 237.1,1402.1 238.6,1402 240.1,1402 241.6,1401.9 243.1,1401.8 244.6,1401.8 246.1,1401.7 247.6,1401.6 249.1,1401.5 250.6,1401.4 252.1,1401.3 253.6,1401.2 255.1,1401.1 256.6,1401 258.1,1400.9 259.6,1400.8 261.1,1400.7 262.6,1400.7 264.1,1400.7 265.6,1400.8 267.1,1400.8 268.6,1400.8 270.1,1400.8 271.6,1400.9 273.1,1400.9 274.6,1400.9 276.1,1400.9 277.6,1400.9 279.1,1400.9 280.6,1400.9 282.1,1400.9 283.6,1400.9 285.1,1400.9 286.6,1400.9 288.1,1401 289.6,1401 291.1,1401 292.6,1401 294.1,1400.9 295.6,1400.9 297.1,1400.9 298.6,1400.9 300.1,1400.9 301.6,1400.9 303.1,1400.9 304.6,1400.9 306.1,1400.9 307.6,1400.9 309.1,1400.9 310.6,1400.8 312.1,1400.8 313.6,1400.8 315.1,1400.8 316.6,1400.8 318.1,1400.7 319.6,1400.7 321.1,1400.7 322.6,1400.7 324.1,1400.6 325.6,1400.6 327.1,1400.6 328.6,1400.6 330.1,1400.5 331.6,1400.5 333.1,1400.4 334.6,1400.4 336.1,1400.4 337.6,1400.3 339.1,1400.3 340.6,1400.3 342.1,1400.2 343.6,1400.2 345.1,1400.1 346.6,1400.1 348.1,1400 349.6,1400 351.1,1399.9 352.6,1399.9 354.1,1399.8 355.6,1399.8 357.1,1399.7 358.6,1399.7 360.1,1399.6 361.6,1399.6 363.1,1399.5 364.6,1399.4 366.1,1399.4 367.6,1399.3 369.1,1399.2 370.6,1399.1 372.1,1399 373.6,1398.9 375.1,1398.8 376.6,1398.7 378.1,1398.6 379.6,1398.4 381.1,1398.3 382.6,1398.2 384.1,1398 385.6,1397.9 387.1,1397.7 388.6,1397.5 390.1,1397.3 391.6,1397.1 393.1,1396.9 394.6,1396.7 396.1,1396.5 397.6,1396.3 399.1,1396.1 400.6,1395.8 402.1,1395.6 403.6,1395.3 405.1,1395.1 406.6,1394.8 408.1,1394.5 409.6,1394.2 411.1,1393.9 412.6,1393.6 414.1,1393.3 415.6,1393 417.1,1392.6 418.6,1392.3 420.1,1391.9 421.6,1391.5 423.1,1391.1 424.6,1390.7 426.1,1390.3 427.6,1389.9 429.1,1389.5 430.6,1389 432.1,1388.5 433.6,1388 435.1,1387.5 436.6,1387 438.1,1386.5 439.6,1385.9 441.1,1385.4 442.6,1384.8 444.1,1384.2 445.6,1383.6 447.1,1382.9 448.6,1382.3 450.1,1381.6 451.6,1380.9 453.1,1380.2 454.6,1379.5 456.1,1378.8 457.6,1378 459.1,1377.2 460.6,1376.5 462.1,1375.7 463.6,1374.8 465.1,1374 466.6,1373.2 468.1,1372.4 469.6,1371.5 471.1,1370.7 472.6,1369.8 474.1,1368.9 475.6,1368.1 477.1,1367.2 478.6,1366.3 480.1,1365.5 481.6,1364.6 483.1,1363.7 484.6,1362.9 486.1,1362 487.6,1361.2 489.1,1360.3 490.6,1359.4 492.1,1358.6 493.6,1357.8 495.1,1356.9 496.6,1356.1 498.1,1355.3 499.6,1354.4 501.1,1353.6 502.6,1352.8 504.1,1352 505.6,1351.2 507.1,1350.4 508.6,1349.6 510.1,1348.8 511.6,1348 513.1,1347.2 514.6,1346.5 516.1,1345.7 517.6,1345 519.1,1344.3 520.6,1343.6 522.1,1342.9 523.6,1342.2 525.1,1341.5 526.6,1340.9 528.1,1340.2 529.6,1339.6 531.1,1339 532.6,1338.5 534.1,1337.9 535.6,1337.4 537.1,1336.9 538.6,1336.4 540.1,1336 541.6,1335.5 543.1,1335.1 544.6,1334.8 546.1,1334.4 547.6,1334.1 549.1,1333.8 550.6,1333.5 552.1,1333.3 553.6,1333.1 555.1,1332.9 556.6,1332.7 558.1,1332.6 559.6,1332.5 561.1,1332.5 562.6,1332.5 564.1,1332.5 565.6,1332.5 567.1,1332.6 568.6,1332.8 570.1,1332.9 571.6,1333.1 573.1,1333.4 574.6,1333.7 576.1,1334 577.6,1334.4 579.1,1334.8 580.6,1335.2 582.1,1335.7 583.6,1336.2 585.1,1336.8 586.6,1337.4 588.1,1338.1 589.6,1338.9 591.1,1339.8 592.6,1340.7 594.1,1341.7 595.6,1342.8 597.1,1343.9 598.6,1345.1 600.1,1346.4 601.6,1347.7 603.1,1349.1 604.6,1350.6 606.1,1352.1 607.6,1353.6 609.1,1355.3 610.6,1357 612.1,1358.7 613.6,1360.4 615.1,1362.3 616.6,1364.1 618.1,1366 619.6,1367.9 621.1,1369.8 622.6,1371.8 624.1,1373.8 625.6,1375.8 627.1,1377.8 628.6,1379.8 630.1,1381.8 631.6,1383.9 633.1,1385.9 634.6,1388 636.1,1390 637.6,1392.1 639.1,1394.1 640.6,1396.1 642.1,1398.2 643.6,1400.2 645.1,1402.2 646.6,1404.2 648.1,1406.2 649.6,1408.2 651.1,1410.2 652.6,1412.1 654.1,1414.1 655.6,1416 657.1,1417.9 658.6,1419.8 660.1,1421.7 661.6,1423.5 663.1,1425.3 664.6,1427.1 666.1,1428.9 667.6,1430.6 669.1,1432.4 670.6,1434.3 672.1,1436.1 673.6,1437.8 675.1,1439.5 676.6,1441.2 678.1,1442.7 679.6,1444.2 681.1,1445.6 682.6,1447 684.1,1448.3 685.6,1449.6 687.1,1450.9 688.6,1452.2 690.1,1453.4 691.6,1454.6 693.1,1455.8 694.6,1456.9 696.1,1458 697.6,1459 699.1,1460 700.6,1460.9 702.1,1461.8 703.6,1462.7 705.1,1463.7 706.6,1464.6 708.1,1465.5 709.6,1466.3 711.1,1467.1 712.6,1467.9 714.1,1468.7 715.6,1469.4 717.1,1470.2 718.6,1470.9 720.1,1471.5 721.6,1472.2 723.1,1472.8 724.6,1473.4 726.1,1473.9 727.6,1474.5 729.1,1475 730.6,1475.5 732.1,1476 733.6,1476.4 735.1,1476.9 736.6,1477.3 738.1,1477.7 739.6,1478.1 741.1,1478.5 742.6,1478.8 744.1,1479.1 745.6,1479.5 747.1,1479.8 748.6,1480.1 750.1,1480.3 751.6,1480.6 753.1,1480.9 754.6,1481.1 756.1,1481.3 757.6,1481.6 759.1,1481.8 760.6,1482 762.1,1482.3 763.6,1482.5 765.1,1482.8 766.6,1483 768.1,1483.2 769.6,1483.3 771.1,1483.5 772.6,1483.7 774.1,1483.8 775.6,1484 777.1,1484.2 778.6,1484.3 780.1,1484.5 781.6,1484.6 783.1,1484.8 784.6,1484.9 786.1,1485.1 787.6,1485.2 789.1,1485.3 790.6,1485.5 792.1,1485.6 793.6,1485.7 795.1,1485.9 796.6,1486 798.1,1486.1 799.6,1486.2 801.1,1486.3 802.6,1486.4 804.1,1486.5 805.6,1486.6 807.1,1486.7 808.6,1486.7 810.1,1486.8 811.6,1486.9 813.1,1486.9 814.6,1487 816.1,1487.1 817.6,1487.1 819.1,1487.2 820.6,1487.2 822.1,1487.2 823.6,1487.3 825.1,1487.3 826.6,1487.3 828.1,1487.4 829.6,1487.4 831.1,1487.4 832.6,1487.5 834.1,1487.5 835.6,1487.5 837.1,1487.6 838.6,1487.6 840.1,1487.6 841.6,1487.7 843.1,1487.7 844.6,1487.7 846.1,1487.7 847.6,1487.8 849.1,1487.8 850.6,1487.8 852.1,1487.9 853.6,1487.9 855.1,1487.9 856.6,1487.9 858.1,1488 859.6,1488 861.1,1488 862.6,1488 864.1,1488.1 865.6,1488.1 867.1,1488.1 868.6,1488.1 870.1,1488.2 871.6,1488.2 873.1,1488.2 874.6,1488.2 876.1,1488.3 877.6,1488.3 879.1,1488.3 880.6,1488.3 882.1,1488.3 883.6,1488.4 885.1,1488.4 886.6,1488.4 888.1,1488.4 889.6,1488.5 891.1,1488.5 892.6,1488.5 894.1,1488.5 895.6,1488.5 897.1,1488.5 898.6,1488.6 900.1,1488.6 901.6,1488.6 903.1,1488.6 904.6,1488.6 906.1,1488.6 907.6,1488.7 909.1,1488.7 910.6,1488.7 912.1,1488.7 913.6,1488.7 915.1,1488.7 916.6,1488.7 918.1,1488.8 919.6,1488.8 921.1,1488.8 922.6,1488.8 924.1,1488.8 925.6,1488.8 927.1,1488.8 928.6,1488.8 930.1,1488.9 931.6,1488.9 933.1,1488.9 934.6,1488.9 936.1,1488.9 937.6,1488.9 939.1,1488.9 940.6,1488.9 942.1,1488.9 943.6,1488.9 945.1,1488.9 946.6,1488.9 948.1,1489 949.6,1489 951.1,1489 952.6,1489 954.1,1489 955.6,1489 957.1,1489 958.6,1489 960.1,1489 961.6,1489 963.1,1489 964.6,1489 966.1,1489 967.6,1489 969.1,1489 970.6,1489 972.1,1489" fill="none" stroke="#1414d8" stroke-width="3.0" stroke-linejoin="round" stroke-linecap="round"/>
<polyline points="118.6,1396.4 120.1,1396.6 121.6,1396.8 123.1,1397 124.6,1397.2 126.1,1397.4 127.6,1397.7 129.1,1397.9 130.6,1398.1 132.1,1398.3 133.6,1398.4 135.1,1398.6 136.6,1398.8 138.1,1399 139.6,1399.2 141.1,1399.4 142.6,1399.5 144.1,1399.7 145.6,1399.9 147.1,1400 148.6,1400.2 150.1,1400.3 151.6,1400.4 153.1,1400.6 154.6,1400.7 156.1,1400.8 157.6,1400.9 159.1,1401 160.6,1401.1 162.1,1401.2 163.6,1401.3 165.1,1401.4 166.6,1401.4 168.1,1401.5 169.6,1401.5 171.1,1401.5 172.6,1401.6 174.1,1401.6 175.6,1401.7 177.1,1401.7 178.6,1401.7 180.1,1401.8 181.6,1401.8 183.1,1401.8 184.6,1401.8 186.1,1401.9 187.6,1401.9 189.1,1401.9 190.6,1402 192.1,1402 193.6,1402 195.1,1402 196.6,1402.1 198.1,1402.1 199.6,1402.1 201.1,1402.1 202.6,1402.1 204.1,1402.2 205.6,1402.2 207.1,1402.2 208.6,1402.2 210.1,1402.2 211.6,1402.2 213.1,1402.3 214.6,1402.3 216.1,1402.3 217.6,1402.3 219.1,1402.3 220.6,1402.3 222.1,1402.3 223.6,1402.3 225.1,1402.3 226.6,1402.3 228.1,1402.3 229.6,1402.3 231.1,1402.3 232.6,1402.2 234.1,1402.2 235.6,1402.1 237.1,1402.1 238.6,1402 240.1,1402 241.6,1402.1 243.1,1402.2 244.6,1402.2 246.1,1402.3 247.6,1402.3 249.1,1402.4 250.6,1402.5 252.1,1402.5 253.6,1402.6 255.1,1402.6 256.6,1402.7 258.1,1402.7 259.6,1402.8 261.1,1402.8 262.6,1402.9 264.1,1402.9 265.6,1403 267.1,1403 268.6,1403.1 270.1,1403.1 271.6,1403.2 273.1,1403.2 274.6,1403.3 276.1,1403.3 277.6,1403.3 279.1,1403.4 280.6,1403.4 282.1,1403.5 283.6,1403.5 285.1,1403.6 286.6,1403.6 288.1,1403.6 289.6,1403.7 291.1,1403.7 292.6,1403.8 294.1,1403.8 295.6,1403.8 297.1,1403.9 298.6,1403.9 300.1,1404 301.6,1404 303.1,1404.1 304.6,1404.1 306.1,1404.1 307.6,1404.2 309.1,1404.2 310.6,1404.3 312.1,1404.3 313.6,1404.4 315.1,1404.4 316.6,1404.5 318.1,1404.5 319.6,1404.6 321.1,1404.6 322.6,1404.7 324.1,1404.8 325.6,1404.8 327.1,1404.9 328.6,1404.9 330.1,1405 331.6,1405.1 333.1,1405.2 334.6,1405.2 336.1,1405.3 337.6,1405.4 339.1,1405.5 340.6,1405.5 342.1,1405.6 343.6,1405.7 345.1,1405.8 346.6,1405.9 348.1,1406 349.6,1406.2 351.1,1406.3 352.6,1406.4 354.1,1406.5 355.6,1406.6 357.1,1406.8 358.6,1406.9 360.1,1407 361.6,1407.2 363.1,1407.3 364.6,1407.5 366.1,1407.6 367.6,1407.8 369.1,1408 370.6,1408.1 372.1,1408.3 373.6,1408.5 375.1,1408.6 376.6,1408.8 378.1,1409 379.6,1409.2 381.1,1409.3 382.6,1409.5 384.1,1409.7 385.6,1409.9 387.1,1410.1 388.6,1410.3 390.1,1410.5 391.6,1410.6 393.1,1410.8 394.6,1411 396.1,1411.2 397.6,1411.5 399.1,1411.7 400.6,1411.9 402.1,1412.1 403.6,1412.3 405.1,1412.6 406.6,1412.8 408.1,1413 409.6,1413.3 411.1,1413.5 412.6,1413.8 414.1,1414 415.6,1414.3 417.1,1414.6 418.6,1414.8 420.1,1415.1 421.6,1415.4 423.1,1415.6 424.6,1415.9 426.1,1416.2 427.6,1416.5 429.1,1416.8 430.6,1417 432.1,1417.3 433.6,1417.6 435.1,1417.9 436.6,1418.2 438.1,1418.5 439.6,1418.7 441.1,1419 442.6,1419.3 444.1,1419.6 445.6,1419.8 447.1,1420.1 448.6,1420.4 450.1,1420.7 451.6,1420.9 453.1,1421.2 454.6,1421.4 456.1,1421.7 457.6,1422 459.1,1422.2 460.6,1422.5 462.1,1422.7 463.6,1423 465.1,1423.3 466.6,1423.5 468.1,1423.8 469.6,1424.1 471.1,1424.3 472.6,1424.6 474.1,1424.9 475.6,1425.2 477.1,1425.5 478.6,1425.9 480.1,1426.2 481.6,1426.5 483.1,1426.9 484.6,1427.2 486.1,1427.6 487.6,1428 489.1,1428.4 490.6,1428.7 492.1,1429.2 493.6,1429.6 495.1,1430 496.6,1430.4 498.1,1430.9 499.6,1431.3 501.1,1431.8 502.6,1432.2 504.1,1432.7 505.6,1433.1 507.1,1433.6 508.6,1434.1 510.1,1434.6 511.6,1435 513.1,1435.5 514.6,1436 516.1,1436.5 517.6,1437 519.1,1437.5 520.6,1438 522.1,1438.5 523.6,1439 525.1,1439.5 526.6,1440 528.1,1440.6 529.6,1441.1 531.1,1441.6 532.6,1442.2 534.1,1442.7 535.6,1443.3 537.1,1443.8 538.6,1444.4 540.1,1444.9 541.6,1445.5 543.1,1446 544.6,1446.6 546.1,1447.1 547.6,1447.7 549.1,1448.2 550.6,1448.8 552.1,1449.4 553.6,1449.9 555.1,1450.5 556.6,1451 558.1,1451.6 559.6,1452.1 561.1,1452.7 562.6,1453.2 564.1,1453.8 565.6,1454.3 567.1,1454.9 568.6,1455.4 570.1,1456 571.6,1456.5 573.1,1457.1 574.6,1457.6 576.1,1458.2 577.6,1458.7 579.1,1459.3 580.6,1459.8 582.1,1460.3 583.6,1460.9 585.1,1461.4 586.6,1461.9 588.1,1462.5 589.6,1463 591.1,1463.5 592.6,1464 594.1,1464.6 595.6,1465.1 597.1,1465.6 598.6,1466.1 600.1,1466.6 601.6,1467.1 603.1,1467.6 604.6,1468.1 606.1,1468.6 607.6,1469.1 609.1,1469.6 610.6,1470.1 612.1,1470.6 613.6,1471.1 615.1,1471.5 616.6,1472 618.1,1472.5 619.6,1472.9 621.1,1473.4 622.6,1473.8 624.1,1474.3 625.6,1474.7 627.1,1475.1 628.6,1475.5 630.1,1475.9 631.6,1476.2 633.1,1476.6 634.6,1476.9 636.1,1477.3 637.6,1477.6 639.1,1477.9 640.6,1478.2 642.1,1478.5 643.6,1478.8 645.1,1479 646.6,1479.3 648.1,1479.6 649.6,1479.8 651.1,1480.1 652.6,1480.3 654.1,1480.6 655.6,1480.8 657.1,1481 658.6,1481.3 660.1,1481.5 661.6,1481.7 663.1,1481.9 664.6,1482.1 666.1,1482.3 667.6,1482.5 669.1,1482.7 670.6,1482.9 672.1,1483.1 673.6,1483.2 675.1,1483.4 676.6,1483.6 678.1,1483.7 679.6,1483.9 681.1,1484 682.6,1484.2 684.1,1484.3 685.6,1484.4 687.1,1484.5 688.6,1484.7 690.1,1484.8 691.6,1484.9 693.1,1485 694.6,1485.1 696.1,1485.2 697.6,1485.3 699.1,1485.4 700.6,1485.5 702.1,1485.5 703.6,1485.6 705.1,1485.7 706.6,1485.8 708.1,1485.9 709.6,1485.9 711.1,1486 712.6,1486.1 714.1,1486.2 715.6,1486.2 717.1,1486.3 718.6,1486.4 720.1,1486.4 721.6,1486.5 723.1,1486.6 724.6,1486.6 726.1,1486.7 727.6,1486.7 729.1,1486.8 730.6,1486.8 732.1,1486.8 733.6,1486.9 735.1,1486.9 736.6,1487 738.1,1487 739.6,1487 741.1,1487.1 742.6,1487.1 744.1,1487.1 745.6,1487.1 747.1,1487.2 748.6,1487.2 750.1,1487.2 751.6,1487.2 753.1,1487.2 754.6,1487.3 756.1,1487.3 757.6,1487.3 759.1,1487.3 760.6,1487.3 762.1,1487.4 763.6,1487.4 765.1,1487.4 766.6,1487.4 768.1,1487.4 769.6,1487.5 771.1,1487.5 772.6,1487.5 774.1,1487.5 775.6,1487.5 777.1,1487.6 778.6,1487.6 780.1,1487.6 781.6,1487.6 783.1,1487.6 784.6,1487.6 786.1,1487.7 787.6,1487.7 789.1,1487.7 790.6,1487.7 792.1,1487.7 793.6,1487.7 795.1,1487.8 796.6,1487.8 798.1,1487.8 799.6,1487.8 801.1,1487.8 802.6,1487.8 804.1,1487.8 805.6,1487.9 807.1,1487.9 808.6,1487.9 810.1,1487.9 811.6,1487.9 813.1,1487.9 814.6,1488 816.1,1488 817.6,1488 819.1,1488 820.6,1488 822.1,1488 823.6,1488 825.1,1488 826.6,1488.1 828.1,1488.1 829.6,1488.1 831.1,1488.1 832.6,1488.1 834.1,1488.1 835.6,1488.1 837.1,1488.2 838.6,1488.2 840.1,1488.2 841.6,1488.2 843.1,1488.2 844.6,1488.2 846.1,1488.2 847.6,1488.2 849.1,1488.2 850.6,1488.3 852.1,1488.3 853.6,1488.3 855.1,1488.3 856.6,1488.3 858.1,1488.3 859.6,1488.3 861.1,1488.3 862.6,1488.3 864.1,1488.3 865.6,1488.4 867.1,1488.4 868.6,1488.4 870.1,1488.4 871.6,1488.4 873.1,1488.4 874.6,1488.4 876.1,1488.4 877.6,1488.4 879.1,1488.4 880.6,1488.4 882.1,1488.5 883.6,1488.5 885.1,1488.5 886.6,1488.5 888.1,1488.5 889.6,1488.5 891.1,1488.5 892.6,1488.5 894.1,1488.5 895.6,1488.5 897.1,1488.5 898.6,1488.6 900.1,1488.6 901.6,1488.6 903.1,1488.6 904.6,1488.6 906.1,1488.6 907.6,1488.7 909.1,1488.7 910.6,1488.7 912.1,1488.7 913.6,1488.7 915.1,1488.7 916.6,1488.7 918.1,1488.8 919.6,1488.8 921.1,1488.8 922.6,1488.8 924.1,1488.8 925.6,1488.8 927.1,1488.8 928.6,1488.8 930.1,1488.9 931.6,1488.9 933.1,1488.9 934.6,1488.9 936.1,1488.9 937.6,1488.9 939.1,1488.9 940.6,1488.9 942.1,1488.9 943.6,1488.9 945.1,1488.9 946.6,1488.9 948.1,1489 949.6,1489 951.1,1489 952.6,1489 954.1,1489 955.6,1489 957.1,1489 958.6,1489 960.1,1489 961.6,1489 963.1,1489 964.6,1489 966.1,1489 967.6,1489 969.1,1489 970.6,1489 972.1,1489" fill="none" stroke="#e0141e" stroke-width="3.0" stroke-linejoin="round" stroke-linecap="round"/>
<polyline points="118.6,1396.4 120.1,1396.6 121.6,1396.8 123.1,1397 124.6,1397.2 126.1,1397.4 127.6,1397.7 129.1,1397.9 130.6,1398.1 132.1,1398.3 133.6,1398.4 135.1,1398.6 136.6,1398.8 138.1,1399 139.6,1399.2 141.1,1399.4 142.6,1399.5 144.1,1399.7 145.6,1399.9 147.1,1400 148.6,1400.2 150.1,1400.3 151.6,1400.4 153.1,1400.6 154.6,1400.7 156.1,1400.8 157.6,1400.9 159.1,1401 160.6,1401.1 162.1,1401.2 163.6,1401.3 165.1,1401.4 166.6,1401.4 168.1,1401.5 169.6,1401.5 171.1,1401.5 172.6,1401.6 174.1,1401.6 175.6,1401.7 177.1,1401.7 178.6,1401.7 180.1,1401.8 181.6,1401.8 183.1,1401.8 184.6,1401.8 186.1,1401.9 187.6,1401.9 189.1,1401.9 190.6,1402 192.1,1402 193.6,1402 195.1,1402 196.6,1402.1 198.1,1402.1 199.6,1402.1 201.1,1402.1 202.6,1402.1 204.1,1402.2 205.6,1402.2 207.1,1402.2 208.6,1402.2 210.1,1402.2 211.6,1402.2 213.1,1402.3 214.6,1402.3 216.1,1402.3 217.6,1402.3 219.1,1402.3 220.6,1402.3 222.1,1402.3 223.6,1402.3 225.1,1402.3 226.6,1402.3 228.1,1402.3 229.6,1402.3 231.1,1402.3 232.6,1402.2 234.1,1402.2 235.6,1402.1 237.1,1402.1 238.6,1402 240.1,1402 241.6,1401.9 243.1,1401.8 244.6,1401.8 246.1,1401.7 247.6,1401.6 249.1,1401.5 250.6,1401.4 252.1,1401.3 253.6,1401.2 255.1,1401.1 256.6,1401 258.1,1400.9 259.6,1400.8 261.1,1400.9 262.6,1400.9 264.1,1400.9 265.6,1400.9 267.1,1400.9 268.6,1400.9 270.1,1400.9 271.6,1400.9 273.1,1400.9 274.6,1400.9 276.1,1400.9 277.6,1400.9 279.1,1400.9 280.6,1400.9 282.1,1400.9 283.6,1400.9 285.1,1400.9 286.6,1400.9 288.1,1400.8 289.6,1400.8 291.1,1400.8 292.6,1400.8 294.1,1400.7 295.6,1400.7 297.1,1400.7 298.6,1400.6 300.1,1400.6 301.6,1400.5 303.1,1400.5 304.6,1400.4 306.1,1400.4 307.6,1400.3 309.1,1400.2 310.6,1400.2 312.1,1400.1 313.6,1400 315.1,1400 316.6,1399.9 318.1,1399.8 319.6,1399.7 321.1,1399.6 322.6,1399.5 324.1,1399.4 325.6,1399.2 327.1,1399.1 328.6,1399 330.1,1398.9 331.6,1398.7 333.1,1398.6 334.6,1398.4 336.1,1398.3 337.6,1398.1 339.1,1397.9 340.6,1397.8 342.1,1397.6 343.6,1397.4 345.1,1397.2 346.6,1397 348.1,1396.8 349.6,1396.6 351.1,1396.3 352.6,1396.1 354.1,1395.9 355.6,1395.6 357.1,1395.4 358.6,1395.1 360.1,1394.9 361.6,1394.6 363.1,1394.3 364.6,1394 366.1,1393.7 367.6,1393.4 369.1,1393.1 370.6,1392.8 372.1,1392.4 373.6,1392.1 375.1,1391.7 376.6,1391.4 378.1,1391 379.6,1390.7 381.1,1390.3 382.6,1389.9 384.1,1389.5 385.6,1389.1 387.1,1388.7 388.6,1388.3 390.1,1387.9 391.6,1387.5 393.1,1387.1 394.6,1386.7 396.1,1386.3 397.6,1386 399.1,1385.6 400.6,1385.2 402.1,1384.8 403.6,1384.5 405.1,1384.2 406.6,1383.8 408.1,1383.5 409.6,1383.3 411.1,1383 412.6,1382.8 414.1,1382.6 415.6,1382.4 417.1,1382.3 418.6,1382.1 420.1,1382.1 421.6,1382 423.1,1382 424.6,1382 426.1,1382.1 427.6,1382.2 429.1,1382.4 430.6,1382.6 432.1,1382.8 433.6,1383.1 435.1,1383.4 436.6,1383.7 438.1,1384 439.6,1384.4 441.1,1384.8 442.6,1385.2 444.1,1385.7 445.6,1386.1 447.1,1386.6 448.6,1387.1 450.1,1387.6 451.6,1388.1 453.1,1388.7 454.6,1389.2 456.1,1389.8 457.6,1390.4 459.1,1391 460.6,1391.6 462.1,1392.3 463.6,1392.9 465.1,1393.6 466.6,1394.2 468.1,1394.9 469.6,1395.6 471.1,1396.3 472.6,1397 474.1,1397.8 475.6,1398.5 477.1,1399.3 478.6,1400 480.1,1400.8 481.6,1401.6 483.1,1402.4 484.6,1403.2 486.1,1404 487.6,1404.9 489.1,1405.7 490.6,1406.6 492.1,1407.4 493.6,1408.3 495.1,1409.2 496.6,1410 498.1,1410.9 499.6,1411.8 501.1,1412.7 502.6,1413.5 504.1,1414.4 505.6,1415.3 507.1,1416.2 508.6,1417.1 510.1,1417.9 511.6,1418.8 513.1,1419.7 514.6,1420.6 516.1,1421.4 517.6,1422.3 519.1,1423.1 520.6,1424 522.1,1424.9 523.6,1425.7 525.1,1426.6 526.6,1427.4 528.1,1428.3 529.6,1429.1 531.1,1429.9 532.6,1430.8 534.1,1431.6 535.6,1432.4 537.1,1433.3 538.6,1434.1 540.1,1434.9 541.6,1435.7 543.1,1436.5 544.6,1437.3 546.1,1438.1 547.6,1438.9 549.1,1439.7 550.6,1440.5 552.1,1441.3 553.6,1442 555.1,1442.8 556.6,1443.5 558.1,1444.3 559.6,1445 561.1,1445.8 562.6,1446.5 564.1,1447.2 565.6,1447.9 567.1,1448.6 568.6,1449.3 570.1,1450.1 571.6,1450.7 573.1,1451.4 574.6,1452.1 576.1,1452.8 577.6,1453.5 579.1,1454.2 580.6,1454.8 582.1,1455.5 583.6,1456.1 585.1,1456.8 586.6,1457.4 588.1,1458 589.6,1458.7 591.1,1459.3 592.6,1459.9 594.1,1460.5 595.6,1461.1 597.1,1461.7 598.6,1462.3 600.1,1462.9 601.6,1463.4 603.1,1464 604.6,1464.6 606.1,1465.2 607.6,1465.7 609.1,1466.3 610.6,1466.8 612.1,1467.4 613.6,1467.9 615.1,1468.5 616.6,1469 618.1,1469.5 619.6,1470 621.1,1470.5 622.6,1471 624.1,1471.5 625.6,1472 627.1,1472.4 628.6,1472.9 630.1,1473.3 631.6,1473.7 633.1,1474.1 634.6,1474.5 636.1,1474.8 637.6,1475.2 639.1,1475.5 640.6,1475.9 642.1,1476.2 643.6,1476.5 645.1,1476.8 646.6,1477.1 648.1,1477.4 649.6,1477.7 651.1,1478 652.6,1478.3 654.1,1478.5 655.6,1478.8 657.1,1479 658.6,1479.3 660.1,1479.5 661.6,1479.8 663.1,1480 664.6,1480.2 666.1,1480.5 667.6,1480.7 669.1,1480.9 670.6,1481.1 672.1,1481.3 673.6,1481.5 675.1,1481.7 676.6,1481.9 678.1,1482 679.6,1482.2 681.1,1482.4 682.6,1482.5 684.1,1482.7 685.6,1482.8 687.1,1483 688.6,1483.1 690.1,1483.2 691.6,1483.4 693.1,1483.5 694.6,1483.6 696.1,1483.7 697.6,1483.8 699.1,1483.9 700.6,1484 702.1,1484.1 703.6,1484.2 705.1,1484.3 706.6,1484.4 708.1,1484.5 709.6,1484.6 711.1,1484.7 712.6,1484.8 714.1,1484.9 715.6,1485 717.1,1485 718.6,1485.1 720.1,1485.2 721.6,1485.3 723.1,1485.3 724.6,1485.4 726.1,1485.5 727.6,1485.5 729.1,1485.6 730.6,1485.6 732.1,1485.7 733.6,1485.7 735.1,1485.8 736.6,1485.8 738.1,1485.9 739.6,1485.9 741.1,1486 742.6,1486 744.1,1486 745.6,1486.1 747.1,1486.1 748.6,1486.1 750.1,1486.2 751.6,1486.2 753.1,1486.2 754.6,1486.3 756.1,1486.3 757.6,1486.3 759.1,1486.3 760.6,1486.4 762.1,1486.4 763.6,1486.4 765.1,1486.5 766.6,1486.5 768.1,1486.5 769.6,1486.5 771.1,1486.6 772.6,1486.6 774.1,1486.6 775.6,1486.6 777.1,1486.7 778.6,1486.7 780.1,1486.7 781.6,1486.7 783.1,1486.8 784.6,1486.8 786.1,1486.8 787.6,1486.8 789.1,1486.9 790.6,1486.9 792.1,1486.9 793.6,1486.9 795.1,1487 796.6,1487 798.1,1487 799.6,1487 801.1,1487 802.6,1487.1 804.1,1487.1 805.6,1487.1 807.1,1487.1 808.6,1487.1 810.1,1487.2 811.6,1487.2 813.1,1487.2 814.6,1487.2 816.1,1487.2 817.6,1487.3 819.1,1487.3 820.6,1487.3 822.1,1487.3 823.6,1487.3 825.1,1487.4 826.6,1487.4 828.1,1487.4 829.6,1487.4 831.1,1487.4 832.6,1487.5 834.1,1487.5 835.6,1487.5 837.1,1487.6 838.6,1487.6 840.1,1487.6 841.6,1487.7 843.1,1487.7 844.6,1487.7 846.1,1487.7 847.6,1487.8 849.1,1487.8 850.6,1487.8 852.1,1487.9 853.6,1487.9 855.1,1487.9 856.6,1487.9 858.1,1488 859.6,1488 861.1,1488 862.6,1488 864.1,1488.1 865.6,1488.1 867.1,1488.1 868.6,1488.1 870.1,1488.2 871.6,1488.2 873.1,1488.2 874.6,1488.2 876.1,1488.3 877.6,1488.3 879.1,1488.3 880.6,1488.3 882.1,1488.3 883.6,1488.4 885.1,1488.4 886.6,1488.4 888.1,1488.4 889.6,1488.5 891.1,1488.5 892.6,1488.5 894.1,1488.5 895.6,1488.5 897.1,1488.5 898.6,1488.6 900.1,1488.6 901.6,1488.6 903.1,1488.6 904.6,1488.6 906.1,1488.6 907.6,1488.7 909.1,1488.7 910.6,1488.7 912.1,1488.7 913.6,1488.7 915.1,1488.7 916.6,1488.7 918.1,1488.8 919.6,1488.8 921.1,1488.8 922.6,1488.8 924.1,1488.8 925.6,1488.8 927.1,1488.8 928.6,1488.8 930.1,1488.9 931.6,1488.9 933.1,1488.9 934.6,1488.9 936.1,1488.9 937.6,1488.9 939.1,1488.9 940.6,1488.9 942.1,1488.9 943.6,1488.9 945.1,1488.9 946.6,1488.9 948.1,1489 949.6,1489 951.1,1489 952.6,1489 954.1,1489 955.6,1489 957.1,1489 958.6,1489 960.1,1489 961.6,1489 963.1,1489 964.6,1489 966.1,1489 967.6,1489 969.1,1489 970.6,1489 972.1,1489" fill="none" stroke="#7b0d86" stroke-width="3.0" stroke-linejoin="round" stroke-linecap="round"/>
<polyline points="118.6,1396.1 120.1,1396.3 121.6,1396.5 123.1,1396.7 124.6,1396.9 126.1,1397.1 127.6,1397.4 129.1,1397.6 130.6,1397.8 132.1,1398 133.6,1398.1 135.1,1398.3 136.6,1398.5 138.1,1398.7 139.6,1398.9 141.1,1399.1 142.6,1399.2 144.1,1399.4 145.6,1399.6 147.1,1399.7 148.6,1399.9 150.1,1400 151.6,1400.1 153.1,1400.3 154.6,1400.4 156.1,1400.5 157.6,1400.6 159.1,1400.7 160.6,1400.8 162.1,1400.9 163.6,1401 165.1,1401.1 166.6,1401.1 168.1,1401.2 169.6,1401.2 171.1,1401.2 172.6,1401.3 174.1,1401.3 175.6,1401.4 177.1,1401.4 178.6,1401.4 180.1,1401.5 181.6,1401.5 183.1,1401.5 184.6,1401.5 186.1,1401.6 187.6,1401.6 189.1,1401.6 190.6,1401.7 192.1,1401.7 193.6,1401.7 195.1,1401.7 196.6,1401.8 198.1,1401.8 199.6,1401.8 201.1,1401.8 202.6,1401.8 204.1,1401.9 205.6,1401.9 207.1,1401.9 208.6,1401.9 210.1,1401.9 211.6,1401.9 213.1,1402 214.6,1402 216.1,1402 217.6,1402 219.1,1402 220.6,1402 222.1,1402 223.6,1402 225.1,1402 226.6,1402 228.1,1402 229.6,1402 231.1,1402 232.6,1401.9 234.1,1401.9 235.6,1401.8 237.1,1401.8 238.6,1401.7 240.1,1401.7 241.6,1401.6 243.1,1401.5 244.6,1401.5 246.1,1401.4 247.6,1401.3 249.1,1401.2 250.6,1401.1 252.1,1401 253.6,1400.9 255.1,1400.8 256.6,1400.7 258.1,1400.6 259.6,1400.5 261.1,1400.3 262.6,1400.2 264.1,1400.1 265.6,1399.9 267.1,1399.8 268.6,1399.7 270.1,1399.5 271.6,1399.4 273.1,1399.3 274.6,1399.1 276.1,1399 277.6,1398.9 279.1,1398.7 280.6,1398.6 282.1,1398.4 283.6,1398.3 285.1,1398.1 286.6,1398 288.1,1397.8 289.6,1397.6 291.1,1397.4 292.6,1397.2 294.1,1397 295.6,1396.8 297.1,1396.5 298.6,1396.3 300.1,1396 301.6,1395.8 303.1,1395.5 304.6,1395.3 306.1,1395 307.6,1394.7 309.1,1394.4 310.6,1394.2 312.1,1393.9 313.6,1393.6 315.1,1393.3 316.6,1393 318.1,1392.7 319.6,1392.4 321.1,1392.1 322.6,1391.8 324.1,1391.4 325.6,1391.1 327.1,1390.8 328.6,1390.5 330.1,1390.2 331.6,1389.8 333.1,1389.5 334.6,1389.1 336.1,1388.8 337.6,1388.4 339.1,1388 340.6,1387.7 342.1,1387.3 343.6,1386.9 345.1,1386.5 346.6,1386.1 348.1,1385.7 349.6,1385.3 351.1,1384.8 352.6,1384.4 354.1,1384 355.6,1383.5 357.1,1383.1 358.6,1382.6 360.1,1382.2 361.6,1381.7 363.1,1381.3 364.6,1380.8 366.1,1380.3 367.6,1379.8 369.1,1379.3 370.6,1378.8 372.1,1378.3 373.6,1377.8 375.1,1377.2 376.6,1376.6 378.1,1376 379.6,1375.4 381.1,1374.8 382.6,1374.2 384.1,1373.6 385.6,1373 387.1,1372.3 388.6,1371.7 390.1,1371 391.6,1370.4 393.1,1369.8 394.6,1369.1 396.1,1368.5 397.6,1367.9 399.1,1367.2 400.6,1366.6 402.1,1366 403.6,1365.4 405.1,1364.8 406.6,1364.2 408.1,1363.6 409.6,1363.1 411.1,1362.5 412.6,1362 414.1,1361.4 415.6,1360.9 417.1,1360.3 418.6,1359.8 420.1,1359.3 421.6,1358.8 423.1,1358.2 424.6,1357.7 426.1,1357.2 427.6,1356.7 429.1,1356.2 430.6,1355.7 432.1,1355.1 433.6,1354.6 435.1,1354.1 436.6,1353.6 438.1,1353.1 439.6,1352.6 441.1,1352.1 442.6,1351.6 444.1,1351.1 445.6,1350.6 447.1,1350.1 448.6,1349.6 450.1,1349.1 451.6,1348.6 453.1,1348.1 454.6,1347.6 456.1,1347.1 457.6,1346.6 459.1,1346.1 460.6,1345.6 462.1,1345.1 463.6,1344.6 465.1,1344.1 466.6,1343.6 468.1,1343.1 469.6,1342.5 471.1,1342 472.6,1341.5 474.1,1340.9 475.6,1340.4 477.1,1339.8 478.6,1339.2 480.1,1338.6 481.6,1338 483.1,1337.4 484.6,1336.8 486.1,1336.2 487.6,1335.6 489.1,1335.1 490.6,1334.5 492.1,1333.9 493.6,1333.3 495.1,1332.8 496.6,1332.2 498.1,1331.7 499.6,1331.1 501.1,1330.6 502.6,1330.1 504.1,1329.7 505.6,1329.2 507.1,1328.8 508.6,1328.3 510.1,1327.9 511.6,1327.5 513.1,1327.1 514.6,1326.7 516.1,1326.3 517.6,1325.9 519.1,1325.6 520.6,1325.2 522.1,1324.9 523.6,1324.5 525.1,1324.2 526.6,1323.9 528.1,1323.6 529.6,1323.3 531.1,1323 532.6,1322.7 534.1,1322.3 535.6,1322 537.1,1321.7 538.6,1321.4 540.1,1321.1 541.6,1320.9 543.1,1320.7 544.6,1320.6 546.1,1320.6 547.6,1320.6 549.1,1320.7 550.6,1320.8 552.1,1320.9 553.6,1321.1 555.1,1321.3 556.6,1321.5 558.1,1321.7 559.6,1321.9 561.1,1322.2 562.6,1322.4 564.1,1322.7 565.6,1323 567.1,1323.4 568.6,1323.9 570.1,1324.3 571.6,1324.9 573.1,1325.4 574.6,1326 576.1,1326.6 577.6,1327.2 579.1,1327.9 580.6,1328.6 582.1,1329.4 583.6,1330.2 585.1,1331.2 586.6,1332.1 588.1,1333.2 589.6,1334.3 591.1,1335.4 592.6,1336.5 594.1,1337.7 595.6,1338.9 597.1,1340.1 598.6,1341.3 600.1,1342.6 601.6,1344 603.1,1345.4 604.6,1346.8 606.1,1348.3 607.6,1349.8 609.1,1351.4 610.6,1353 612.1,1354.6 613.6,1356.3 615.1,1358 616.6,1359.7 618.1,1361.5 619.6,1363.4 621.1,1365.3 622.6,1367.3 624.1,1369.3 625.6,1371.4 627.1,1373.5 628.6,1375.6 630.1,1377.7 631.6,1379.8 633.1,1381.9 634.6,1384 636.1,1386.1 637.6,1388.3 639.1,1390.6 640.6,1392.8 642.1,1395.1 643.6,1397.3 645.1,1399.6 646.6,1401.8 648.1,1404 649.6,1406.2 651.1,1408.3 652.6,1410.4 654.1,1412.5 655.6,1414.6 657.1,1416.6 658.6,1418.7 660.1,1420.7 661.6,1422.7 663.1,1424.6 664.6,1426.5 666.1,1428.4 667.6,1430.2 669.1,1432.1 670.6,1434 672.1,1435.8 673.6,1437.5 675.1,1439.2 676.6,1440.9 678.1,1442.4 679.6,1443.9 681.1,1445.3 682.6,1446.7 684.1,1448 685.6,1449.3 687.1,1450.6 688.6,1451.9 690.1,1453.1 691.6,1454.3 693.1,1455.5 694.6,1456.6 696.1,1457.7 697.6,1458.7 699.1,1459.7 700.6,1460.6 702.1,1461.5 703.6,1462.4 705.1,1463.2 706.6,1464.1 708.1,1464.8 709.6,1465.6 711.1,1466.4 712.6,1467.1 714.1,1467.8 715.6,1468.5 717.1,1469.2 718.6,1469.8 720.1,1470.4 721.6,1471.1 723.1,1471.6 724.6,1472.2 726.1,1472.7 727.6,1473.2 729.1,1473.7 730.6,1474.2 732.1,1474.6 733.6,1475.1 735.1,1475.5 736.6,1476 738.1,1476.4 739.6,1476.8 741.1,1477.3 742.6,1477.7 744.1,1478.1 745.6,1478.5 747.1,1478.8 748.6,1479.2 750.1,1479.6 751.6,1479.9 753.1,1480.3 754.6,1480.6 756.1,1480.9 757.6,1481.2 759.1,1481.5 760.6,1481.7 762.1,1482 763.6,1482.2 765.1,1482.5 766.6,1482.7 768.1,1482.9 769.6,1483 771.1,1483.2 772.6,1483.4 774.1,1483.5 775.6,1483.7 777.1,1483.9 778.6,1484 780.1,1484.2 781.6,1484.3 783.1,1484.5 784.6,1484.6 786.1,1484.8 787.6,1484.9 789.1,1485 790.6,1485.2 792.1,1485.3 793.6,1485.4 795.1,1485.6 796.6,1485.7 798.1,1485.8 799.6,1485.9 801.1,1486 802.6,1486.1 804.1,1486.2 805.6,1486.3 807.1,1486.4 808.6,1486.4 810.1,1486.5 811.6,1486.6 813.1,1486.6 814.6,1486.7 816.1,1486.8 817.6,1486.8 819.1,1486.9 820.6,1486.9 822.1,1486.9 823.6,1487 825.1,1487 826.6,1487 828.1,1487.1 829.6,1487.1 831.1,1487.1 832.6,1487.2 834.1,1487.2 835.6,1487.2 837.1,1487.3 838.6,1487.3 840.1,1487.3 841.6,1487.4 843.1,1487.4 844.6,1487.4 846.1,1487.4 847.6,1487.5 849.1,1487.5 850.6,1487.5 852.1,1487.6 853.6,1487.6 855.1,1487.6 856.6,1487.6 858.1,1487.7 859.6,1487.7 861.1,1487.7 862.6,1487.7 864.1,1487.8 865.6,1487.8 867.1,1487.8 868.6,1487.8 870.1,1487.9 871.6,1487.9 873.1,1487.9 874.6,1487.9 876.1,1488 877.6,1488 879.1,1488 880.6,1488 882.1,1488 883.6,1488.1 885.1,1488.1 886.6,1488.1 888.1,1488.1 889.6,1488.2 891.1,1488.2 892.6,1488.2 894.1,1488.2 895.6,1488.2 897.1,1488.2 898.6,1488.3 900.1,1488.3 901.6,1488.3 903.1,1488.3 904.6,1488.3 906.1,1488.3 907.6,1488.4 909.1,1488.4 910.6,1488.4 912.1,1488.4 913.6,1488.4 915.1,1488.4 916.6,1488.4 918.1,1488.5 919.6,1488.5 921.1,1488.5 922.6,1488.5 924.1,1488.5 925.6,1488.5 927.1,1488.5 928.6,1488.5 930.1,1488.6 931.6,1488.6 933.1,1488.6 934.6,1488.6 936.1,1488.6 937.6,1488.6 939.1,1488.6 940.6,1488.6 942.1,1488.6 943.6,1488.6 945.1,1488.6 946.6,1488.6 948.1,1488.7 949.6,1488.7 951.1,1488.7 952.6,1488.7 954.1,1488.7 955.6,1488.7 957.1,1488.7 958.6,1488.7 960.1,1488.7 961.6,1488.7 963.1,1488.7 964.6,1488.7 966.1,1488.7 967.6,1488.7 969.1,1488.7 970.6,1488.7 972.1,1488.7 973,1488.7" fill="none" stroke="#f28a1e" stroke-width="3.4" stroke-linejoin="round" stroke-linecap="round"/>
<polyline points="118.6,1694.4 122.9,1697.1 127.2,1696 131.5,1696.2 135.8,1696.5 140.1,1699.3 144.4,1699.8 148.7,1699.6 153,1698.7 157.3,1698.9 161.6,1699.3 165.9,1700 170.2,1699.2 174.5,1700.3 178.8,1699.8 183.1,1702.2 187.4,1702.3 191.7,1701.1 196,1700.2 200.3,1702.6 204.6,1700.6 208.9,1700.8 213.2,1699.7 217.5,1701 221.8,1701.3 226.1,1701.4 230.4,1700.4 234.7,1701.3 239,1699.6 243.3,1700.2 247.6,1699.4 251.9,1700.1 256.2,1698.7 260.5,1698.3 264.8,1698.9 269.1,1698.3 273.4,1699.1 277.7,1698.5 282,1698.8 286.3,1698.1 290.6,1697.9 294.9,1697.9 299.2,1695.8 303.5,1695.1 307.8,1696.6 312.1,1693.2 316.4,1694.4 320.7,1693.4 325,1690.7 329.3,1692.5 333.6,1691.8 337.9,1690.1 342.2,1689.5 346.5,1688.8 350.8,1685.5 355.1,1685.5 359.4,1684.1 363.7,1683.8 368,1682.3 372.3,1680.9 376.6,1678.6 380.9,1678.2 385.2,1676 389.5,1674.4 393.8,1671.3 398.1,1668.9 402.4,1667.5 406.7,1666.4 411,1663.8 415.3,1664.4 419.6,1661.7 423.9,1660.2 428.2,1658.5 432.5,1656.9 436.8,1654.6 441.1,1651.4 445.4,1652.2 449.7,1650.3 454,1647.8 458.3,1646.2 462.6,1644.8 466.9,1641.1 471.2,1641.4 475.5,1638 479.8,1635.6 484.1,1634.5 488.4,1634.3 492.7,1631 497,1631.2 501.3,1630.5 505.6,1627.7 509.9,1626.3 514.2,1625.6 518.5,1625.3 522.8,1624.7 527.1,1623.6 531.4,1623.2 535.7,1621.2 540,1621.2 544.3,1621.4 548.6,1622.8 552.9,1621.3 557.2,1622.1 561.5,1620.4 565.8,1621.1 570.1,1622.7 574.4,1625.1 578.7,1626.5 583,1628.6 587.3,1630.3 591.6,1634.4 595.9,1637.8 600.2,1641.4 604.5,1644.2 608.8,1650.9 613.1,1653.3 617.4,1660.9 621.7,1666.5 626,1670 630.3,1678.3 634.6,1686.2 638.9,1693.3 643.2,1698.3 647.5,1704.5 651.8,1710.9 656.1,1719.5 660.4,1722.8 664.7,1729.3 669,1733.1 673.3,1739 677.6,1744.6 681.9,1745.6 686.2,1751.1 690.5,1753.1 694.8,1757.1 699.1,1759 703.4,1759.8 707.7,1764 712,1764.7 716.3,1765 720.6,1766.6 724.9,1769.6 729.2,1770.8 733.5,1771.4 737.8,1772 742.1,1773.6 746.4,1774.4 750.7,1776.9 755,1775 759.3,1778.1 763.6,1779.1 767.9,1777.4 772.2,1780.6 776.5,1780.5 780.8,1781.6 785.1,1780.2 789.4,1781 793.7,1781.6 798,1784 802.3,1783.1 806.6,1782.7 810.9,1783.3 815.2,1783 819.5,1782.5 823.8,1782.8 828.1,1785.3 832.4,1783.7 836.7,1785.9 841,1783.8 845.3,1784 849.6,1784.9 853.9,1784 858.2,1784.7 862.5,1786.7 866.8,1786.5 871.1,1786.4 875.4,1785.9 879.7,1786.9 884,1787.1 888.3,1785.9 892.6,1786.6 896.9,1784.5 901.2,1786.7 905.5,1785.9 909.8,1786.9 914.1,1786.7 918.4,1785.6 922.7,1784.9 927,1787.7 931.3,1785.2 935.6,1786.3 939.9,1786 944.2,1785.9 948.5,1787.3 952.8,1788.1 957.1,1785.8 961.4,1787.1 965.7,1786 970,1786.8 973,1786.3" fill="none" stroke="#000" stroke-width="3.6" stroke-linejoin="round" stroke-linecap="round"/>
<polyline points="118.6,1696.7 120.1,1696.9 121.6,1697.1 123.1,1697.2 124.6,1697.4 126.1,1697.6 127.6,1697.8 129.1,1697.9 130.6,1698.1 132.1,1698.3 133.6,1698.4 135.1,1698.6 136.6,1698.8 138.1,1698.9 139.6,1699.1 141.1,1699.2 142.6,1699.4 144.1,1699.5 145.6,1699.7 147.1,1699.8 148.6,1699.9 150.1,1700.1 151.6,1700.2 153.1,1700.3 154.6,1700.4 156.1,1700.5 157.6,1700.6 159.1,1700.7 160.6,1700.8 162.1,1700.9 163.6,1701 165.1,1701 166.6,1701.1 168.1,1701.2 169.6,1701.2 171.1,1701.3 172.6,1701.3 174.1,1701.3 175.6,1701.4 177.1,1701.4 178.6,1701.5 180.1,1701.5 181.6,1701.6 183.1,1701.6 184.6,1701.7 186.1,1701.7 187.6,1701.7 189.1,1701.8 190.6,1701.8 192.1,1701.9 193.6,1701.9 195.1,1701.9 196.6,1702 198.1,1702 199.6,1702 201.1,1702 202.6,1702.1 204.1,1702.1 205.6,1702.1 207.1,1702.2 208.6,1702.2 210.1,1702.2 211.6,1702.2 213.1,1702.2 214.6,1702.2 216.1,1702.3 217.6,1702.3 219.1,1702.3 220.6,1702.3 222.1,1702.3 223.6,1702.3 225.1,1702.3 226.6,1702.3 228.1,1702.3 229.6,1702.4 231.1,1702.4 232.6,1702.5 234.1,1702.5 235.6,1702.6 237.1,1702.6 238.6,1702.7 240.1,1702.7 241.6,1702.8 243.1,1702.8 244.6,1702.9 246.1,1702.9 247.6,1703 249.1,1703 250.6,1703.1 252.1,1703.1 253.6,1703.2 255.1,1703.2 256.6,1703.2 258.1,1703.3 259.6,1703.3 261.1,1703.4 262.6,1703.4 264.1,1703.4 265.6,1703.5 267.1,1703.5 268.6,1703.6 270.1,1703.6 271.6,1703.6 273.1,1703.7 274.6,1703.7 276.1,1703.7 277.6,1703.8 279.1,1703.8 280.6,1703.8 282.1,1703.9 283.6,1703.9 285.1,1704 286.6,1704 288.1,1704 289.6,1704.1 291.1,1704.1 292.6,1704.2 294.1,1704.2 295.6,1704.2 297.1,1704.3 298.6,1704.3 300.1,1704.4 301.6,1704.4 303.1,1704.4 304.6,1704.5 306.1,1704.5 307.6,1704.6 309.1,1704.6 310.6,1704.7 312.1,1704.7 313.6,1704.8 315.1,1704.8 316.6,1704.9 318.1,1704.9 319.6,1705 321.1,1705 322.6,1705.1 324.1,1705.1 325.6,1705.1 327.1,1705.2 328.6,1705.2 330.1,1705.3 331.6,1705.3 333.1,1705.4 334.6,1705.5 336.1,1705.5 337.6,1705.6 339.1,1705.6 340.6,1705.7 342.1,1705.7 343.6,1705.8 345.1,1705.8 346.6,1705.9 348.1,1706 349.6,1706 351.1,1706.1 352.6,1706.1 354.1,1706.2 355.6,1706.3 357.1,1706.3 358.6,1706.4 360.1,1706.5 361.6,1706.6 363.1,1706.6 364.6,1706.7 366.1,1706.8 367.6,1706.9 369.1,1707 370.6,1707.1 372.1,1707.2 373.6,1707.3 375.1,1707.4 376.6,1707.5 378.1,1707.6 379.6,1707.8 381.1,1707.9 382.6,1708 384.1,1708.1 385.6,1708.3 387.1,1708.4 388.6,1708.6 390.1,1708.7 391.6,1708.9 393.1,1709 394.6,1709.2 396.1,1709.3 397.6,1709.5 399.1,1709.6 400.6,1709.8 402.1,1709.9 403.6,1710.1 405.1,1710.2 406.6,1710.4 408.1,1710.5 409.6,1710.7 411.1,1710.8 412.6,1711 414.1,1711.1 415.6,1711.2 417.1,1711.4 418.6,1711.5 420.1,1711.6 421.6,1711.8 423.1,1711.9 424.6,1712 426.1,1712.1 427.6,1712.2 429.1,1712.3 430.6,1712.4 432.1,1712.5 433.6,1712.6 435.1,1712.7 436.6,1712.8 438.1,1712.8 439.6,1712.9 441.1,1713 442.6,1713 444.1,1713.1 445.6,1713.1 447.1,1713.2 448.6,1713.2 450.1,1713.2 451.6,1713.3 453.1,1713.3 454.6,1713.3 456.1,1713.3 457.6,1713.2 459.1,1713.2 460.6,1713.2 462.1,1713.1 463.6,1713.1 465.1,1713 466.6,1712.9 468.1,1712.8 469.6,1712.7 471.1,1712.6 472.6,1712.5 474.1,1712.3 475.6,1712.1 477.1,1712 478.6,1711.8 480.1,1711.6 481.6,1711.3 483.1,1711.1 484.6,1710.8 486.1,1710.5 487.6,1710.2 489.1,1709.9 490.6,1709.6 492.1,1709.2 493.6,1708.8 495.1,1708.4 496.6,1708 498.1,1707.6 499.6,1707.1 501.1,1706.6 502.6,1706.1 504.1,1705.6 505.6,1705 507.1,1704.5 508.6,1703.9 510.1,1703.3 511.6,1702.6 513.1,1702 514.6,1701.3 516.1,1700.6 517.6,1699.9 519.1,1699.2 520.6,1698.4 522.1,1697.7 523.6,1696.9 525.1,1696.1 526.6,1695.3 528.1,1694.4 529.6,1693.6 531.1,1692.7 532.6,1691.8 534.1,1691 535.6,1690.1 537.1,1689.1 538.6,1688.2 540.1,1687.3 541.6,1686.3 543.1,1685.3 544.6,1684.4 546.1,1683.4 547.6,1682.4 549.1,1681.4 550.6,1680.4 552.1,1679.4 553.6,1678.4 555.1,1677.4 556.6,1676.4 558.1,1675.5 559.6,1674.5 561.1,1673.5 562.6,1672.6 564.1,1671.7 565.6,1670.8 567.1,1670 568.6,1669.2 570.1,1668.4 571.6,1667.7 573.1,1667 574.6,1666.4 576.1,1665.8 577.6,1665.3 579.1,1664.8 580.6,1664.4 582.1,1664.1 583.6,1663.9 585.1,1663.7 586.6,1663.6 588.1,1663.6 589.6,1663.7 591.1,1663.8 592.6,1664.1 594.1,1664.4 595.6,1664.9 597.1,1665.4 598.6,1666 600.1,1666.7 601.6,1667.4 603.1,1668.3 604.6,1669.2 606.1,1670.2 607.6,1671.3 609.1,1672.5 610.6,1673.7 612.1,1675 613.6,1676.3 615.1,1677.7 616.6,1679.2 618.1,1680.7 619.6,1682.3 621.1,1683.9 622.6,1685.5 624.1,1687.2 625.6,1688.8 627.1,1690.5 628.6,1692.3 630.1,1694 631.6,1695.8 633.1,1697.5 634.6,1699.3 636.1,1701.1 637.6,1702.9 639.1,1704.6 640.6,1706.4 642.1,1708.2 643.6,1709.9 645.1,1711.7 646.6,1713.4 648.1,1715.2 649.6,1716.9 651.1,1718.6 652.6,1720.3 654.1,1721.9 655.6,1723.6 657.1,1725.2 658.6,1726.8 660.1,1728.4 661.6,1730 663.1,1731.5 664.6,1733 666.1,1734.5 667.6,1735.9 669.1,1737.4 670.6,1738.8 672.1,1740.1 673.6,1741.5 675.1,1742.8 676.6,1744.1 678.1,1745.4 679.6,1746.6 681.1,1747.8 682.6,1749 684.1,1750.1 685.6,1751.2 687.1,1752.3 688.6,1753.4 690.1,1754.5 691.6,1755.5 693.1,1756.4 694.6,1757.4 696.1,1758.3 697.6,1759.2 699.1,1760.1 700.6,1761 702.1,1761.8 703.6,1762.6 705.1,1763.3 706.6,1764 708.1,1764.7 709.6,1765.4 711.1,1766.1 712.6,1766.7 714.1,1767.3 715.6,1767.9 717.1,1768.4 718.6,1768.9 720.1,1769.5 721.6,1769.9 723.1,1770.4 724.6,1770.9 726.1,1771.3 727.6,1771.7 729.1,1772.1 730.6,1772.5 732.1,1772.9 733.6,1773.2 735.1,1773.6 736.6,1773.9 738.1,1774.3 739.6,1774.6 741.1,1774.9 742.6,1775.2 744.1,1775.4 745.6,1775.7 747.1,1776 748.6,1776.3 750.1,1776.6 751.6,1776.9 753.1,1777.2 754.6,1777.4 756.1,1777.7 757.6,1778 759.1,1778.2 760.6,1778.4 762.1,1778.7 763.6,1778.9 765.1,1779.1 766.6,1779.3 768.1,1779.5 769.6,1779.7 771.1,1780 772.6,1780.2 774.1,1780.4 775.6,1780.6 777.1,1780.8 778.6,1781 780.1,1781.2 781.6,1781.3 783.1,1781.5 784.6,1781.7 786.1,1781.9 787.6,1782.1 789.1,1782.3 790.6,1782.5 792.1,1782.6 793.6,1782.8 795.1,1783 796.6,1783.1 798.1,1783.3 799.6,1783.4 801.1,1783.6 802.6,1783.7 804.1,1783.9 805.6,1784 807.1,1784.1 808.6,1784.2 810.1,1784.3 811.6,1784.4 813.1,1784.5 814.6,1784.6 816.1,1784.7 817.6,1784.8 819.1,1784.8 820.6,1784.9 822.1,1784.9 823.6,1785 825.1,1785 826.6,1785.1 828.1,1785.1 829.6,1785.2 831.1,1785.2 832.6,1785.3 834.1,1785.3 835.6,1785.4 837.1,1785.4 838.6,1785.5 840.1,1785.5 841.6,1785.5 843.1,1785.6 844.6,1785.6 846.1,1785.7 847.6,1785.7 849.1,1785.8 850.6,1785.8 852.1,1785.8 853.6,1785.9 855.1,1785.9 856.6,1786 858.1,1786 859.6,1786 861.1,1786.1 862.6,1786.1 864.1,1786.1 865.6,1786.2 867.1,1786.2 868.6,1786.2 870.1,1786.3 871.6,1786.3 873.1,1786.4 874.6,1786.4 876.1,1786.4 877.6,1786.5 879.1,1786.5 880.6,1786.5 882.1,1786.5 883.6,1786.6 885.1,1786.6 886.6,1786.6 888.1,1786.7 889.6,1786.7 891.1,1786.7 892.6,1786.8 894.1,1786.8 895.6,1786.8 897.1,1786.8 898.6,1786.9 900.1,1786.9 901.6,1786.9 903.1,1786.9 904.6,1787 906.1,1787 907.6,1787 909.1,1787 910.6,1787 912.1,1787.1 913.6,1787.1 915.1,1787.1 916.6,1787.1 918.1,1787.1 919.6,1787.2 921.1,1787.2 922.6,1787.2 924.1,1787.2 925.6,1787.2 927.1,1787.3 928.6,1787.3 930.1,1787.3 931.6,1787.3 933.1,1787.3 934.6,1787.3 936.1,1787.3 937.6,1787.4 939.1,1787.4 940.6,1787.4 942.1,1787.4 943.6,1787.4 945.1,1787.4 946.6,1787.4 948.1,1787.4 949.6,1787.4 951.1,1787.4 952.6,1787.5 954.1,1787.5 955.6,1787.5 957.1,1787.5 958.6,1787.5 960.1,1787.5 961.6,1787.5 963.1,1787.5 964.6,1787.5 966.1,1787.5 967.6,1787.5 969.1,1787.5 970.6,1787.5 972.1,1787.5" fill="none" stroke="#1414d8" stroke-width="3.0" stroke-linejoin="round" stroke-linecap="round"/>
<polyline points="118.6,1696.7 120.1,1696.9 121.6,1697.1 123.1,1697.2 124.6,1697.4 126.1,1697.6 127.6,1697.8 129.1,1697.9 130.6,1698.1 132.1,1698.3 133.6,1698.4 135.1,1698.6 136.6,1698.8 138.1,1698.9 139.6,1699.1 141.1,1699.2 142.6,1699.4 144.1,1699.5 145.6,1699.7 147.1,1699.8 148.6,1699.9 150.1,1700.1 151.6,1700.2 153.1,1700.3 154.6,1700.4 156.1,1700.5 157.6,1700.6 159.1,1700.7 160.6,1700.8 162.1,1700.9 163.6,1701 165.1,1701 166.6,1701.1 168.1,1701.2 169.6,1701.2 171.1,1701.3 172.6,1701.3 174.1,1701.3 175.6,1701.4 177.1,1701.4 178.6,1701.5 180.1,1701.5 181.6,1701.6 183.1,1701.6 184.6,1701.7 186.1,1701.7 187.6,1701.7 189.1,1701.8 190.6,1701.8 192.1,1701.9 193.6,1701.9 195.1,1702 196.6,1702.1 198.1,1702.2 199.6,1702.2 201.1,1702.3 202.6,1702.4 204.1,1702.5 205.6,1702.6 207.1,1702.7 208.6,1702.8 210.1,1702.9 211.6,1702.9 213.1,1703 214.6,1703.1 216.1,1703.2 217.6,1703.3 219.1,1703.3 220.6,1703.4 222.1,1703.5 223.6,1703.6 225.1,1703.6 226.6,1703.7 228.1,1703.8 229.6,1703.9 231.1,1703.9 232.6,1704 234.1,1704.1 235.6,1704.1 237.1,1704.2 238.6,1704.3 240.1,1704.3 241.6,1704.4 243.1,1704.5 244.6,1704.5 246.1,1704.6 247.6,1704.6 249.1,1704.7 250.6,1704.8 252.1,1704.8 253.6,1704.9 255.1,1704.9 256.6,1705 258.1,1705 259.6,1705.1 261.1,1705.2 262.6,1705.2 264.1,1705.3 265.6,1705.3 267.1,1705.4 268.6,1705.4 270.1,1705.5 271.6,1705.5 273.1,1705.6 274.6,1705.6 276.1,1705.7 277.6,1705.8 279.1,1705.8 280.6,1705.9 282.1,1705.9 283.6,1706 285.1,1706 286.6,1706.1 288.1,1706.1 289.6,1706.2 291.1,1706.3 292.6,1706.3 294.1,1706.4 295.6,1706.4 297.1,1706.5 298.6,1706.6 300.1,1706.6 301.6,1706.7 303.1,1706.8 304.6,1706.8 306.1,1706.9 307.6,1707 309.1,1707 310.6,1707.1 312.1,1707.2 313.6,1707.3 315.1,1707.3 316.6,1707.4 318.1,1707.5 319.6,1707.5 321.1,1707.6 322.6,1707.7 324.1,1707.8 325.6,1707.9 327.1,1707.9 328.6,1708 330.1,1708.1 331.6,1708.2 333.1,1708.2 334.6,1708.3 336.1,1708.4 337.6,1708.5 339.1,1708.6 340.6,1708.7 342.1,1708.8 343.6,1708.9 345.1,1708.9 346.6,1709 348.1,1709.1 349.6,1709.2 351.1,1709.3 352.6,1709.4 354.1,1709.5 355.6,1709.6 357.1,1709.8 358.6,1709.9 360.1,1710 361.6,1710.1 363.1,1710.2 364.6,1710.3 366.1,1710.5 367.6,1710.6 369.1,1710.8 370.6,1710.9 372.1,1711 373.6,1711.2 375.1,1711.4 376.6,1711.5 378.1,1711.7 379.6,1711.9 381.1,1712 382.6,1712.2 384.1,1712.4 385.6,1712.6 387.1,1712.8 388.6,1713 390.1,1713.2 391.6,1713.4 393.1,1713.7 394.6,1713.9 396.1,1714.1 397.6,1714.3 399.1,1714.5 400.6,1714.8 402.1,1715 403.6,1715.2 405.1,1715.5 406.6,1715.7 408.1,1715.9 409.6,1716.2 411.1,1716.4 412.6,1716.7 414.1,1716.9 415.6,1717.1 417.1,1717.4 418.6,1717.6 420.1,1717.8 421.6,1718.1 423.1,1718.3 424.6,1718.6 426.1,1718.8 427.6,1719 429.1,1719.3 430.6,1719.5 432.1,1719.8 433.6,1720 435.1,1720.2 436.6,1720.5 438.1,1720.7 439.6,1721 441.1,1721.2 442.6,1721.5 444.1,1721.7 445.6,1722 447.1,1722.2 448.6,1722.5 450.1,1722.8 451.6,1723 453.1,1723.3 454.6,1723.5 456.1,1723.8 457.6,1724.1 459.1,1724.3 460.6,1724.6 462.1,1724.9 463.6,1725.2 465.1,1725.4 466.6,1725.7 468.1,1726 469.6,1726.3 471.1,1726.6 472.6,1726.9 474.1,1727.2 475.6,1727.5 477.1,1727.8 478.6,1728.1 480.1,1728.4 481.6,1728.7 483.1,1729 484.6,1729.3 486.1,1729.6 487.6,1729.9 489.1,1730.2 490.6,1730.5 492.1,1730.9 493.6,1731.2 495.1,1731.5 496.6,1731.9 498.1,1732.2 499.6,1732.5 501.1,1732.9 502.6,1733.2 504.1,1733.6 505.6,1734 507.1,1734.3 508.6,1734.7 510.1,1735.1 511.6,1735.5 513.1,1735.8 514.6,1736.2 516.1,1736.6 517.6,1737 519.1,1737.5 520.6,1737.9 522.1,1738.3 523.6,1738.8 525.1,1739.2 526.6,1739.7 528.1,1740.1 529.6,1740.6 531.1,1741.1 532.6,1741.6 534.1,1742.1 535.6,1742.6 537.1,1743.1 538.6,1743.6 540.1,1744.1 541.6,1744.6 543.1,1745.1 544.6,1745.6 546.1,1746.1 547.6,1746.7 549.1,1747.2 550.6,1747.7 552.1,1748.2 553.6,1748.7 555.1,1749.2 556.6,1749.8 558.1,1750.3 559.6,1750.8 561.1,1751.3 562.6,1751.8 564.1,1752.3 565.6,1752.8 567.1,1753.3 568.6,1753.8 570.1,1754.3 571.6,1754.8 573.1,1755.4 574.6,1755.9 576.1,1756.4 577.6,1756.9 579.1,1757.4 580.6,1757.9 582.1,1758.4 583.6,1758.9 585.1,1759.4 586.6,1759.9 588.1,1760.4 589.6,1760.9 591.1,1761.4 592.6,1761.8 594.1,1762.3 595.6,1762.8 597.1,1763.3 598.6,1763.8 600.1,1764.3 601.6,1764.8 603.1,1765.3 604.6,1765.7 606.1,1766.2 607.6,1766.7 609.1,1767.2 610.6,1767.7 612.1,1768.2 613.6,1768.6 615.1,1769.1 616.6,1769.6 618.1,1770 619.6,1770.5 621.1,1771 622.6,1771.4 624.1,1771.8 625.6,1772.3 627.1,1772.7 628.6,1773.1 630.1,1773.5 631.6,1773.9 633.1,1774.2 634.6,1774.6 636.1,1775 637.6,1775.3 639.1,1775.6 640.6,1776 642.1,1776.3 643.6,1776.6 645.1,1776.9 646.6,1777.2 648.1,1777.5 649.6,1777.8 651.1,1778 652.6,1778.3 654.1,1778.6 655.6,1778.8 657.1,1779.1 658.6,1779.3 660.1,1779.6 661.6,1779.8 663.1,1780 664.6,1780.3 666.1,1780.5 667.6,1780.7 669.1,1780.9 670.6,1781.1 672.1,1781.3 673.6,1781.5 675.1,1781.7 676.6,1781.8 678.1,1782 679.6,1782.2 681.1,1782.4 682.6,1782.5 684.1,1782.7 685.6,1782.8 687.1,1783 688.6,1783.1 690.1,1783.3 691.6,1783.4 693.1,1783.6 694.6,1783.7 696.1,1783.8 697.6,1784 699.1,1784.1 700.6,1784.2 702.1,1784.3 703.6,1784.4 705.1,1784.5 706.6,1784.6 708.1,1784.7 709.6,1784.8 711.1,1784.8 712.6,1784.9 714.1,1785 715.6,1785 717.1,1785.1 718.6,1785.1 720.1,1785.1 721.6,1785.2 723.1,1785.2 724.6,1785.2 726.1,1785.3 727.6,1785.3 729.1,1785.3 730.6,1785.4 732.1,1785.4 733.6,1785.4 735.1,1785.4 736.6,1785.5 738.1,1785.5 739.6,1785.5 741.1,1785.5 742.6,1785.6 744.1,1785.6 745.6,1785.6 747.1,1785.6 748.6,1785.7 750.1,1785.7 751.6,1785.7 753.1,1785.7 754.6,1785.7 756.1,1785.8 757.6,1785.8 759.1,1785.8 760.6,1785.8 762.1,1785.9 763.6,1785.9 765.1,1785.9 766.6,1785.9 768.1,1785.9 769.6,1786 771.1,1786 772.6,1786 774.1,1786 775.6,1786 777.1,1786.1 778.6,1786.1 780.1,1786.1 781.6,1786.1 783.1,1786.1 784.6,1786.2 786.1,1786.2 787.6,1786.2 789.1,1786.2 790.6,1786.2 792.1,1786.2 793.6,1786.3 795.1,1786.3 796.6,1786.3 798.1,1786.3 799.6,1786.3 801.1,1786.3 802.6,1786.4 804.1,1786.4 805.6,1786.4 807.1,1786.4 808.6,1786.4 810.1,1786.4 811.6,1786.5 813.1,1786.5 814.6,1786.5 816.1,1786.5 817.6,1786.5 819.1,1786.5 820.6,1786.5 822.1,1786.6 823.6,1786.6 825.1,1786.6 826.6,1786.6 828.1,1786.6 829.6,1786.6 831.1,1786.6 832.6,1786.6 834.1,1786.7 835.6,1786.7 837.1,1786.7 838.6,1786.7 840.1,1786.7 841.6,1786.7 843.1,1786.7 844.6,1786.7 846.1,1786.8 847.6,1786.8 849.1,1786.8 850.6,1786.8 852.1,1786.8 853.6,1786.8 855.1,1786.8 856.6,1786.8 858.1,1786.8 859.6,1786.9 861.1,1786.9 862.6,1786.9 864.1,1786.9 865.6,1786.9 867.1,1786.9 868.6,1786.9 870.1,1786.9 871.6,1786.9 873.1,1786.9 874.6,1786.9 876.1,1787 877.6,1787 879.1,1787 880.6,1787 882.1,1787 883.6,1787 885.1,1787 886.6,1787 888.1,1787 889.6,1787 891.1,1787 892.6,1787 894.1,1787 895.6,1787 897.1,1787.1 898.6,1787.1 900.1,1787.1 901.6,1787.1 903.1,1787.1 904.6,1787.1 906.1,1787.1 907.6,1787.1 909.1,1787.1 910.6,1787.1 912.1,1787.1 913.6,1787.1 915.1,1787.1 916.6,1787.1 918.1,1787.1 919.6,1787.2 921.1,1787.2 922.6,1787.2 924.1,1787.2 925.6,1787.2 927.1,1787.3 928.6,1787.3 930.1,1787.3 931.6,1787.3 933.1,1787.3 934.6,1787.3 936.1,1787.3 937.6,1787.4 939.1,1787.4 940.6,1787.4 942.1,1787.4 943.6,1787.4 945.1,1787.4 946.6,1787.4 948.1,1787.4 949.6,1787.4 951.1,1787.4 952.6,1787.5 954.1,1787.5 955.6,1787.5 957.1,1787.5 958.6,1787.5 960.1,1787.5 961.6,1787.5 963.1,1787.5 964.6,1787.5 966.1,1787.5 967.6,1787.5 969.1,1787.5 970.6,1787.5 972.1,1787.5" fill="none" stroke="#e0141e" stroke-width="3.0" stroke-linejoin="round" stroke-linecap="round"/>
<polyline points="118.6,1696.7 120.1,1696.9 121.6,1697.1 123.1,1697.2 124.6,1697.4 126.1,1697.6 127.6,1697.8 129.1,1697.9 130.6,1698.1 132.1,1698.3 133.6,1698.4 135.1,1698.6 136.6,1698.8 138.1,1698.9 139.6,1699.1 141.1,1699.2 142.6,1699.4 144.1,1699.5 145.6,1699.7 147.1,1699.8 148.6,1699.9 150.1,1700.1 151.6,1700.2 153.1,1700.3 154.6,1700.4 156.1,1700.5 157.6,1700.6 159.1,1700.7 160.6,1700.8 162.1,1700.9 163.6,1701 165.1,1701 166.6,1701.1 168.1,1701.2 169.6,1701.2 171.1,1701.3 172.6,1701.3 174.1,1701.3 175.6,1701.4 177.1,1701.4 178.6,1701.5 180.1,1701.5 181.6,1701.6 183.1,1701.6 184.6,1701.7 186.1,1701.7 187.6,1701.7 189.1,1701.8 190.6,1701.8 192.1,1701.9 193.6,1701.9 195.1,1701.9 196.6,1702 198.1,1702 199.6,1702 201.1,1702 202.6,1702.1 204.1,1702.1 205.6,1702.1 207.1,1702.2 208.6,1702.2 210.1,1702.2 211.6,1702.2 213.1,1702.2 214.6,1702.2 216.1,1702.3 217.6,1702.3 219.1,1702.3 220.6,1702.3 222.1,1702.3 223.6,1702.3 225.1,1702.3 226.6,1702.3 228.1,1702.3 229.6,1702.3 231.1,1702.3 232.6,1702.2 234.1,1702.2 235.6,1702.2 237.1,1702.1 238.6,1702.1 240.1,1702 241.6,1702 243.1,1702 244.6,1702 246.1,1702 247.6,1702 249.1,1702 250.6,1702 252.1,1701.9 253.6,1701.9 255.1,1701.9 256.6,1701.9 258.1,1701.9 259.6,1701.8 261.1,1701.8 262.6,1701.8 264.1,1701.7 265.6,1701.7 267.1,1701.6 268.6,1701.6 270.1,1701.5 271.6,1701.5 273.1,1701.4 274.6,1701.4 276.1,1701.3 277.6,1701.2 279.1,1701.1 280.6,1701.1 282.1,1701 283.6,1700.9 285.1,1700.8 286.6,1700.7 288.1,1700.6 289.6,1700.5 291.1,1700.4 292.6,1700.3 294.1,1700.2 295.6,1700 297.1,1699.9 298.6,1699.8 300.1,1699.6 301.6,1699.5 303.1,1699.4 304.6,1699.2 306.1,1699 307.6,1698.9 309.1,1698.7 310.6,1698.5 312.1,1698.3 313.6,1698.2 315.1,1698 316.6,1697.8 318.1,1697.5 319.6,1697.3 321.1,1697.1 322.6,1696.9 324.1,1696.6 325.6,1696.4 327.1,1696.1 328.6,1695.9 330.1,1695.6 331.6,1695.3 333.1,1695.1 334.6,1694.8 336.1,1694.5 337.6,1694.2 339.1,1693.9 340.6,1693.5 342.1,1693.2 343.6,1692.9 345.1,1692.5 346.6,1692.2 348.1,1691.8 349.6,1691.5 351.1,1691.1 352.6,1690.7 354.1,1690.3 355.6,1689.9 357.1,1689.5 358.6,1689.1 360.1,1688.7 361.6,1688.3 363.1,1687.9 364.6,1687.5 366.1,1687 367.6,1686.6 369.1,1686.2 370.6,1685.7 372.1,1685.3 373.6,1684.8 375.1,1684.4 376.6,1683.9 378.1,1683.4 379.6,1683 381.1,1682.5 382.6,1682.1 384.1,1681.6 385.6,1681.1 387.1,1680.6 388.6,1680.2 390.1,1679.7 391.6,1679.2 393.1,1678.7 394.6,1678.2 396.1,1677.7 397.6,1677.2 399.1,1676.7 400.6,1676.2 402.1,1675.7 403.6,1675.2 405.1,1674.7 406.6,1674.2 408.1,1673.7 409.6,1673.2 411.1,1672.6 412.6,1672.1 414.1,1671.6 415.6,1671.1 417.1,1670.6 418.6,1670 420.1,1669.5 421.6,1669 423.1,1668.5 424.6,1667.9 426.1,1667.4 427.6,1666.9 429.1,1666.4 430.6,1665.9 432.1,1665.4 433.6,1664.9 435.1,1664.4 436.6,1663.9 438.1,1663.4 439.6,1662.9 441.1,1662.5 442.6,1662 444.1,1661.6 445.6,1661.1 447.1,1660.7 448.6,1660.3 450.1,1659.9 451.6,1659.5 453.1,1659.1 454.6,1658.7 456.1,1658.4 457.6,1658 459.1,1657.7 460.6,1657.4 462.1,1657.1 463.6,1656.8 465.1,1656.6 466.6,1656.3 468.1,1656.1 469.6,1655.9 471.1,1655.7 472.6,1655.5 474.1,1655.4 475.6,1655.3 477.1,1655.2 478.6,1655.1 480.1,1655 481.6,1655 483.1,1655 484.6,1655 486.1,1655.1 487.6,1655.1 489.1,1655.2 490.6,1655.3 492.1,1655.5 493.6,1655.6 495.1,1655.8 496.6,1656 498.1,1656.3 499.6,1656.6 501.1,1656.9 502.6,1657.2 504.1,1657.6 505.6,1658 507.1,1658.4 508.6,1658.9 510.1,1659.4 511.6,1660 513.1,1660.6 514.6,1661.3 516.1,1662 517.6,1662.7 519.1,1663.5 520.6,1664.3 522.1,1665.2 523.6,1666.1 525.1,1667 526.6,1668 528.1,1669 529.6,1670.1 531.1,1671.2 532.6,1672.3 534.1,1673.5 535.6,1674.7 537.1,1675.9 538.6,1677.1 540.1,1678.4 541.6,1679.7 543.1,1681 544.6,1682.4 546.1,1683.7 547.6,1685.1 549.1,1686.5 550.6,1687.9 552.1,1689.3 553.6,1690.7 555.1,1692.1 556.6,1693.5 558.1,1695 559.6,1696.4 561.1,1697.9 562.6,1699.4 564.1,1700.8 565.6,1702.3 567.1,1703.8 568.6,1705.2 570.1,1706.7 571.6,1708.2 573.1,1709.6 574.6,1711.1 576.1,1712.6 577.6,1714 579.1,1715.5 580.6,1716.9 582.1,1718.4 583.6,1719.8 585.1,1721.2 586.6,1722.6 588.1,1724 589.6,1725.4 591.1,1726.8 592.6,1728.2 594.1,1729.5 595.6,1730.9 597.1,1732.2 598.6,1733.5 600.1,1734.9 601.6,1736.2 603.1,1737.4 604.6,1738.7 606.1,1740 607.6,1741.2 609.1,1742.5 610.6,1743.7 612.1,1744.9 613.6,1746 615.1,1747.2 616.6,1748.4 618.1,1749.5 619.6,1750.6 621.1,1751.7 622.6,1752.7 624.1,1753.8 625.6,1754.8 627.1,1755.8 628.6,1756.7 630.1,1757.7 631.6,1758.6 633.1,1759.5 634.6,1760.4 636.1,1761.2 637.6,1762 639.1,1762.8 640.6,1763.6 642.1,1764.3 643.6,1765.1 645.1,1765.8 646.6,1766.5 648.1,1767.1 649.6,1767.8 651.1,1768.4 652.6,1769 654.1,1769.6 655.6,1770.2 657.1,1770.8 658.6,1771.3 660.1,1771.9 661.6,1772.4 663.1,1772.9 664.6,1773.4 666.1,1773.8 667.6,1774.3 669.1,1774.7 670.6,1775.1 672.1,1775.6 673.6,1775.9 675.1,1776.3 676.6,1776.7 678.1,1777.1 679.6,1777.4 681.1,1777.7 682.6,1778.1 684.1,1778.4 685.6,1778.7 687.1,1779 688.6,1779.3 690.1,1779.6 691.6,1779.8 693.1,1780.1 694.6,1780.3 696.1,1780.6 697.6,1780.8 699.1,1781 700.6,1781.3 702.1,1781.5 703.6,1781.6 705.1,1781.8 706.6,1782 708.1,1782.2 709.6,1782.3 711.1,1782.4 712.6,1782.6 714.1,1782.7 715.6,1782.8 717.1,1782.9 718.6,1783 720.1,1783.1 721.6,1783.2 723.1,1783.3 724.6,1783.4 726.1,1783.4 727.6,1783.5 729.1,1783.6 730.6,1783.6 732.1,1783.7 733.6,1783.8 735.1,1783.8 736.6,1783.9 738.1,1783.9 739.6,1784 741.1,1784 742.6,1784.1 744.1,1784.1 745.6,1784.2 747.1,1784.2 748.6,1784.3 750.1,1784.3 751.6,1784.4 753.1,1784.4 754.6,1784.5 756.1,1784.5 757.6,1784.6 759.1,1784.6 760.6,1784.6 762.1,1784.7 763.6,1784.7 765.1,1784.7 766.6,1784.8 768.1,1784.8 769.6,1784.9 771.1,1784.9 772.6,1784.9 774.1,1785 775.6,1785 777.1,1785 778.6,1785.1 780.1,1785.1 781.6,1785.1 783.1,1785.1 784.6,1785.2 786.1,1785.2 787.6,1785.2 789.1,1785.3 790.6,1785.3 792.1,1785.3 793.6,1785.3 795.1,1785.4 796.6,1785.4 798.1,1785.4 799.6,1785.4 801.1,1785.5 802.6,1785.5 804.1,1785.5 805.6,1785.5 807.1,1785.6 808.6,1785.6 810.1,1785.6 811.6,1785.6 813.1,1785.7 814.6,1785.7 816.1,1785.7 817.6,1785.7 819.1,1785.8 820.6,1785.8 822.1,1785.8 823.6,1785.8 825.1,1785.8 826.6,1785.9 828.1,1785.9 829.6,1785.9 831.1,1785.9 832.6,1785.9 834.1,1786 835.6,1786 837.1,1786 838.6,1786 840.1,1786 841.6,1786 843.1,1786.1 844.6,1786.1 846.1,1786.1 847.6,1786.1 849.1,1786.1 850.6,1786.1 852.1,1786.2 853.6,1786.2 855.1,1786.2 856.6,1786.2 858.1,1786.2 859.6,1786.2 861.1,1786.3 862.6,1786.3 864.1,1786.3 865.6,1786.3 867.1,1786.3 868.6,1786.3 870.1,1786.3 871.6,1786.3 873.1,1786.4 874.6,1786.4 876.1,1786.4 877.6,1786.5 879.1,1786.5 880.6,1786.5 882.1,1786.5 883.6,1786.6 885.1,1786.6 886.6,1786.6 888.1,1786.7 889.6,1786.7 891.1,1786.7 892.6,1786.8 894.1,1786.8 895.6,1786.8 897.1,1786.8 898.6,1786.9 900.1,1786.9 901.6,1786.9 903.1,1786.9 904.6,1787 906.1,1787 907.6,1787 909.1,1787 910.6,1787 912.1,1787.1 913.6,1787.1 915.1,1787.1 916.6,1787.1 918.1,1787.1 919.6,1787.2 921.1,1787.2 922.6,1787.2 924.1,1787.2 925.6,1787.2 927.1,1787.3 928.6,1787.3 930.1,1787.3 931.6,1787.3 933.1,1787.3 934.6,1787.3 936.1,1787.3 937.6,1787.4 939.1,1787.4 940.6,1787.4 942.1,1787.4 943.6,1787.4 945.1,1787.4 946.6,1787.4 948.1,1787.4 949.6,1787.4 951.1,1787.4 952.6,1787.5 954.1,1787.5 955.6,1787.5 957.1,1787.5 958.6,1787.5 960.1,1787.5 961.6,1787.5 963.1,1787.5 964.6,1787.5 966.1,1787.5 967.6,1787.5 969.1,1787.5 970.6,1787.5 972.1,1787.5" fill="none" stroke="#7a0a0a" stroke-width="3.0" stroke-linejoin="round" stroke-linecap="round"/>
<polyline points="118.6,1696.4 120.1,1696.6 121.6,1696.8 123.1,1696.9 124.6,1697.1 126.1,1697.3 127.6,1697.5 129.1,1697.6 130.6,1697.8 132.1,1698 133.6,1698.1 135.1,1698.3 136.6,1698.5 138.1,1698.6 139.6,1698.8 141.1,1698.9 142.6,1699.1 144.1,1699.2 145.6,1699.4 147.1,1699.5 148.6,1699.6 150.1,1699.8 151.6,1699.9 153.1,1700 154.6,1700.1 156.1,1700.2 157.6,1700.3 159.1,1700.4 160.6,1700.5 162.1,1700.6 163.6,1700.7 165.1,1700.7 166.6,1700.8 168.1,1700.9 169.6,1700.9 171.1,1701 172.6,1701 174.1,1701 175.6,1701.1 177.1,1701.1 178.6,1701.2 180.1,1701.2 181.6,1701.3 183.1,1701.3 184.6,1701.4 186.1,1701.4 187.6,1701.4 189.1,1701.5 190.6,1701.5 192.1,1701.6 193.6,1701.6 195.1,1701.6 196.6,1701.7 198.1,1701.7 199.6,1701.7 201.1,1701.7 202.6,1701.8 204.1,1701.8 205.6,1701.8 207.1,1701.9 208.6,1701.9 210.1,1701.9 211.6,1701.9 213.1,1701.9 214.6,1701.9 216.1,1702 217.6,1702 219.1,1702 220.6,1702 222.1,1702 223.6,1702 225.1,1702 226.6,1702 228.1,1702 229.6,1702 231.1,1702 232.6,1701.9 234.1,1701.9 235.6,1701.9 237.1,1701.8 238.6,1701.8 240.1,1701.7 241.6,1701.6 243.1,1701.6 244.6,1701.5 246.1,1701.4 247.6,1701.3 249.1,1701.2 250.6,1701.1 252.1,1701 253.6,1700.9 255.1,1700.8 256.6,1700.7 258.1,1700.6 259.6,1700.5 261.1,1700.4 262.6,1700.3 264.1,1700.2 265.6,1700 267.1,1699.9 268.6,1699.8 270.1,1699.7 271.6,1699.5 273.1,1699.4 274.6,1699.3 276.1,1699.1 277.6,1699 279.1,1698.9 280.6,1698.8 282.1,1698.6 283.6,1698.5 285.1,1698.4 286.6,1698.2 288.1,1698.1 289.6,1697.9 291.1,1697.8 292.6,1697.6 294.1,1697.4 295.6,1697.2 297.1,1697.1 298.6,1696.9 300.1,1696.7 301.6,1696.5 303.1,1696.3 304.6,1696.1 306.1,1695.9 307.6,1695.6 309.1,1695.4 310.6,1695.2 312.1,1695 313.6,1694.7 315.1,1694.5 316.6,1694.2 318.1,1694 319.6,1693.7 321.1,1693.5 322.6,1693.2 324.1,1692.9 325.6,1692.7 327.1,1692.4 328.6,1692.1 330.1,1691.8 331.6,1691.5 333.1,1691.3 334.6,1691 336.1,1690.7 337.6,1690.4 339.1,1690.1 340.6,1689.7 342.1,1689.4 343.6,1689.1 345.1,1688.7 346.6,1688.3 348.1,1687.9 349.6,1687.5 351.1,1687.1 352.6,1686.7 354.1,1686.3 355.6,1685.8 357.1,1685.4 358.6,1684.9 360.1,1684.5 361.6,1684 363.1,1683.5 364.6,1683 366.1,1682.5 367.6,1682 369.1,1681.5 370.6,1681 372.1,1680.5 373.6,1680 375.1,1679.5 376.6,1679 378.1,1678.5 379.6,1677.9 381.1,1677.4 382.6,1676.9 384.1,1676.4 385.6,1675.8 387.1,1675.3 388.6,1674.7 390.1,1674.2 391.6,1673.6 393.1,1673 394.6,1672.4 396.1,1671.8 397.6,1671.2 399.1,1670.6 400.6,1670 402.1,1669.4 403.6,1668.8 405.1,1668.1 406.6,1667.5 408.1,1666.9 409.6,1666.3 411.1,1665.6 412.6,1665 414.1,1664.4 415.6,1663.8 417.1,1663.1 418.6,1662.5 420.1,1661.9 421.6,1661.3 423.1,1660.7 424.6,1660.1 426.1,1659.5 427.6,1658.9 429.1,1658.3 430.6,1657.7 432.1,1657.1 433.6,1656.5 435.1,1655.9 436.6,1655.3 438.1,1654.7 439.6,1654.2 441.1,1653.6 442.6,1653 444.1,1652.4 445.6,1651.8 447.1,1651.2 448.6,1650.6 450.1,1650 451.6,1649.4 453.1,1648.8 454.6,1648.2 456.1,1647.6 457.6,1647 459.1,1646.3 460.6,1645.7 462.1,1645.1 463.6,1644.5 465.1,1643.9 466.6,1643.2 468.1,1642.6 469.6,1642 471.1,1641.3 472.6,1640.6 474.1,1640 475.6,1639.3 477.1,1638.7 478.6,1638.1 480.1,1637.5 481.6,1636.9 483.1,1636.3 484.6,1635.7 486.1,1635.1 487.6,1634.5 489.1,1633.9 490.6,1633.3 492.1,1632.8 493.6,1632.2 495.1,1631.7 496.6,1631.1 498.1,1630.6 499.6,1630.1 501.1,1629.6 502.6,1629.2 504.1,1628.8 505.6,1628.4 507.1,1628 508.6,1627.6 510.1,1627.2 511.6,1626.9 513.1,1626.5 514.6,1626.2 516.1,1625.8 517.6,1625.5 519.1,1625.2 520.6,1624.9 522.1,1624.6 523.6,1624.3 525.1,1624.1 526.6,1623.9 528.1,1623.7 529.6,1623.5 531.1,1623.4 532.6,1623.3 534.1,1623.2 535.6,1623.1 537.1,1623.1 538.6,1623 540.1,1622.9 541.6,1622.9 543.1,1622.8 544.6,1622.8 546.1,1622.7 547.6,1622.7 549.1,1622.6 550.6,1622.6 552.1,1622.6 553.6,1622.5 555.1,1622.5 556.6,1622.5 558.1,1622.5 559.6,1622.5 561.1,1622.6 562.6,1622.7 564.1,1622.9 565.6,1623.1 567.1,1623.4 568.6,1623.7 570.1,1624 571.6,1624.4 573.1,1624.8 574.6,1625.2 576.1,1625.6 577.6,1626.1 579.1,1626.6 580.6,1627.3 582.1,1628.1 583.6,1629 585.1,1630 586.6,1631 588.1,1632.2 589.6,1633.3 591.1,1634.6 592.6,1635.8 594.1,1637.1 595.6,1638.3 597.1,1639.6 598.6,1640.8 600.1,1642.1 601.6,1643.4 603.1,1644.7 604.6,1646.1 606.1,1647.5 607.6,1649 609.1,1650.6 610.6,1652.1 612.1,1653.8 613.6,1655.4 615.1,1657.2 616.6,1658.9 618.1,1660.8 619.6,1662.8 621.1,1664.9 622.6,1667 624.1,1669.3 625.6,1671.6 627.1,1673.9 628.6,1676.3 630.1,1678.7 631.6,1681.1 633.1,1683.4 634.6,1685.8 636.1,1688.1 637.6,1690.4 639.1,1692.7 640.6,1695 642.1,1697.3 643.6,1699.7 645.1,1702.1 646.6,1704.4 648.1,1706.8 649.6,1709.1 651.1,1711.4 652.6,1713.7 654.1,1715.9 655.6,1718 657.1,1720 658.6,1722 660.1,1723.9 661.6,1725.8 663.1,1727.7 664.6,1729.6 666.1,1731.4 667.6,1733.2 669.1,1734.9 670.6,1736.6 672.1,1738.2 673.6,1739.8 675.1,1741.3 676.6,1742.8 678.1,1744.2 679.6,1745.5 681.1,1746.7 682.6,1747.9 684.1,1749.1 685.6,1750.2 687.1,1751.3 688.6,1752.4 690.1,1753.4 691.6,1754.4 693.1,1755.4 694.6,1756.4 696.1,1757.3 697.6,1758.1 699.1,1759 700.6,1759.8 702.1,1760.6 703.6,1761.4 705.1,1762.1 706.6,1762.8 708.1,1763.5 709.6,1764.2 711.1,1764.9 712.6,1765.6 714.1,1766.2 715.6,1766.8 717.1,1767.5 718.6,1768 720.1,1768.6 721.6,1769.1 723.1,1769.7 724.6,1770.2 726.1,1770.6 727.6,1771.1 729.1,1771.5 730.6,1771.9 732.1,1772.3 733.6,1772.7 735.1,1773.1 736.6,1773.4 738.1,1773.8 739.6,1774.1 741.1,1774.5 742.6,1774.8 744.1,1775.1 745.6,1775.4 747.1,1775.7 748.6,1776 750.1,1776.3 751.6,1776.6 753.1,1776.9 754.6,1777.1 756.1,1777.4 757.6,1777.7 759.1,1777.9 760.6,1778.1 762.1,1778.4 763.6,1778.6 765.1,1778.8 766.6,1779 768.1,1779.2 769.6,1779.4 771.1,1779.7 772.6,1779.9 774.1,1780.1 775.6,1780.3 777.1,1780.5 778.6,1780.7 780.1,1780.9 781.6,1781 783.1,1781.2 784.6,1781.4 786.1,1781.6 787.6,1781.8 789.1,1782 790.6,1782.2 792.1,1782.3 793.6,1782.5 795.1,1782.7 796.6,1782.8 798.1,1783 799.6,1783.1 801.1,1783.3 802.6,1783.4 804.1,1783.6 805.6,1783.7 807.1,1783.8 808.6,1783.9 810.1,1784 811.6,1784.1 813.1,1784.2 814.6,1784.3 816.1,1784.4 817.6,1784.5 819.1,1784.5 820.6,1784.6 822.1,1784.6 823.6,1784.7 825.1,1784.7 826.6,1784.8 828.1,1784.8 829.6,1784.9 831.1,1784.9 832.6,1785 834.1,1785 835.6,1785.1 837.1,1785.1 838.6,1785.2 840.1,1785.2 841.6,1785.2 843.1,1785.3 844.6,1785.3 846.1,1785.4 847.6,1785.4 849.1,1785.5 850.6,1785.5 852.1,1785.5 853.6,1785.6 855.1,1785.6 856.6,1785.7 858.1,1785.7 859.6,1785.7 861.1,1785.8 862.6,1785.8 864.1,1785.8 865.6,1785.9 867.1,1785.9 868.6,1785.9 870.1,1786 871.6,1786 873.1,1786.1 874.6,1786.1 876.1,1786.1 877.6,1786.2 879.1,1786.2 880.6,1786.2 882.1,1786.2 883.6,1786.3 885.1,1786.3 886.6,1786.3 888.1,1786.4 889.6,1786.4 891.1,1786.4 892.6,1786.5 894.1,1786.5 895.6,1786.5 897.1,1786.5 898.6,1786.6 900.1,1786.6 901.6,1786.6 903.1,1786.6 904.6,1786.7 906.1,1786.7 907.6,1786.7 909.1,1786.7 910.6,1786.7 912.1,1786.8 913.6,1786.8 915.1,1786.8 916.6,1786.8 918.1,1786.8 919.6,1786.9 921.1,1786.9 922.6,1786.9 924.1,1786.9 925.6,1786.9 927.1,1787 928.6,1787 930.1,1787 931.6,1787 933.1,1787 934.6,1787 936.1,1787 937.6,1787.1 939.1,1787.1 940.6,1787.1 942.1,1787.1 943.6,1787.1 945.1,1787.1 946.6,1787.1 948.1,1787.1 949.6,1787.1 951.1,1787.1 952.6,1787.2 954.1,1787.2 955.6,1787.2 957.1,1787.2 958.6,1787.2 960.1,1787.2 961.6,1787.2 963.1,1787.2 964.6,1787.2 966.1,1787.2 967.6,1787.2 969.1,1787.2 970.6,1787.2 972.1,1787.2 973,1787.2" fill="none" stroke="#f28a1e" stroke-width="3.4" stroke-linejoin="round" stroke-linecap="round"/>
<rect x="116.8" y="965.8" width="858.2" height="233.2" fill="none" stroke="#000" stroke-width="3.2"/>
<text x="116.8" y="1225.6" font-size="20" text-anchor="middle">718</text>
<line x1="178.1" y1="1199" x2="178.1" y2="1194.5" stroke="#000" stroke-width="3.0" stroke-linecap="butt"/>
<line x1="239.4" y1="1199" x2="239.4" y2="1189.7" stroke="#000" stroke-width="3.0" stroke-linecap="butt"/>
<text x="239.4" y="1225.6" font-size="20" text-anchor="middle">716</text>
<line x1="300.7" y1="1199" x2="300.7" y2="1194.5" stroke="#000" stroke-width="3.0" stroke-linecap="butt"/>
<line x1="362" y1="1199" x2="362" y2="1189.7" stroke="#000" stroke-width="3.0" stroke-linecap="butt"/>
<text x="362" y="1225.6" font-size="20" text-anchor="middle">714</text>
<line x1="423.3" y1="1199" x2="423.3" y2="1194.5" stroke="#000" stroke-width="3.0" stroke-linecap="butt"/>
<line x1="484.6" y1="1199" x2="484.6" y2="1189.7" stroke="#000" stroke-width="3.0" stroke-linecap="butt"/>
<text x="484.6" y="1225.6" font-size="20" text-anchor="middle">712</text>
<line x1="545.9" y1="1199" x2="545.9" y2="1194.5" stroke="#000" stroke-width="3.0" stroke-linecap="butt"/>
<line x1="607.2" y1="1199" x2="607.2" y2="1189.7" stroke="#000" stroke-width="3.0" stroke-linecap="butt"/>
<text x="607.2" y="1225.6" font-size="20" text-anchor="middle">710</text>
<line x1="668.5" y1="1199" x2="668.5" y2="1194.5" stroke="#000" stroke-width="3.0" stroke-linecap="butt"/>
<line x1="729.8" y1="1199" x2="729.8" y2="1189.7" stroke="#000" stroke-width="3.0" stroke-linecap="butt"/>
<text x="729.8" y="1225.6" font-size="20" text-anchor="middle">708</text>
<line x1="791.1" y1="1199" x2="791.1" y2="1194.5" stroke="#000" stroke-width="3.0" stroke-linecap="butt"/>
<line x1="852.4" y1="1199" x2="852.4" y2="1189.7" stroke="#000" stroke-width="3.0" stroke-linecap="butt"/>
<text x="852.4" y="1225.6" font-size="20" text-anchor="middle">706</text>
<line x1="913.7" y1="1199" x2="913.7" y2="1194.5" stroke="#000" stroke-width="3.0" stroke-linecap="butt"/>
<text x="975" y="1225.6" font-size="20" text-anchor="middle">704</text>
<text x="546" y="1251.6" font-size="22" text-anchor="middle">Binding Energy, eV</text>
<rect x="116.8" y="1279.6" width="858.2" height="232.8" fill="none" stroke="#000" stroke-width="3.2"/>
<text x="116.8" y="1539.3" font-size="20" text-anchor="middle">718</text>
<line x1="178.1" y1="1512.4" x2="178.1" y2="1507.9" stroke="#000" stroke-width="3.0" stroke-linecap="butt"/>
<line x1="239.4" y1="1512.4" x2="239.4" y2="1503.1" stroke="#000" stroke-width="3.0" stroke-linecap="butt"/>
<text x="239.4" y="1539.3" font-size="20" text-anchor="middle">716</text>
<line x1="300.7" y1="1512.4" x2="300.7" y2="1507.9" stroke="#000" stroke-width="3.0" stroke-linecap="butt"/>
<line x1="362" y1="1512.4" x2="362" y2="1503.1" stroke="#000" stroke-width="3.0" stroke-linecap="butt"/>
<text x="362" y="1539.3" font-size="20" text-anchor="middle">714</text>
<line x1="423.3" y1="1512.4" x2="423.3" y2="1507.9" stroke="#000" stroke-width="3.0" stroke-linecap="butt"/>
<line x1="484.6" y1="1512.4" x2="484.6" y2="1503.1" stroke="#000" stroke-width="3.0" stroke-linecap="butt"/>
<text x="484.6" y="1539.3" font-size="20" text-anchor="middle">712</text>
<line x1="545.9" y1="1512.4" x2="545.9" y2="1507.9" stroke="#000" stroke-width="3.0" stroke-linecap="butt"/>
<line x1="607.2" y1="1512.4" x2="607.2" y2="1503.1" stroke="#000" stroke-width="3.0" stroke-linecap="butt"/>
<text x="607.2" y="1539.3" font-size="20" text-anchor="middle">710</text>
<line x1="668.5" y1="1512.4" x2="668.5" y2="1507.9" stroke="#000" stroke-width="3.0" stroke-linecap="butt"/>
<line x1="729.8" y1="1512.4" x2="729.8" y2="1503.1" stroke="#000" stroke-width="3.0" stroke-linecap="butt"/>
<text x="729.8" y="1539.3" font-size="20" text-anchor="middle">708</text>
<line x1="791.1" y1="1512.4" x2="791.1" y2="1507.9" stroke="#000" stroke-width="3.0" stroke-linecap="butt"/>
<line x1="852.4" y1="1512.4" x2="852.4" y2="1503.1" stroke="#000" stroke-width="3.0" stroke-linecap="butt"/>
<text x="852.4" y="1539.3" font-size="20" text-anchor="middle">706</text>
<line x1="913.7" y1="1512.4" x2="913.7" y2="1507.9" stroke="#000" stroke-width="3.0" stroke-linecap="butt"/>
<text x="975" y="1539.3" font-size="20" text-anchor="middle">704</text>
<text x="546" y="1575.9" font-size="22" text-anchor="middle">Binding Energy, eV</text>
<rect x="116.8" y="1587.5" width="858.2" height="232.8" fill="none" stroke="#000" stroke-width="3.2"/>
<text x="116.8" y="1847.5" font-size="20" text-anchor="middle">718</text>
<line x1="178.1" y1="1820.3" x2="178.1" y2="1815.8" stroke="#000" stroke-width="3.0" stroke-linecap="butt"/>
<line x1="239.4" y1="1820.3" x2="239.4" y2="1811" stroke="#000" stroke-width="3.0" stroke-linecap="butt"/>
<text x="239.4" y="1847.5" font-size="20" text-anchor="middle">716</text>
<line x1="300.7" y1="1820.3" x2="300.7" y2="1815.8" stroke="#000" stroke-width="3.0" stroke-linecap="butt"/>
<line x1="362" y1="1820.3" x2="362" y2="1811" stroke="#000" stroke-width="3.0" stroke-linecap="butt"/>
<text x="362" y="1847.5" font-size="20" text-anchor="middle">714</text>
<line x1="423.3" y1="1820.3" x2="423.3" y2="1815.8" stroke="#000" stroke-width="3.0" stroke-linecap="butt"/>
<line x1="484.6" y1="1820.3" x2="484.6" y2="1811" stroke="#000" stroke-width="3.0" stroke-linecap="butt"/>
<text x="484.6" y="1847.5" font-size="20" text-anchor="middle">712</text>
<line x1="545.9" y1="1820.3" x2="545.9" y2="1815.8" stroke="#000" stroke-width="3.0" stroke-linecap="butt"/>
<line x1="607.2" y1="1820.3" x2="607.2" y2="1811" stroke="#000" stroke-width="3.0" stroke-linecap="butt"/>
<text x="607.2" y="1847.5" font-size="20" text-anchor="middle">710</text>
<line x1="668.5" y1="1820.3" x2="668.5" y2="1815.8" stroke="#000" stroke-width="3.0" stroke-linecap="butt"/>
<line x1="729.8" y1="1820.3" x2="729.8" y2="1811" stroke="#000" stroke-width="3.0" stroke-linecap="butt"/>
<text x="729.8" y="1847.5" font-size="20" text-anchor="middle">708</text>
<line x1="791.1" y1="1820.3" x2="791.1" y2="1815.8" stroke="#000" stroke-width="3.0" stroke-linecap="butt"/>
<line x1="852.4" y1="1820.3" x2="852.4" y2="1811" stroke="#000" stroke-width="3.0" stroke-linecap="butt"/>
<text x="852.4" y="1847.5" font-size="20" text-anchor="middle">706</text>
<line x1="913.7" y1="1820.3" x2="913.7" y2="1815.8" stroke="#000" stroke-width="3.0" stroke-linecap="butt"/>
<text x="975" y="1847.5" font-size="20" text-anchor="middle">704</text>
<text x="546" y="1882.9" font-size="22" text-anchor="middle">Binding Energy, eV</text>
<line x1="116.8" y1="991" x2="125.6" y2="991" stroke="#000" stroke-width="3.0" stroke-linecap="butt"/>
<line x1="116.8" y1="1043.2" x2="125.6" y2="1043.2" stroke="#000" stroke-width="3.0" stroke-linecap="butt"/>
<line x1="116.8" y1="1095.4" x2="125.6" y2="1095.4" stroke="#000" stroke-width="3.0" stroke-linecap="butt"/>
<line x1="116.8" y1="1147.1" x2="125.6" y2="1147.1" stroke="#000" stroke-width="3.0" stroke-linecap="butt"/>
<line x1="116.8" y1="1017.2" x2="121.4" y2="1017.2" stroke="#000" stroke-width="3.0" stroke-linecap="butt"/>
<line x1="116.8" y1="1069.2" x2="121.4" y2="1069.2" stroke="#000" stroke-width="3.0" stroke-linecap="butt"/>
<line x1="116.8" y1="1120.9" x2="121.4" y2="1120.9" stroke="#000" stroke-width="3.0" stroke-linecap="butt"/>
<line x1="116.8" y1="1173.1" x2="121.4" y2="1173.1" stroke="#000" stroke-width="3.0" stroke-linecap="butt"/>
<line x1="116.8" y1="1354.7" x2="125.6" y2="1354.7" stroke="#000" stroke-width="3.0" stroke-linecap="butt"/>
<line x1="116.8" y1="1430" x2="125.6" y2="1430" stroke="#000" stroke-width="3.0" stroke-linecap="butt"/>
<line x1="116.8" y1="1505.3" x2="125.6" y2="1505.3" stroke="#000" stroke-width="3.0" stroke-linecap="butt"/>
<line x1="116.8" y1="1316.9" x2="121.4" y2="1316.9" stroke="#000" stroke-width="3.0" stroke-linecap="butt"/>
<line x1="116.8" y1="1392" x2="121.4" y2="1392" stroke="#000" stroke-width="3.0" stroke-linecap="butt"/>
<line x1="116.8" y1="1468" x2="121.4" y2="1468" stroke="#000" stroke-width="3.0" stroke-linecap="butt"/>
<line x1="116.8" y1="1618.1" x2="125.6" y2="1618.1" stroke="#000" stroke-width="3.0" stroke-linecap="butt"/>
<line x1="116.8" y1="1670.4" x2="125.6" y2="1670.4" stroke="#000" stroke-width="3.0" stroke-linecap="butt"/>
<line x1="116.8" y1="1722" x2="125.6" y2="1722" stroke="#000" stroke-width="3.0" stroke-linecap="butt"/>
<line x1="116.8" y1="1774.3" x2="125.6" y2="1774.3" stroke="#000" stroke-width="3.0" stroke-linecap="butt"/>
<line x1="116.8" y1="1591.9" x2="121.4" y2="1591.9" stroke="#000" stroke-width="3.0" stroke-linecap="butt"/>
<line x1="116.8" y1="1644.4" x2="121.4" y2="1644.4" stroke="#000" stroke-width="3.0" stroke-linecap="butt"/>
<line x1="116.8" y1="1696.4" x2="121.4" y2="1696.4" stroke="#000" stroke-width="3.0" stroke-linecap="butt"/>
<line x1="116.8" y1="1748" x2="121.4" y2="1748" stroke="#000" stroke-width="3.0" stroke-linecap="butt"/>
<line x1="116.8" y1="1799.7" x2="121.4" y2="1799.7" stroke="#000" stroke-width="3.0" stroke-linecap="butt"/>
<text x="94.9" y="1082.4" font-size="29.1" text-anchor="middle" transform="rotate(-90 94.9 1082.4)">Intensity, a.u.</text>
<text x="94.9" y="1396.8" font-size="29.1" text-anchor="middle" transform="rotate(-90 94.9 1396.8)">Intensity, a.u.</text>
<text x="94.9" y="1704.4" font-size="29.1" text-anchor="middle" transform="rotate(-90 94.9 1704.4)">Intensity, a.u.</text>
<rect x="151.6" y="1126.5" width="33.9" height="45.2" fill="#000"/>
<rect x="147.4" y="1122.3" width="33.9" height="45.2" fill="#fff" stroke="#bdbdbd" stroke-width="1"/>
<text x="164.4" y="1156.4" font-size="33" text-anchor="middle">Q</text>
<rect x="149.6" y="1441.5" width="55.7" height="44.4" fill="#000"/>
<rect x="145.4" y="1437.3" width="55.7" height="44.4" fill="#fff" stroke="#bdbdbd" stroke-width="1"/>
<text x="173.2" y="1471" font-size="33" text-anchor="middle">QT</text>
<rect x="155.8" y="1736.7" width="77.7" height="43.8" fill="#000"/>
<rect x="151.6" y="1732.5" width="77.7" height="43.8" fill="#fff" stroke="#bdbdbd" stroke-width="1"/>
<text x="190.4" y="1765.9" font-size="33" text-anchor="middle">QLT</text>
<text x="254.2" y="1010.7" font-size="22"><tspan font-size="22">FeOOH</tspan></text>
<line x1="352.1" y1="1016.1" x2="384.5" y2="1028.9" stroke="#000" stroke-width="2.2" stroke-linecap="butt"/>
<polygon points="405.9,1037.3 380.3,1034.2 385,1022.1" fill="#000"/>
<text x="710.3" y="1054.9" font-size="22"><tspan font-size="22">NiFe</tspan><tspan font-size="14" dy="5">2</tspan><tspan font-size="22" dy="-5">O</tspan><tspan font-size="14" dy="5">4</tspan></text>
<line x1="697.2" y1="1051" x2="652.2" y2="1063.3" stroke="#000" stroke-width="2.2" stroke-linecap="butt"/>
<polygon points="630,1069.3 652.4,1056.5 655.8,1069" fill="#000"/>
<text x="282.4" y="1356" font-size="22"><tspan font-size="22">FeOOH</tspan></text>
<line x1="353" y1="1358.8" x2="386.8" y2="1372.3" stroke="#000" stroke-width="2.2" stroke-linecap="butt"/>
<polygon points="408.1,1380.9 382.5,1377.6 387.3,1365.6" fill="#000"/>
<text x="721.3" y="1380.1" font-size="22"><tspan font-size="22">NiFe</tspan><tspan font-size="14" dy="5">2</tspan><tspan font-size="22" dy="-5">O</tspan><tspan font-size="14" dy="5">4</tspan></text>
<line x1="708.2" y1="1376.7" x2="664.3" y2="1388.4" stroke="#000" stroke-width="2.2" stroke-linecap="butt"/>
<polygon points="642.1,1394.3 664.6,1381.6 667.9,1394.1" fill="#000"/>
<text x="310.6" y="1633.7" font-size="22"><tspan font-size="22">FeOOH</tspan></text>
<line x1="377" y1="1643.5" x2="410" y2="1655.8" stroke="#000" stroke-width="2.2" stroke-linecap="butt"/>
<polygon points="431.5,1663.9 405.8,1661.2 410.4,1649" fill="#000"/>
<text x="711.3" y="1684.9" font-size="22"><tspan font-size="22">NiFe</tspan><tspan font-size="14" dy="5">2</tspan><tspan font-size="22" dy="-5">O</tspan><tspan font-size="14" dy="5">4</tspan></text>
<line x1="701.6" y1="1684.4" x2="657.6" y2="1695.6" stroke="#000" stroke-width="2.2" stroke-linecap="butt"/>
<polygon points="635.3,1701.2 657.9,1688.8 661.1,1701.4" fill="#000"/>
<text x="2.5" y="1003" font-size="46" text-anchor="start">(c)</text>
<rect x="1121" y="966.5" width="861" height="219.1" fill="#fdfdfd"/>
<rect x="1121" y="1281.5" width="861" height="219.4" fill="#fdfdfd"/>
<rect x="1121" y="1597.4" width="861" height="218.6" fill="#fdfdfd"/>
<polyline points="1121.3,1098.3 1128.4,1146.3 1134.6,1094 1141.1,1091.8 1146.7,1081.3 1153.2,1108.1 1159.4,1116.1 1165.7,1110.4 1171.6,1109.6 1177.8,1103.1 1184.3,1113.2 1190.5,1112.4 1196.2,1080.8 1202.4,1087.8 1208.9,1072.8 1215.1,1098.3 1221,1062.4 1227.2,1068 1233.4,1111.5 1239.1,1082.2 1245.6,1086.1 1251.8,1100.5 1257.7,1101.1 1263.9,1096.8 1270.1,1111.5 1276.1,1083.3 1282.3,1094.6 1288.5,1096.3 1294.4,1080.5 1300.6,1091.8 1306.9,1088.9 1312.8,1068 1319,1065.8 1325.5,1088.4 1331.7,1084.1 1337.9,1099.1 1343.8,1095.4 1350.1,1108.1 1356.3,1096.8 1362.2,1089.2 1368.4,1088.4 1374.6,1086.4 1380.6,1091.2 1386.8,1091.2 1393,1074.3 1398.6,1055.9 1405.1,1091.2 1411.3,1067.2 1417.3,1057.9 1423.5,1072 1429.7,1070.9 1435.6,1077.6 1442.3,1055.2 1448.5,1058.9 1454.1,1036.3 1460.4,1051.8 1466.9,1045.6 1472.5,1080.7 1478.8,1083.5 1484.7,1114.9 1490.9,1059.8 1497.1,1066 1503.7,1036.3 1509.9,1079.6 1515.8,1070.2 1522,1071.6 1528.3,1092 1534.2,1069.4 1540.4,1088.6 1546.9,1077.9 1553.2,1092 1558.8,1091.5 1565,1063.7 1571,1075.3 1577.2,1070.2 1583.4,1107.9 1589.4,1102.8 1595.6,1088.1 1601.8,1068.8 1608.3,1107 1614,1059.8 1620.2,1062.6 1626.2,1089.2 1632.4,1101.4 1638.6,1084.4 1644.5,1063.7 1650.8,1063.7 1657,1097.1 1663.5,1067.4 1669.2,1070.2 1675.4,1066 1681.3,1048.5 1688.1,1080.7 1694,1060.9 1700.3,1068.8 1706.5,1074.5 1712.4,1076.7 1718.7,1083.5 1724.9,1078.7 1730.8,1066.6 1737,1041.1 1743.3,1088.1 1749.2,1077.3 1755.4,1056.7 1761.7,1079.6 1767.6,1053.3 1773.8,1054.1 1780.1,1072.5 1786,1069.4 1792.2,1075.9 1798.4,1043.9 1804.4,1051.3 1810.6,1057.5 1816.8,1066.8 1822.8,1083 1829,1085.2 1835.2,1085.8 1841.2,1078.7 1847.4,1070.2 1853.6,1056.1 1860.1,1076.7 1866.3,1056.1 1872.3,1082.1 1878.5,1078.7 1884.7,1088.1 1890.7,1051 1896.9,1047.6 1903.1,1056.9 1909.1,1056.9 1915.3,1058.9 1921.5,1098.5 1927.4,1105.6 1933.7,1061.7 1939.9,1075.9 1946.4,1088.6 1952.1,1085.2 1958.3,1089.2 1964.2,1061.7 1970.4,1056.9 1977,1083 1980.9,1063.2" fill="none" stroke="#000" stroke-width="3.0" stroke-linejoin="round" stroke-linecap="round"/>
<polyline points="1121.3,1344.2 1128.4,1411.1 1134.6,1402.6 1141.1,1380 1146.7,1395.6 1153.2,1354.6 1159.4,1398.9 1165.7,1412.5 1171.6,1378.6 1177.8,1336.2 1184.3,1406.8 1190.5,1373 1196.2,1417.6 1202.4,1430 1208.9,1381.4 1214.5,1345.3 1221,1353.8 1227.2,1363.1 1233.4,1350.4 1239.1,1352.6 1245.6,1389.9 1251.8,1375.2 1257.7,1408.3 1263.9,1375.2 1270.1,1366.7 1276.1,1370.7 1282.3,1345.3 1288.5,1415.9 1294.4,1398.4 1300.6,1366.7 1306.9,1401.8 1312.8,1416.7 1319,1363.1 1325.5,1365.1 1331.7,1375.2 1337.9,1378.6 1343.8,1329.2 1350.1,1401.2 1356.3,1413.1 1362.2,1330.6 1368.4,1375.8 1374.6,1423.2 1380.6,1391.3 1386.8,1404.6 1393,1347.5 1398.9,1325.5 1405.1,1353.2 1411.3,1400.6 1417.3,1395.6 1423.5,1368.7 1429.7,1389.9 1435.6,1353.2 1442.8,1364.1 1448.5,1381.6 1454.1,1412.8 1460.4,1361.3 1466.9,1362.4 1473.1,1382.2 1479,1353.9 1484.7,1325.6 1490.9,1361.8 1497.4,1350 1503.7,1378.3 1509.9,1342.6 1515.8,1317.1 1522,1309.5 1528.3,1335 1534.2,1374.6 1540.4,1342 1546.7,1335.8 1552.6,1362.4 1558.8,1417.9 1565,1346.3 1571,1378.3 1577.2,1350.5 1583.4,1333 1589.4,1351.1 1595.6,1333.6 1601.8,1349.1 1608.3,1310.4 1614,1350 1620.2,1400.9 1626.2,1353.9 1632.4,1386.7 1638.6,1357.6 1644.5,1348.3 1650.8,1377.4 1657,1333 1663.5,1359 1669.2,1316.6 1675.4,1337 1681.3,1388.7 1688.1,1322.8 1694,1370.9 1700.3,1320.8 1706.5,1342.6 1712.4,1340.6 1718.7,1357.6 1724.9,1390.7 1730.8,1376 1737,1325.1 1743.3,1330.7 1749.2,1349.1 1755.4,1375.4 1761.7,1348.3 1767.6,1393.5 1773.8,1382.2 1780.1,1361.8 1786,1344.9 1792.2,1378.8 1798.4,1409.4 1804.4,1419 1810.6,1356.2 1816.8,1381.1 1822.8,1370.3 1829,1351.9 1835.2,1344.9 1841.2,1346.3 1847.4,1343.5 1853.6,1365.2 1860.1,1334.1 1866.3,1344.9 1872.3,1378.3 1878.5,1376 1884.7,1347.1 1890.7,1352.8 1896.9,1328.5 1903.1,1385 1909.1,1350 1915.3,1360.4 1921.5,1401.5 1927.4,1366.1 1933.7,1369.8 1939.9,1400.9 1946.4,1365.2 1952.1,1320 1958.3,1361.8 1964.2,1391.6 1970.4,1370.3 1977,1322.2 1980.9,1324.5" fill="none" stroke="#000" stroke-width="3.0" stroke-linejoin="round" stroke-linecap="round"/>
<polyline points="1121.3,1721.2 1128.4,1771.5 1134.6,1711.3 1141.1,1715 1146.7,1712.2 1153.2,1708.5 1159.4,1669 1165.7,1738.7 1171.6,1675.5 1177.8,1733.9 1184.3,1753.7 1190.5,1680.3 1196.2,1721.2 1202.4,1788.4 1208.3,1732.5 1214.5,1742.4 1221,1746.6 1227.2,1736.7 1233.4,1714.1 1239.1,1691.5 1245.6,1685.9 1251.8,1673.2 1257.7,1705.7 1263.9,1738.1 1270.1,1733.9 1276.1,1700.9 1282.3,1742.4 1288.5,1707.6 1294.4,1715 1300.6,1780.5 1306.9,1733.9 1312.8,1712.2 1319,1746.6 1325.5,1726.8 1331.7,1740.4 1337.9,1722.6 1343.8,1678.3 1350.1,1678.3 1356.3,1673.2 1362.2,1698 1368.4,1745.2 1374.6,1733.9 1380.6,1707.1 1386.8,1707.6 1393,1697.2 1398.9,1698 1405.1,1707.1 1411.3,1753.7 1417.3,1727.4 1423.5,1744.4 1429.7,1678.8 1435.6,1643.5 1442.3,1702.2 1448.5,1688.9 1454.1,1621.9 1460.4,1693.7 1466.9,1679.6 1473.1,1729.9 1479,1737.9 1484.7,1693.7 1490.9,1725.7 1497.4,1690.3 1503.7,1654.1 1509.9,1711.6 1515.8,1667.1 1522,1708.7 1528.3,1693.7 1534.2,1698.8 1540.4,1688.9 1546.7,1675.6 1552.6,1694.6 1558.8,1722 1565,1700.2 1571,1679.6 1577.2,1681.8 1583.4,1710.7 1589.4,1696 1595.6,1685.2 1601.8,1661.5 1608.3,1677.6 1614,1735 1620.2,1690.9 1626.2,1671.9 1632.4,1704.5 1638.6,1703.1 1644.5,1707.9 1650.8,1704.5 1657,1702.2 1663.5,1692.6 1669.2,1751.2 1675.4,1707.3 1681.3,1698.3 1688.1,1679.6 1694,1672.8 1700.3,1715.8 1706.5,1696 1712.4,1677.6 1718.7,1699.4 1724.9,1641.7 1730.8,1667.7 1737,1711.6 1743.3,1722.9 1749.2,1681.3 1755.4,1667.1 1761.7,1693.7 1767.6,1685.2 1773.8,1638 1780.1,1712.4 1786,1680.4 1792.2,1662.6 1798.4,1646.5 1804.4,1663.5 1810.6,1641.7 1816.8,1657.8 1822.8,1686.9 1829,1695.4 1835.2,1696 1841.2,1670.5 1847.4,1664.9 1853.6,1666.3 1860.1,1673.9 1866.3,1696.6 1872.3,1720 1878.5,1698.8 1884.7,1679.6 1890.7,1691.7 1896.9,1694.6 1903.1,1699.4 1909.1,1688.1 1915.3,1683.3 1921.5,1730.5 1927.4,1686.1 1933.7,1727.1 1939.9,1744.7 1946.4,1719.2 1952.1,1693.7 1958.3,1686.1 1964.2,1713.5 1970.4,1720 1977,1652.1 1980.9,1693.2" fill="none" stroke="#000" stroke-width="3.0" stroke-linejoin="round" stroke-linecap="round"/>
<rect x="1121" y="966.5" width="861" height="219.1" fill="none" stroke="#000" stroke-width="3.4"/>
<text x="1121" y="1212.5" font-size="20" text-anchor="middle">584</text>
<line x1="1182.5" y1="1185.6" x2="1182.5" y2="1181" stroke="#000" stroke-width="3.0" stroke-linecap="butt"/>
<line x1="1244" y1="1185.6" x2="1244" y2="1176.3" stroke="#000" stroke-width="3.0" stroke-linecap="butt"/>
<text x="1244" y="1212.5" font-size="20" text-anchor="middle">582</text>
<line x1="1305.5" y1="1185.6" x2="1305.5" y2="1181" stroke="#000" stroke-width="3.0" stroke-linecap="butt"/>
<line x1="1367" y1="1185.6" x2="1367" y2="1176.3" stroke="#000" stroke-width="3.0" stroke-linecap="butt"/>
<text x="1367" y="1212.5" font-size="20" text-anchor="middle">580</text>
<line x1="1428.5" y1="1185.6" x2="1428.5" y2="1181" stroke="#000" stroke-width="3.0" stroke-linecap="butt"/>
<line x1="1490" y1="1185.6" x2="1490" y2="1176.3" stroke="#000" stroke-width="3.0" stroke-linecap="butt"/>
<text x="1490" y="1212.5" font-size="20" text-anchor="middle">578</text>
<line x1="1551.5" y1="1185.6" x2="1551.5" y2="1181" stroke="#000" stroke-width="3.0" stroke-linecap="butt"/>
<line x1="1613" y1="1185.6" x2="1613" y2="1176.3" stroke="#000" stroke-width="3.0" stroke-linecap="butt"/>
<text x="1613" y="1212.5" font-size="20" text-anchor="middle">576</text>
<line x1="1674.5" y1="1185.6" x2="1674.5" y2="1181" stroke="#000" stroke-width="3.0" stroke-linecap="butt"/>
<line x1="1736" y1="1185.6" x2="1736" y2="1176.3" stroke="#000" stroke-width="3.0" stroke-linecap="butt"/>
<text x="1736" y="1212.5" font-size="20" text-anchor="middle">574</text>
<line x1="1797.5" y1="1185.6" x2="1797.5" y2="1181" stroke="#000" stroke-width="3.0" stroke-linecap="butt"/>
<line x1="1859" y1="1185.6" x2="1859" y2="1176.3" stroke="#000" stroke-width="3.0" stroke-linecap="butt"/>
<text x="1859" y="1212.5" font-size="20" text-anchor="middle">572</text>
<line x1="1920.5" y1="1185.6" x2="1920.5" y2="1181" stroke="#000" stroke-width="3.0" stroke-linecap="butt"/>
<text x="1982" y="1212.5" font-size="20" text-anchor="middle">570</text>
<text x="1551.5" y="1247.6" font-size="22" text-anchor="middle">Binding Energy, eV</text>
<rect x="1121" y="1281.5" width="861" height="219.4" fill="none" stroke="#000" stroke-width="3.4"/>
<text x="1121" y="1527.3" font-size="20" text-anchor="middle">584</text>
<line x1="1182.5" y1="1500.9" x2="1182.5" y2="1496.3" stroke="#000" stroke-width="3.0" stroke-linecap="butt"/>
<line x1="1244" y1="1500.9" x2="1244" y2="1491.6" stroke="#000" stroke-width="3.0" stroke-linecap="butt"/>
<text x="1244" y="1527.3" font-size="20" text-anchor="middle">582</text>
<line x1="1305.5" y1="1500.9" x2="1305.5" y2="1496.3" stroke="#000" stroke-width="3.0" stroke-linecap="butt"/>
<line x1="1367" y1="1500.9" x2="1367" y2="1491.6" stroke="#000" stroke-width="3.0" stroke-linecap="butt"/>
<text x="1367" y="1527.3" font-size="20" text-anchor="middle">580</text>
<line x1="1428.5" y1="1500.9" x2="1428.5" y2="1496.3" stroke="#000" stroke-width="3.0" stroke-linecap="butt"/>
<line x1="1490" y1="1500.9" x2="1490" y2="1491.6" stroke="#000" stroke-width="3.0" stroke-linecap="butt"/>
<text x="1490" y="1527.3" font-size="20" text-anchor="middle">578</text>
<line x1="1551.5" y1="1500.9" x2="1551.5" y2="1496.3" stroke="#000" stroke-width="3.0" stroke-linecap="butt"/>
<line x1="1613" y1="1500.9" x2="1613" y2="1491.6" stroke="#000" stroke-width="3.0" stroke-linecap="butt"/>
<text x="1613" y="1527.3" font-size="20" text-anchor="middle">576</text>
<line x1="1674.5" y1="1500.9" x2="1674.5" y2="1496.3" stroke="#000" stroke-width="3.0" stroke-linecap="butt"/>
<line x1="1736" y1="1500.9" x2="1736" y2="1491.6" stroke="#000" stroke-width="3.0" stroke-linecap="butt"/>
<text x="1736" y="1527.3" font-size="20" text-anchor="middle">574</text>
<line x1="1797.5" y1="1500.9" x2="1797.5" y2="1496.3" stroke="#000" stroke-width="3.0" stroke-linecap="butt"/>
<line x1="1859" y1="1500.9" x2="1859" y2="1491.6" stroke="#000" stroke-width="3.0" stroke-linecap="butt"/>
<text x="1859" y="1527.3" font-size="20" text-anchor="middle">572</text>
<line x1="1920.5" y1="1500.9" x2="1920.5" y2="1496.3" stroke="#000" stroke-width="3.0" stroke-linecap="butt"/>
<text x="1982" y="1527.3" font-size="20" text-anchor="middle">570</text>
<text x="1551.5" y="1562.7" font-size="22" text-anchor="middle">Binding Energy, eV</text>
<rect x="1121" y="1597.4" width="861" height="218.6" fill="none" stroke="#000" stroke-width="3.4"/>
<text x="1121" y="1845.7" font-size="24" text-anchor="middle">584</text>
<line x1="1182.5" y1="1816" x2="1182.5" y2="1811.4" stroke="#000" stroke-width="3.0" stroke-linecap="butt"/>
<line x1="1244" y1="1816" x2="1244" y2="1806.7" stroke="#000" stroke-width="3.0" stroke-linecap="butt"/>
<text x="1244" y="1845.7" font-size="24" text-anchor="middle">582</text>
<line x1="1305.5" y1="1816" x2="1305.5" y2="1811.4" stroke="#000" stroke-width="3.0" stroke-linecap="butt"/>
<line x1="1367" y1="1816" x2="1367" y2="1806.7" stroke="#000" stroke-width="3.0" stroke-linecap="butt"/>
<text x="1367" y="1845.7" font-size="24" text-anchor="middle">580</text>
<line x1="1428.5" y1="1816" x2="1428.5" y2="1811.4" stroke="#000" stroke-width="3.0" stroke-linecap="butt"/>
<line x1="1490" y1="1816" x2="1490" y2="1806.7" stroke="#000" stroke-width="3.0" stroke-linecap="butt"/>
<text x="1490" y="1845.7" font-size="24" text-anchor="middle">578</text>
<line x1="1551.5" y1="1816" x2="1551.5" y2="1811.4" stroke="#000" stroke-width="3.0" stroke-linecap="butt"/>
<line x1="1613" y1="1816" x2="1613" y2="1806.7" stroke="#000" stroke-width="3.0" stroke-linecap="butt"/>
<text x="1613" y="1845.7" font-size="24" text-anchor="middle">576</text>
<line x1="1674.5" y1="1816" x2="1674.5" y2="1811.4" stroke="#000" stroke-width="3.0" stroke-linecap="butt"/>
<line x1="1736" y1="1816" x2="1736" y2="1806.7" stroke="#000" stroke-width="3.0" stroke-linecap="butt"/>
<text x="1736" y="1845.7" font-size="24" text-anchor="middle">574</text>
<line x1="1797.5" y1="1816" x2="1797.5" y2="1811.4" stroke="#000" stroke-width="3.0" stroke-linecap="butt"/>
<line x1="1859" y1="1816" x2="1859" y2="1806.7" stroke="#000" stroke-width="3.0" stroke-linecap="butt"/>
<text x="1859" y="1845.7" font-size="24" text-anchor="middle">572</text>
<line x1="1920.5" y1="1816" x2="1920.5" y2="1811.4" stroke="#000" stroke-width="3.0" stroke-linecap="butt"/>
<text x="1982" y="1845.7" font-size="24" text-anchor="middle">570</text>
<text x="1551.5" y="1882.7" font-size="22" text-anchor="middle">Binding Energy, eV</text>
<text x="1100.4" y="1076.3" font-size="24.76" text-anchor="middle" transform="rotate(-90 1100.4 1076.3)">Intensity, a.u.</text>
<text x="1100.4" y="1391.3" font-size="24.76" text-anchor="middle" transform="rotate(-90 1100.4 1391.3)">Intensity, a.u.</text>
<text x="1100.4" y="1706.3" font-size="24.76" text-anchor="middle" transform="rotate(-90 1100.4 1706.3)">Intensity, a.u.</text>
<rect x="1141.6" y="985.3" width="33.9" height="44.6" fill="#000"/>
<rect x="1137.4" y="981.1" width="33.9" height="44.6" fill="#fff" stroke="#bdbdbd" stroke-width="1"/>
<text x="1154.3" y="1014.9" font-size="33" text-anchor="middle">Q</text>
<rect x="1137.4" y="1300.3" width="55.3" height="44.4" fill="#000"/>
<rect x="1133.2" y="1296.1" width="55.3" height="44.4" fill="#fff" stroke="#bdbdbd" stroke-width="1"/>
<text x="1160.8" y="1329.8" font-size="33" text-anchor="middle">QT</text>
<rect x="1138.2" y="1613.3" width="77.1" height="44.9" fill="#000"/>
<rect x="1134" y="1609.1" width="77.1" height="44.9" fill="#fff" stroke="#bdbdbd" stroke-width="1"/>
<text x="1172.5" y="1643" font-size="33" text-anchor="middle">QLT</text>
<text x="1005.5" y="1003" font-size="46" text-anchor="start">(d)</text>
</svg>
</body></html>
